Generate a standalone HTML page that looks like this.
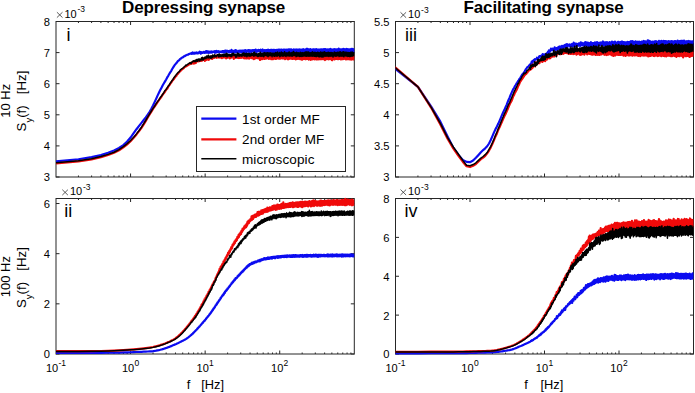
<!DOCTYPE html>
<html><head><meta charset="utf-8"><style>
html,body{margin:0;padding:0;background:#fff;width:695px;height:393px;overflow:hidden}
text{font-family:"Liberation Sans", sans-serif;fill:#000}
</style></head><body>
<svg width="695" height="393" viewBox="0 0 695 393" style="display:block"><rect width="695" height="393" fill="#fff"/><path d="M78.45 177.0v-1.5M78.45 21.5v1.5M91.58 177.0v-1.5M91.58 21.5v1.5M100.90 177.0v-1.5M100.90 21.5v1.5M108.13 177.0v-1.5M108.13 21.5v1.5M114.03 177.0v-1.5M114.03 21.5v1.5M119.02 177.0v-1.5M119.02 21.5v1.5M123.35 177.0v-1.5M123.35 21.5v1.5M127.16 177.0v-1.5M127.16 21.5v1.5M130.57 177.0v-3.5M130.57 21.5v3.5M153.02 177.0v-1.5M153.02 21.5v1.5M166.16 177.0v-1.5M166.16 21.5v1.5M175.47 177.0v-1.5M175.47 21.5v1.5M182.70 177.0v-1.5M182.70 21.5v1.5M188.61 177.0v-1.5M188.61 21.5v1.5M193.60 177.0v-1.5M193.60 21.5v1.5M197.92 177.0v-1.5M197.92 21.5v1.5M201.74 177.0v-1.5M201.74 21.5v1.5M205.15 177.0v-3.5M205.15 21.5v3.5M227.60 177.0v-1.5M227.60 21.5v1.5M240.73 177.0v-1.5M240.73 21.5v1.5M250.05 177.0v-1.5M250.05 21.5v1.5M257.28 177.0v-1.5M257.28 21.5v1.5M263.18 177.0v-1.5M263.18 21.5v1.5M268.17 177.0v-1.5M268.17 21.5v1.5M272.50 177.0v-1.5M272.50 21.5v1.5M276.31 177.0v-1.5M276.31 21.5v1.5M279.73 177.0v-3.5M279.73 21.5v3.5M302.17 177.0v-1.5M302.17 21.5v1.5M315.31 177.0v-1.5M315.31 21.5v1.5M324.62 177.0v-1.5M324.62 21.5v1.5M331.85 177.0v-1.5M331.85 21.5v1.5M337.76 177.0v-1.5M337.76 21.5v1.5M342.75 177.0v-1.5M342.75 21.5v1.5M347.07 177.0v-1.5M347.07 21.5v1.5M350.89 177.0v-1.5M350.89 21.5v1.5M56.0 177.00h3.5M354.3 177.00h-3.5M56.0 145.90h3.5M354.3 145.90h-3.5M56.0 114.80h3.5M354.3 114.80h-3.5M56.0 83.70h3.5M354.3 83.70h-3.5M56.0 52.60h3.5M354.3 52.60h-3.5M56.0 21.50h3.5M354.3 21.50h-3.5" stroke="#262626" stroke-width="1" fill="none"/><rect x="56.0" y="21.5" width="298.3" height="155.5" fill="none" stroke="#262626" stroke-width="1"/><clipPath id="ci"><rect x="56.0" y="20.5" width="298.3" height="157.5"/></clipPath><g clip-path="url(#ci)" fill="none" stroke-linejoin="round" stroke-linecap="round"><path d="M56.00 161.40 L78.45 159.23 L91.58 157.19 L100.90 155.16 L108.13 152.80 L114.03 150.42 L119.02 148.01 L123.35 145.06 L127.16 141.56 L130.57 137.55 L133.66 133.16 L136.48 129.23 L139.07 125.88 L141.47 122.86 L143.71 120.06 L145.80 117.34 L147.76 114.51 L149.61 111.74 L151.36 108.75 L153.02 105.57 L154.60 102.16 L156.11 98.91 L157.55 95.63 L158.93 92.77 L160.25 90.11 L161.52 87.68 L162.74 85.23 L163.92 83.29 L165.06 81.33 L166.16 79.44 L167.22 77.44 L168.25 75.80 L169.24 74.05 L170.21 72.43 L171.15 71.07 L172.06 69.27 L172.95 67.79 L173.81 66.46 L174.65 65.09 L175.47 64.12 L176.27 63.18 L177.05 62.26 L177.82 61.22 L178.56 60.64 L179.29 60.11 L180.00 58.99 L180.70 58.78 L181.38 58.11 L182.05 57.50 L182.70 57.52 L183.34 56.93 L183.97 56.23 L184.59 56.11 L185.19 55.87 L185.79 55.42 L186.37 55.29 L186.94 54.88 L187.51 54.77 L188.06 54.69 L188.61 54.07 L189.14 54.05 L189.67 53.76 L190.19 53.73 L190.70 53.34 L191.08 53.40 L191.32 53.25 L191.58 53.76 L191.82 53.86 L192.08 53.01 L192.32 52.79 L192.58 52.45 L192.82 53.54 L193.08 53.17 L193.32 53.02 L193.58 53.45 L193.82 53.69 L194.08 52.97 L194.32 52.95 L194.58 52.95 L194.82 53.71 L195.08 52.89 L195.32 52.83 L195.58 52.92 L195.82 53.13 L196.08 52.85 L196.32 52.45 L196.58 52.70 L196.82 52.89 L197.08 53.37 L197.32 53.15 L197.58 52.81 L197.82 53.12 L198.08 53.26 L198.32 52.64 L198.58 52.76 L198.82 53.02 L199.08 52.89 L199.32 52.14 L199.58 51.77 L199.82 51.93 L200.08 52.53 L200.32 52.26 L200.58 52.72 L200.82 53.69 L201.08 52.32 L201.32 52.23 L201.58 52.68 L201.82 52.82 L202.08 52.48 L202.32 52.46 L202.58 52.78 L202.82 52.87 L203.08 52.46 L203.32 52.00 L203.58 51.96 L203.82 52.49 L204.08 52.57 L204.32 52.02 L204.58 52.51 L204.82 52.89 L205.08 52.42 L205.32 52.09 L205.58 51.36 L205.82 52.29 L206.08 52.50 L206.32 51.76 L206.58 51.24 L206.82 52.71 L207.08 52.64 L207.32 51.40 L207.58 51.82 L207.82 52.62 L208.08 52.27 L208.32 51.45 L208.58 52.80 L208.82 52.90 L209.08 52.12 L209.32 52.02 L209.58 51.65 L209.82 52.05 L210.08 52.65 L210.32 51.83 L210.58 51.68 L210.82 52.05 L211.08 51.74 L211.32 51.42 L211.58 51.95 L211.82 52.65 L212.08 52.49 L212.32 52.01 L212.58 51.64 L212.82 51.82 L213.08 51.97 L213.32 51.68 L213.58 51.75 L213.82 51.79 L214.08 51.52 L214.32 51.23 L214.58 51.57 L214.82 52.72 L215.08 52.05 L215.32 51.36 L215.58 51.14 L215.82 52.56 L216.08 51.74 L216.32 51.53 L216.58 50.95 L216.82 52.19 L217.08 51.85 L217.32 51.80 L217.58 51.42 L217.82 52.02 L218.08 51.71 L218.32 51.51 L218.58 51.16 L218.82 51.22 L219.08 52.42 L219.32 51.50 L219.58 51.73 L219.82 51.89 L220.08 51.51 L220.32 51.48 L220.58 51.57 L220.82 52.03 L221.08 52.29 L221.32 51.63 L221.58 51.42 L221.82 52.04 L222.08 52.17 L222.32 51.00 L222.58 51.61 L222.82 52.07 L223.08 52.13 L223.32 51.44 L223.58 51.04 L223.82 52.41 L224.08 52.58 L224.32 51.89 L224.58 50.80 L224.82 52.38 L225.08 52.04 L225.32 51.12 L225.58 50.57 L225.82 52.04 L226.08 51.74 L226.32 51.49 L226.58 50.85 L226.82 51.62 L227.08 51.51 L227.32 50.78 L227.58 51.55 L227.82 51.84 L228.08 51.25 L228.32 51.08 L228.58 51.12 L228.82 51.66 L229.08 52.56 L229.32 51.73 L229.58 50.85 L229.82 51.99 L230.08 51.53 L230.32 50.82 L230.58 51.49 L230.82 51.90 L231.08 52.09 L231.32 51.37 L231.58 49.89 L231.82 51.16 L232.08 52.16 L232.32 50.91 L232.58 51.02 L232.82 52.05 L233.08 51.87 L233.32 51.45 L233.58 50.94 L233.82 51.72 L234.08 51.99 L234.32 50.82 L234.58 50.78 L234.82 52.29 L235.08 51.81 L235.32 50.12 L235.58 50.87 L235.82 51.45 L236.08 51.99 L236.32 51.31 L236.58 50.48 L236.82 52.15 L237.08 52.15 L237.32 51.70 L237.58 51.23 L237.82 51.46 L238.08 52.10 L238.32 51.31 L238.58 51.01 L238.82 52.13 L239.08 51.35 L239.32 50.76 L239.58 51.11 L239.82 51.74 L240.08 51.73 L240.32 50.49 L240.58 50.89 L240.82 52.03 L241.08 52.26 L241.32 50.76 L241.58 50.62 L241.82 51.40 L242.08 51.99 L242.32 50.68 L242.58 50.92 L242.82 52.19 L243.08 51.94 L243.32 50.53 L243.58 50.77 L243.82 51.34 L244.08 51.33 L244.32 51.03 L244.58 50.32 L244.82 52.10 L245.08 51.58 L245.32 50.18 L245.58 50.29 L245.82 51.46 L246.08 52.25 L246.32 50.54 L246.58 50.54 L246.82 51.67 L247.08 51.65 L247.32 50.87 L247.58 50.37 L247.82 51.59 L248.08 51.60 L248.32 50.22 L248.58 50.13 L248.82 51.47 L249.08 51.74 L249.32 50.50 L249.58 50.22 L249.82 52.32 L250.08 51.58 L250.32 50.42 L250.58 50.62 L250.82 51.01 L251.08 51.47 L251.32 50.27 L251.58 50.53 L251.82 51.77 L252.08 51.32 L252.32 50.64 L252.58 50.15 L252.82 51.49 L253.08 51.55 L253.32 50.10 L253.58 50.43 L253.82 51.29 L254.08 51.92 L254.32 50.08 L254.58 50.21 L254.82 51.94 L255.08 51.68 L255.32 50.29 L255.58 49.57 L255.82 51.50 L256.08 51.67 L256.32 50.03 L256.58 50.41 L256.82 51.90 L257.08 51.27 L257.32 50.44 L257.58 50.49 L257.82 51.09 L258.08 51.00 L258.32 49.92 L258.58 50.46 L258.82 51.03 L259.08 51.22 L259.32 50.12 L259.58 50.62 L259.82 51.26 L260.08 51.52 L260.32 50.16 L260.58 49.67 L260.82 51.81 L261.08 51.72 L261.32 50.30 L261.58 50.42 L261.82 51.46 L262.08 51.21 L262.32 49.79 L262.58 49.54 L262.82 51.36 L263.08 51.76 L263.32 50.64 L263.58 50.42 L263.82 51.88 L264.08 51.42 L264.32 50.14 L264.58 50.44 L264.82 51.45 L265.08 52.01 L265.32 50.43 L265.58 50.07 L265.82 51.66 L266.08 51.22 L266.32 50.37 L266.58 50.09 L266.82 52.15 L267.08 51.90 L267.32 50.62 L267.58 49.86 L267.82 51.83 L268.08 51.86 L268.32 49.72 L268.58 49.87 L268.82 51.04 L269.08 51.85 L269.32 50.02 L269.58 50.32 L269.82 52.00 L270.08 51.63 L270.32 50.30 L270.58 49.87 L270.82 51.54 L271.08 51.64 L271.32 49.81 L271.58 49.85 L271.82 51.46 L272.08 51.65 L272.32 49.98 L272.58 50.33 L272.82 52.12 L273.08 50.90 L273.32 49.78 L273.58 50.24 L273.82 51.55 L274.08 52.06 L274.32 49.95 L274.58 50.27 L274.82 51.86 L275.08 51.25 L275.32 50.24 L275.58 50.15 L275.82 51.96 L276.08 51.32 L276.32 49.74 L276.58 50.11 L276.82 51.43 L277.08 51.35 L277.32 50.48 L277.58 49.82 L277.82 51.93 L278.08 51.30 L278.32 49.66 L278.58 50.34 L278.82 51.32 L279.08 51.79 L279.32 49.88 L279.58 49.67 L279.82 51.57 L280.08 51.65 L280.32 49.79 L280.58 50.08 L280.82 51.99 L281.08 51.70 L281.32 49.65 L281.58 49.56 L281.82 51.50 L282.08 52.01 L282.32 50.03 L282.58 50.16 L282.82 51.43 L283.08 51.64 L283.32 49.62 L283.58 50.22 L283.82 51.98 L284.08 51.56 L284.32 49.65 L284.58 49.81 L284.82 51.44 L285.08 51.24 L285.32 49.87 L285.58 49.98 L285.82 51.61 L286.08 51.46 L286.32 49.51 L286.58 50.11 L286.82 52.14 L287.08 51.48 L287.32 49.99 L287.58 49.87 L287.82 51.58 L288.08 52.07 L288.32 49.43 L288.58 49.79 L288.82 51.39 L289.08 51.72 L289.32 49.90 L289.58 49.45 L289.82 52.12 L290.08 51.67 L290.32 49.61 L290.58 50.04 L290.82 51.88 L291.08 52.03 L291.32 49.31 L291.58 49.74 L291.82 51.87 L292.08 52.02 L292.32 50.09 L292.58 49.97 L292.82 52.04 L293.08 52.18 L293.32 49.74 L293.58 49.36 L293.82 51.68 L294.08 51.78 L294.32 49.67 L294.58 49.55 L294.82 51.35 L295.08 51.76 L295.32 50.15 L295.58 49.60 L295.82 51.70 L296.08 51.43 L296.32 49.60 L296.58 49.65 L296.82 51.39 L297.08 51.79 L297.32 49.48 L297.58 49.95 L297.82 51.80 L298.08 51.58 L298.32 49.51 L298.58 49.64 L298.82 51.78 L299.08 51.43 L299.32 49.97 L299.58 49.49 L299.82 51.73 L300.08 51.74 L300.32 49.98 L300.58 49.68 L300.82 51.70 L301.08 51.42 L301.32 49.85 L301.58 49.59 L301.82 51.99 L302.08 51.49 L302.32 49.45 L302.58 49.77 L302.82 51.69 L303.08 51.68 L303.32 49.53 L303.58 49.22 L303.82 51.87 L304.08 51.52 L304.32 49.68 L304.58 49.78 L304.82 51.56 L305.08 51.91 L305.32 49.61 L305.58 49.82 L305.82 51.67 L306.08 51.29 L306.32 49.77 L306.58 48.79 L306.82 51.44 L307.08 52.03 L307.32 48.89 L307.58 49.78 L307.82 51.06 L308.08 51.85 L308.32 49.33 L308.58 49.59 L308.82 51.54 L309.08 51.78 L309.32 49.48 L309.58 49.71 L309.82 51.62 L310.08 51.81 L310.32 49.10 L310.58 49.84 L310.82 51.90 L311.08 52.17 L311.32 49.79 L311.58 49.66 L311.82 51.73 L312.08 51.40 L312.32 49.51 L312.58 49.79 L312.82 51.60 L313.08 51.93 L313.32 49.29 L313.58 49.45 L313.82 51.47 L314.08 51.88 L314.32 49.23 L314.58 49.60 L314.82 51.64 L315.08 51.59 L315.32 49.43 L315.58 49.31 L315.82 51.72 L316.08 51.65 L316.32 49.46 L316.58 49.16 L316.82 52.17 L317.08 51.81 L317.32 49.87 L317.58 49.84 L317.82 51.88 L318.08 51.45 L318.32 49.54 L318.58 49.70 L318.82 51.34 L319.08 51.43 L319.32 49.56 L319.58 49.68 L319.82 51.76 L320.08 51.64 L320.32 49.55 L320.58 49.38 L320.82 51.54 L321.08 51.45 L321.32 49.49 L321.58 49.43 L321.82 51.53 L322.08 51.28 L322.32 49.50 L322.58 49.50 L322.82 52.13 L323.08 51.52 L323.32 49.29 L323.58 49.20 L323.82 51.83 L324.08 51.70 L324.32 49.61 L324.58 49.18 L324.82 51.69 L325.08 51.38 L325.32 49.17 L325.58 49.61 L325.82 51.60 L326.08 51.46 L326.32 49.65 L326.58 49.64 L326.82 51.82 L327.08 51.64 L327.32 49.31 L327.58 49.84 L327.82 51.71 L328.08 51.19 L328.32 49.71 L328.58 49.52 L328.82 51.70 L329.08 51.82 L329.32 49.86 L329.58 49.49 L329.82 51.45 L330.08 51.73 L330.32 49.35 L330.58 48.97 L330.82 51.21 L331.08 51.43 L331.32 49.63 L331.58 49.66 L331.82 51.36 L332.08 51.21 L332.32 49.67 L332.58 49.53 L332.82 51.57 L333.08 51.52 L333.32 49.60 L333.58 49.44 L333.82 51.69 L334.08 51.66 L334.32 49.33 L334.58 49.22 L334.82 51.43 L335.08 51.65 L335.32 49.30 L335.58 49.47 L335.82 51.43 L336.08 52.55 L336.32 49.66 L336.58 49.48 L336.82 51.69 L337.08 51.44 L337.32 49.42 L337.58 49.49 L337.82 51.64 L338.08 51.58 L338.32 49.24 L338.58 48.75 L338.82 51.97 L339.08 51.39 L339.32 48.97 L339.58 49.32 L339.82 51.41 L340.08 51.29 L340.32 49.34 L340.58 49.70 L340.82 51.66 L341.08 51.41 L341.32 49.61 L341.58 49.35 L341.82 51.26 L342.08 51.62 L342.32 49.43 L342.58 49.48 L342.82 51.65 L343.08 51.35 L343.32 48.95 L343.58 49.56 L343.82 52.11 L344.08 51.43 L344.32 49.68 L344.58 49.24 L344.82 51.30 L345.08 51.54 L345.32 49.57 L345.58 49.38 L345.82 51.43 L346.08 51.58 L346.32 49.35 L346.58 49.00 L346.82 52.04 L347.08 51.49 L347.32 49.62 L347.58 49.37 L347.82 51.60 L348.08 51.70 L348.32 49.47 L348.58 49.47 L348.82 51.34 L349.08 51.58 L349.32 49.37 L349.58 49.88 L349.82 51.45 L350.08 51.69 L350.32 49.39 L350.58 49.44 L350.82 51.56 L351.08 51.59 L351.32 48.96 L351.58 49.58 L351.82 51.78 L352.08 51.42 L352.32 49.42 L352.58 48.88 L352.82 51.53 L353.08 51.61 L353.32 49.76 L353.58 49.30 L353.82 51.31 L354.08 51.69 L354.32 49.55" stroke="#0b0bf0" stroke-width="2.2"/><path d="M56.00 163.40 L78.45 161.40 L91.58 159.35 L100.90 157.19 L108.13 154.99 L114.03 152.83 L119.02 150.25 L123.35 147.31 L127.16 144.31 L130.57 141.23 L133.66 137.87 L136.48 134.45 L139.07 131.11 L141.47 127.82 L143.71 124.39 L145.80 120.89 L147.76 117.49 L149.61 114.43 L151.36 111.65 L153.02 108.85 L154.60 106.60 L156.11 104.40 L157.55 102.14 L158.93 100.03 L160.25 98.40 L161.52 96.52 L162.74 94.56 L163.92 93.09 L165.06 91.49 L166.16 89.63 L167.22 88.70 L168.25 86.69 L169.24 85.36 L170.21 83.82 L171.15 82.66 L172.06 81.11 L172.95 80.07 L173.81 79.07 L174.65 77.76 L175.47 76.58 L176.27 75.90 L177.05 74.44 L177.82 73.91 L178.56 72.79 L179.29 72.10 L180.00 71.33 L180.70 70.68 L181.38 70.02 L182.05 69.28 L182.70 68.78 L183.34 68.49 L183.97 67.87 L184.59 67.15 L185.19 66.81 L185.79 66.39 L186.37 66.16 L186.94 65.84 L187.51 65.47 L188.06 64.95 L188.61 64.82 L189.14 64.16 L189.67 63.49 L190.19 64.00 L190.70 63.34 L191.08 63.06 L191.32 62.91 L191.58 62.69 L191.82 63.72 L192.08 63.31 L192.32 62.88 L192.58 62.06 L192.82 62.25 L193.08 63.02 L193.32 62.98 L193.58 63.02 L193.82 63.63 L194.08 62.54 L194.32 62.54 L194.58 62.13 L194.82 62.26 L195.08 61.82 L195.32 61.49 L195.58 60.74 L195.82 63.04 L196.08 61.95 L196.32 61.84 L196.58 60.93 L196.82 61.61 L197.08 61.24 L197.32 61.08 L197.58 60.54 L197.82 61.18 L198.08 60.80 L198.32 60.71 L198.58 60.24 L198.82 61.33 L199.08 61.04 L199.32 60.37 L199.58 60.66 L199.82 60.89 L200.08 60.63 L200.32 59.85 L200.58 59.78 L200.82 59.84 L201.08 60.70 L201.32 60.32 L201.58 59.75 L201.82 60.79 L202.08 60.00 L202.32 58.87 L202.58 58.34 L202.82 59.24 L203.08 59.25 L203.32 58.65 L203.58 58.36 L203.82 59.93 L204.08 58.89 L204.32 58.29 L204.58 59.43 L204.82 60.91 L205.08 59.65 L205.32 58.96 L205.58 58.52 L205.82 60.15 L206.08 58.01 L206.32 57.85 L206.58 58.26 L206.82 58.69 L207.08 59.63 L207.32 57.54 L207.58 58.02 L207.82 58.69 L208.08 59.09 L208.32 58.79 L208.58 58.51 L208.82 59.80 L209.08 58.27 L209.32 57.81 L209.58 57.80 L209.82 58.62 L210.08 57.70 L210.32 57.58 L210.58 57.00 L210.82 57.34 L211.08 57.29 L211.32 56.60 L211.58 56.47 L211.82 57.84 L212.08 58.92 L212.32 58.66 L212.58 57.23 L212.82 58.15 L213.08 58.15 L213.32 56.88 L213.58 57.34 L213.82 57.60 L214.08 57.88 L214.32 56.64 L214.58 56.52 L214.82 57.15 L215.08 56.56 L215.32 55.81 L215.58 56.65 L215.82 57.32 L216.08 57.48 L216.32 56.61 L216.58 56.84 L216.82 57.76 L217.08 57.27 L217.32 55.18 L217.58 55.78 L217.82 57.22 L218.08 57.47 L218.32 55.95 L218.58 56.10 L218.82 56.40 L219.08 57.26 L219.32 56.61 L219.58 56.23 L219.82 57.17 L220.08 57.59 L220.32 57.04 L220.58 55.29 L220.82 57.05 L221.08 57.28 L221.32 56.19 L221.58 55.60 L221.82 58.13 L222.08 57.91 L222.32 56.37 L222.58 55.87 L222.82 57.04 L223.08 57.54 L223.32 56.17 L223.58 56.61 L223.82 57.31 L224.08 57.32 L224.32 56.12 L224.58 55.85 L224.82 57.35 L225.08 57.65 L225.32 55.70 L225.58 55.55 L225.82 56.87 L226.08 58.37 L226.32 56.65 L226.58 56.64 L226.82 57.51 L227.08 57.90 L227.32 56.17 L227.58 56.51 L227.82 56.75 L228.08 57.29 L228.32 56.35 L228.58 55.80 L228.82 57.64 L229.08 56.80 L229.32 55.73 L229.58 57.03 L229.82 58.39 L230.08 57.31 L230.32 55.19 L230.58 56.28 L230.82 57.83 L231.08 57.36 L231.32 55.60 L231.58 56.35 L231.82 57.05 L232.08 57.33 L232.32 55.42 L232.58 55.83 L232.82 57.20 L233.08 57.52 L233.32 56.31 L233.58 55.39 L233.82 58.90 L234.08 57.11 L234.32 55.90 L234.58 55.66 L234.82 56.84 L235.08 57.93 L235.32 56.61 L235.58 56.27 L235.82 57.57 L236.08 57.48 L236.32 55.88 L236.58 56.88 L236.82 57.49 L237.08 56.53 L237.32 56.11 L237.58 55.99 L237.82 57.62 L238.08 57.90 L238.32 56.45 L238.58 56.54 L238.82 57.44 L239.08 58.10 L239.32 57.39 L239.58 56.15 L239.82 57.45 L240.08 57.39 L240.32 56.22 L240.58 56.74 L240.82 57.90 L241.08 57.78 L241.32 56.17 L241.58 55.82 L241.82 57.67 L242.08 57.44 L242.32 56.13 L242.58 56.43 L242.82 57.18 L243.08 57.34 L243.32 56.38 L243.58 56.45 L243.82 57.99 L244.08 58.31 L244.32 56.33 L244.58 56.94 L244.82 57.88 L245.08 57.70 L245.32 56.11 L245.58 57.06 L245.82 58.37 L246.08 58.34 L246.32 56.17 L246.58 56.60 L246.82 57.90 L247.08 58.29 L247.32 56.62 L247.58 56.32 L247.82 58.17 L248.08 57.69 L248.32 55.72 L248.58 56.19 L248.82 57.86 L249.08 58.69 L249.32 56.72 L249.58 55.99 L249.82 58.06 L250.08 57.68 L250.32 55.95 L250.58 55.62 L250.82 57.49 L251.08 57.63 L251.32 56.68 L251.58 56.19 L251.82 58.02 L252.08 57.72 L252.32 56.70 L252.58 55.83 L252.82 58.36 L253.08 58.45 L253.32 56.66 L253.58 56.40 L253.82 59.20 L254.08 57.96 L254.32 56.63 L254.58 57.30 L254.82 57.69 L255.08 58.51 L255.32 56.32 L255.58 55.23 L255.82 58.16 L256.08 57.77 L256.32 55.93 L256.58 55.71 L256.82 57.48 L257.08 58.17 L257.32 56.94 L257.58 56.63 L257.82 58.23 L258.08 58.11 L258.32 56.29 L258.58 56.39 L258.82 57.97 L259.08 58.56 L259.32 56.33 L259.58 56.91 L259.82 58.84 L260.08 59.97 L260.32 55.81 L260.58 56.28 L260.82 58.48 L261.08 57.81 L261.32 56.69 L261.58 56.22 L261.82 57.77 L262.08 59.23 L262.32 55.85 L262.58 55.61 L262.82 58.25 L263.08 57.76 L263.32 56.90 L263.58 55.80 L263.82 58.75 L264.08 58.90 L264.32 56.35 L264.58 56.12 L264.82 58.83 L265.08 57.77 L265.32 56.40 L265.58 56.29 L265.82 58.67 L266.08 58.63 L266.32 56.86 L266.58 56.35 L266.82 58.16 L267.08 58.07 L267.32 56.56 L267.58 56.40 L267.82 58.05 L268.08 58.40 L268.32 56.38 L268.58 56.33 L268.82 58.94 L269.08 58.45 L269.32 56.63 L269.58 56.64 L269.82 58.37 L270.08 58.10 L270.32 56.54 L270.58 56.07 L270.82 58.32 L271.08 59.09 L271.32 56.45 L271.58 55.90 L271.82 58.46 L272.08 58.98 L272.32 56.35 L272.58 56.26 L272.82 58.49 L273.08 59.22 L273.32 56.53 L273.58 56.76 L273.82 58.37 L274.08 58.44 L274.32 56.27 L274.58 56.09 L274.82 58.09 L275.08 58.82 L275.32 56.22 L275.58 55.59 L275.82 58.37 L276.08 58.94 L276.32 56.47 L276.58 56.65 L276.82 58.29 L277.08 58.17 L277.32 56.08 L277.58 55.65 L277.82 58.39 L278.08 58.35 L278.32 56.29 L278.58 55.87 L278.82 58.54 L279.08 58.21 L279.32 56.20 L279.58 56.26 L279.82 58.41 L280.08 58.68 L280.32 56.22 L280.58 56.27 L280.82 58.37 L281.08 58.23 L281.32 56.12 L281.58 56.23 L281.82 58.16 L282.08 58.31 L282.32 56.33 L282.58 55.94 L282.82 58.45 L283.08 58.32 L283.32 55.47 L283.58 55.55 L283.82 58.22 L284.08 58.40 L284.32 56.23 L284.58 55.90 L284.82 58.68 L285.08 59.09 L285.32 56.28 L285.58 56.01 L285.82 58.61 L286.08 58.27 L286.32 55.82 L286.58 56.44 L286.82 58.29 L287.08 58.64 L287.32 55.71 L287.58 56.53 L287.82 58.46 L288.08 59.40 L288.32 56.56 L288.58 56.14 L288.82 58.33 L289.08 58.95 L289.32 56.04 L289.58 56.13 L289.82 58.48 L290.08 58.50 L290.32 56.30 L290.58 56.78 L290.82 58.74 L291.08 58.18 L291.32 56.27 L291.58 56.39 L291.82 58.58 L292.08 58.73 L292.32 55.77 L292.58 56.23 L292.82 58.90 L293.08 58.64 L293.32 56.45 L293.58 56.50 L293.82 58.65 L294.08 58.43 L294.32 56.21 L294.58 56.27 L294.82 58.93 L295.08 58.76 L295.32 56.39 L295.58 55.69 L295.82 59.33 L296.08 59.21 L296.32 55.97 L296.58 56.16 L296.82 58.73 L297.08 58.72 L297.32 55.72 L297.58 55.31 L297.82 58.80 L298.08 58.82 L298.32 56.00 L298.58 56.49 L298.82 58.60 L299.08 58.64 L299.32 56.50 L299.58 56.01 L299.82 59.03 L300.08 58.84 L300.32 56.11 L300.58 55.88 L300.82 59.05 L301.08 59.29 L301.32 56.77 L301.58 56.94 L301.82 59.27 L302.08 59.72 L302.32 55.83 L302.58 56.35 L302.82 58.90 L303.08 58.94 L303.32 55.69 L303.58 56.04 L303.82 58.45 L304.08 59.01 L304.32 55.96 L304.58 55.73 L304.82 58.87 L305.08 58.68 L305.32 55.87 L305.58 56.08 L305.82 59.28 L306.08 58.48 L306.32 55.77 L306.58 56.24 L306.82 58.93 L307.08 58.51 L307.32 56.15 L307.58 55.78 L307.82 58.95 L308.08 58.56 L308.32 55.81 L308.58 55.44 L308.82 59.62 L309.08 59.26 L309.32 56.02 L309.58 56.16 L309.82 58.81 L310.08 58.36 L310.32 55.47 L310.58 55.69 L310.82 59.90 L311.08 59.35 L311.32 55.12 L311.58 55.98 L311.82 58.45 L312.08 58.52 L312.32 55.51 L312.58 56.28 L312.82 59.44 L313.08 59.09 L313.32 55.04 L313.58 56.31 L313.82 58.67 L314.08 58.62 L314.32 55.62 L314.58 55.99 L314.82 59.52 L315.08 58.62 L315.32 56.09 L315.58 55.94 L315.82 59.17 L316.08 58.86 L316.32 56.35 L316.58 55.79 L316.82 58.82 L317.08 59.53 L317.32 56.13 L317.58 55.88 L317.82 58.85 L318.08 58.69 L318.32 55.09 L318.58 56.05 L318.82 59.32 L319.08 58.66 L319.32 56.13 L319.58 55.68 L319.82 58.80 L320.08 59.21 L320.32 55.87 L320.58 56.23 L320.82 58.99 L321.08 59.23 L321.32 56.30 L321.58 56.26 L321.82 59.01 L322.08 58.86 L322.32 56.22 L322.58 55.99 L322.82 59.04 L323.08 59.03 L323.32 56.25 L323.58 55.99 L323.82 59.18 L324.08 59.13 L324.32 55.41 L324.58 55.67 L324.82 59.31 L325.08 60.03 L325.32 55.99 L325.58 55.52 L325.82 58.84 L326.08 59.06 L326.32 55.84 L326.58 55.93 L326.82 59.19 L327.08 58.96 L327.32 56.11 L327.58 55.53 L327.82 58.63 L328.08 58.97 L328.32 56.14 L328.58 56.06 L328.82 59.33 L329.08 58.78 L329.32 56.05 L329.58 56.12 L329.82 58.76 L330.08 58.91 L330.32 56.53 L330.58 55.95 L330.82 59.15 L331.08 59.10 L331.32 55.55 L331.58 56.09 L331.82 60.03 L332.08 60.22 L332.32 55.88 L332.58 56.04 L332.82 59.34 L333.08 58.73 L333.32 55.50 L333.58 56.14 L333.82 58.97 L334.08 59.30 L334.32 56.04 L334.58 56.06 L334.82 59.32 L335.08 59.05 L335.32 55.69 L335.58 56.33 L335.82 58.80 L336.08 58.96 L336.32 56.12 L336.58 55.21 L336.82 58.69 L337.08 58.84 L337.32 56.14 L337.58 56.32 L337.82 58.97 L338.08 59.27 L338.32 55.98 L338.58 56.48 L338.82 58.91 L339.08 58.86 L339.32 55.91 L339.58 55.79 L339.82 58.96 L340.08 58.69 L340.32 56.02 L340.58 55.60 L340.82 59.49 L341.08 59.51 L341.32 55.43 L341.58 56.45 L341.82 59.17 L342.08 58.76 L342.32 56.30 L342.58 56.20 L342.82 59.12 L343.08 59.12 L343.32 56.32 L343.58 55.88 L343.82 58.77 L344.08 58.54 L344.32 55.90 L344.58 56.16 L344.82 58.98 L345.08 58.54 L345.32 56.17 L345.58 56.03 L345.82 59.44 L346.08 59.36 L346.32 56.24 L346.58 56.23 L346.82 59.23 L347.08 58.88 L347.32 55.79 L347.58 55.90 L347.82 59.03 L348.08 59.17 L348.32 56.17 L348.58 55.55 L348.82 58.85 L349.08 59.10 L349.32 55.81 L349.58 56.18 L349.82 59.31 L350.08 58.88 L350.32 55.95 L350.58 55.90 L350.82 59.27 L351.08 59.57 L351.32 55.85 L351.58 55.88 L351.82 58.64 L352.08 59.12 L352.32 55.94 L352.58 55.98 L352.82 58.93 L353.08 59.32 L353.32 56.34 L353.58 55.44 L353.82 59.31 L354.08 58.91 L354.32 56.51" stroke="#f00a0a" stroke-width="2.2"/><path d="M56.00 162.80 L78.45 160.80 L91.58 158.75 L100.90 156.59 L108.13 154.40 L114.03 152.23 L119.02 149.62 L123.35 146.63 L127.16 143.61 L130.57 140.54 L133.66 137.23 L136.48 133.87 L139.07 130.54 L141.47 127.20 L143.71 123.69 L145.80 120.25 L147.76 116.89 L149.61 113.85 L151.36 111.01 L153.02 108.35 L154.60 106.23 L156.11 103.64 L157.55 101.67 L158.93 99.86 L160.25 97.56 L161.52 95.99 L162.74 94.26 L163.92 92.42 L165.06 90.47 L166.16 89.45 L167.22 87.70 L168.25 86.09 L169.24 84.95 L170.21 83.15 L171.15 82.11 L172.06 80.47 L172.95 79.41 L173.81 77.85 L174.65 76.83 L175.47 75.61 L176.27 74.61 L177.05 73.83 L177.82 72.83 L178.56 72.06 L179.29 71.54 L180.00 70.46 L180.70 69.34 L181.38 69.10 L182.05 68.59 L182.70 68.25 L183.34 67.71 L183.97 67.16 L184.59 66.34 L185.19 66.11 L185.79 65.07 L186.37 65.45 L186.94 64.82 L187.51 64.48 L188.06 63.89 L188.61 63.72 L189.14 63.22 L189.67 63.35 L190.19 62.52 L190.70 63.01 L191.08 63.79 L191.32 62.84 L191.58 62.22 L191.82 62.26 L192.08 62.21 L192.32 62.11 L192.58 61.17 L192.82 61.82 L193.08 61.33 L193.32 60.97 L193.58 60.73 L193.82 61.33 L194.08 61.16 L194.32 60.57 L194.58 61.05 L194.82 61.68 L195.08 61.68 L195.32 61.48 L195.58 60.56 L195.82 61.38 L196.08 60.41 L196.32 59.39 L196.58 60.05 L196.82 60.86 L197.08 61.33 L197.32 59.60 L197.58 59.95 L197.82 61.24 L198.08 60.73 L198.32 59.04 L198.58 59.14 L198.82 59.64 L199.08 59.76 L199.32 59.62 L199.58 58.96 L199.82 61.05 L200.08 59.65 L200.32 59.65 L200.58 59.41 L200.82 59.79 L201.08 58.94 L201.32 58.69 L201.58 57.69 L201.82 60.08 L202.08 58.07 L202.32 57.50 L202.58 57.36 L202.82 57.98 L203.08 59.99 L203.32 58.72 L203.58 59.37 L203.82 59.40 L204.08 58.55 L204.32 58.54 L204.58 57.35 L204.82 57.86 L205.08 57.80 L205.32 57.28 L205.58 57.04 L205.82 58.62 L206.08 58.06 L206.32 57.36 L206.58 55.95 L206.82 57.84 L207.08 57.86 L207.32 57.09 L207.58 55.99 L207.82 57.35 L208.08 57.72 L208.32 55.33 L208.58 55.28 L208.82 57.21 L209.08 58.04 L209.32 56.70 L209.58 56.60 L209.82 56.91 L210.08 56.43 L210.32 56.17 L210.58 57.42 L210.82 58.25 L211.08 56.02 L211.32 55.96 L211.58 56.23 L211.82 57.99 L212.08 57.06 L212.32 56.33 L212.58 55.08 L212.82 55.81 L213.08 57.13 L213.32 56.00 L213.58 55.38 L213.82 55.45 L214.08 55.48 L214.32 55.42 L214.58 54.68 L214.82 56.89 L215.08 56.67 L215.32 56.19 L215.58 55.56 L215.82 56.12 L216.08 56.75 L216.32 55.93 L216.58 56.05 L216.82 56.42 L217.08 55.19 L217.32 54.75 L217.58 55.03 L217.82 55.17 L218.08 55.21 L218.32 54.64 L218.58 55.83 L218.82 56.95 L219.08 54.69 L219.32 53.94 L219.58 54.46 L219.82 55.73 L220.08 56.37 L220.32 54.71 L220.58 55.26 L220.82 55.98 L221.08 56.55 L221.32 55.70 L221.58 55.12 L221.82 56.00 L222.08 55.66 L222.32 54.45 L222.58 55.06 L222.82 55.30 L223.08 56.26 L223.32 54.50 L223.58 54.38 L223.82 56.44 L224.08 55.92 L224.32 54.20 L224.58 54.74 L224.82 56.02 L225.08 56.11 L225.32 55.15 L225.58 53.89 L225.82 55.45 L226.08 56.34 L226.32 54.17 L226.58 53.14 L226.82 55.90 L227.08 56.82 L227.32 54.29 L227.58 54.07 L227.82 55.82 L228.08 55.57 L228.32 54.48 L228.58 55.10 L228.82 55.78 L229.08 56.25 L229.32 54.71 L229.58 54.56 L229.82 55.42 L230.08 54.87 L230.32 54.52 L230.58 55.23 L230.82 56.54 L231.08 56.20 L231.32 54.88 L231.58 53.99 L231.82 56.46 L232.08 55.93 L232.32 54.51 L232.58 53.47 L232.82 54.79 L233.08 54.99 L233.32 53.17 L233.58 53.73 L233.82 55.13 L234.08 55.65 L234.32 54.52 L234.58 54.21 L234.82 55.44 L235.08 55.27 L235.32 54.16 L235.58 54.77 L235.82 57.30 L236.08 55.80 L236.32 54.98 L236.58 55.16 L236.82 56.80 L237.08 55.10 L237.32 53.09 L237.58 54.16 L237.82 54.95 L238.08 55.46 L238.32 53.40 L238.58 54.45 L238.82 55.75 L239.08 56.41 L239.32 54.52 L239.58 53.97 L239.82 55.22 L240.08 55.99 L240.32 54.74 L240.58 54.34 L240.82 55.50 L241.08 55.76 L241.32 54.23 L241.58 54.26 L241.82 56.15 L242.08 55.64 L242.32 53.98 L242.58 53.49 L242.82 55.65 L243.08 55.37 L243.32 53.11 L243.58 53.09 L243.82 55.46 L244.08 55.10 L244.32 53.23 L244.58 54.05 L244.82 56.08 L245.08 56.26 L245.32 53.85 L245.58 54.08 L245.82 55.37 L246.08 55.30 L246.32 53.22 L246.58 54.20 L246.82 56.66 L247.08 56.34 L247.32 53.85 L247.58 54.02 L247.82 55.79 L248.08 55.36 L248.32 53.33 L248.58 53.81 L248.82 55.73 L249.08 56.11 L249.32 54.44 L249.58 53.77 L249.82 55.11 L250.08 55.98 L250.32 54.00 L250.58 54.10 L250.82 55.96 L251.08 55.14 L251.32 53.35 L251.58 54.42 L251.82 55.55 L252.08 55.40 L252.32 53.59 L252.58 53.69 L252.82 55.24 L253.08 55.42 L253.32 53.62 L253.58 52.67 L253.82 56.16 L254.08 56.07 L254.32 52.21 L254.58 52.15 L254.82 55.70 L255.08 55.46 L255.32 53.48 L255.58 53.96 L255.82 55.46 L256.08 55.24 L256.32 53.80 L256.58 53.47 L256.82 55.18 L257.08 56.01 L257.32 54.20 L257.58 54.16 L257.82 56.59 L258.08 55.43 L258.32 53.45 L258.58 54.42 L258.82 56.18 L259.08 55.91 L259.32 53.47 L259.58 53.21 L259.82 55.52 L260.08 55.84 L260.32 52.29 L260.58 53.28 L260.82 56.26 L261.08 56.11 L261.32 53.51 L261.58 53.64 L261.82 55.86 L262.08 56.09 L262.32 53.54 L262.58 53.23 L262.82 55.99 L263.08 55.36 L263.32 53.30 L263.58 53.86 L263.82 56.69 L264.08 55.53 L264.32 52.74 L264.58 52.58 L264.82 55.20 L265.08 55.46 L265.32 52.96 L265.58 53.74 L265.82 55.36 L266.08 55.28 L266.32 52.95 L266.58 53.45 L266.82 55.56 L267.08 56.07 L267.32 52.78 L267.58 52.74 L267.82 55.67 L268.08 56.65 L268.32 53.49 L268.58 53.01 L268.82 55.19 L269.08 55.63 L269.32 53.06 L269.58 53.91 L269.82 55.39 L270.08 55.68 L270.32 53.11 L270.58 52.89 L270.82 55.51 L271.08 55.01 L271.32 53.10 L271.58 53.34 L271.82 55.33 L272.08 56.67 L272.32 53.58 L272.58 53.22 L272.82 55.31 L273.08 55.26 L273.32 53.67 L273.58 53.32 L273.82 55.51 L274.08 56.21 L274.32 53.57 L274.58 53.54 L274.82 56.18 L275.08 55.13 L275.32 52.74 L275.58 52.48 L275.82 55.45 L276.08 56.03 L276.32 53.36 L276.58 52.75 L276.82 55.60 L277.08 56.10 L277.32 52.30 L277.58 52.14 L277.82 55.88 L278.08 55.06 L278.32 53.22 L278.58 53.28 L278.82 55.58 L279.08 55.57 L279.32 53.34 L279.58 52.44 L279.82 56.75 L280.08 55.21 L280.32 53.43 L280.58 53.77 L280.82 55.25 L281.08 55.90 L281.32 51.88 L281.58 53.26 L281.82 55.37 L282.08 55.73 L282.32 52.68 L282.58 53.02 L282.82 56.32 L283.08 56.11 L283.32 53.27 L283.58 53.34 L283.82 55.70 L284.08 55.44 L284.32 52.35 L284.58 51.80 L284.82 55.54 L285.08 55.93 L285.32 52.77 L285.58 53.06 L285.82 55.94 L286.08 56.50 L286.32 53.22 L286.58 52.82 L286.82 55.37 L287.08 55.16 L287.32 52.95 L287.58 53.31 L287.82 55.93 L288.08 55.33 L288.32 52.70 L288.58 52.39 L288.82 55.91 L289.08 56.03 L289.32 52.11 L289.58 53.93 L289.82 56.09 L290.08 55.86 L290.32 53.12 L290.58 52.97 L290.82 55.81 L291.08 55.85 L291.32 53.15 L291.58 52.90 L291.82 56.14 L292.08 56.28 L292.32 52.30 L292.58 53.13 L292.82 55.75 L293.08 55.52 L293.32 52.76 L293.58 51.59 L293.82 55.60 L294.08 55.41 L294.32 52.43 L294.58 53.33 L294.82 55.55 L295.08 55.37 L295.32 53.22 L295.58 52.71 L295.82 55.79 L296.08 56.62 L296.32 52.97 L296.58 52.17 L296.82 55.55 L297.08 56.12 L297.32 52.76 L297.58 52.86 L297.82 55.93 L298.08 55.49 L298.32 53.28 L298.58 52.71 L298.82 56.02 L299.08 56.35 L299.32 52.97 L299.58 52.90 L299.82 55.60 L300.08 56.38 L300.32 52.22 L300.58 53.24 L300.82 56.17 L301.08 55.90 L301.32 52.90 L301.58 52.81 L301.82 55.69 L302.08 56.36 L302.32 53.21 L302.58 52.60 L302.82 55.52 L303.08 56.04 L303.32 53.29 L303.58 52.86 L303.82 55.88 L304.08 55.72 L304.32 53.55 L304.58 52.56 L304.82 55.91 L305.08 55.79 L305.32 51.91 L305.58 52.75 L305.82 56.32 L306.08 55.88 L306.32 51.88 L306.58 52.10 L306.82 55.39 L307.08 56.14 L307.32 52.10 L307.58 53.05 L307.82 55.89 L308.08 55.55 L308.32 52.64 L308.58 51.98 L308.82 56.26 L309.08 55.45 L309.32 52.63 L309.58 52.99 L309.82 55.94 L310.08 56.24 L310.32 52.96 L310.58 52.77 L310.82 55.73 L311.08 55.84 L311.32 52.58 L311.58 52.93 L311.82 55.91 L312.08 56.29 L312.32 52.05 L312.58 51.90 L312.82 56.09 L313.08 55.62 L313.32 52.53 L313.58 53.60 L313.82 55.73 L314.08 56.19 L314.32 52.68 L314.58 52.38 L314.82 56.37 L315.08 56.22 L315.32 52.49 L315.58 52.47 L315.82 56.53 L316.08 56.44 L316.32 52.73 L316.58 53.19 L316.82 56.38 L317.08 55.96 L317.32 52.85 L317.58 52.26 L317.82 55.72 L318.08 56.33 L318.32 52.48 L318.58 52.72 L318.82 56.72 L319.08 55.72 L319.32 52.94 L319.58 52.73 L319.82 56.74 L320.08 56.31 L320.32 52.88 L320.58 51.99 L320.82 55.59 L321.08 56.37 L321.32 52.39 L321.58 52.39 L321.82 56.88 L322.08 56.50 L322.32 53.07 L322.58 52.36 L322.82 56.19 L323.08 56.98 L323.32 52.69 L323.58 52.37 L323.82 55.26 L324.08 56.06 L324.32 51.84 L324.58 53.04 L324.82 55.41 L325.08 56.38 L325.32 52.41 L325.58 52.52 L325.82 55.55 L326.08 55.79 L326.32 52.63 L326.58 52.85 L326.82 56.21 L327.08 56.10 L327.32 52.48 L327.58 52.58 L327.82 55.28 L328.08 56.05 L328.32 52.61 L328.58 52.28 L328.82 56.53 L329.08 56.25 L329.32 52.73 L329.58 52.96 L329.82 55.87 L330.08 55.93 L330.32 52.55 L330.58 52.69 L330.82 56.16 L331.08 55.56 L331.32 52.61 L331.58 52.89 L331.82 56.05 L332.08 55.27 L332.32 52.85 L332.58 52.83 L332.82 55.86 L333.08 56.96 L333.32 53.03 L333.58 52.90 L333.82 55.84 L334.08 55.77 L334.32 52.01 L334.58 52.62 L334.82 56.07 L335.08 55.62 L335.32 52.81 L335.58 52.63 L335.82 56.15 L336.08 55.87 L336.32 52.99 L336.58 52.56 L336.82 56.00 L337.08 56.00 L337.32 52.83 L337.58 52.24 L337.82 55.57 L338.08 55.44 L338.32 52.62 L338.58 52.93 L338.82 55.73 L339.08 56.46 L339.32 52.11 L339.58 52.89 L339.82 55.77 L340.08 55.91 L340.32 51.83 L340.58 52.93 L340.82 55.70 L341.08 56.19 L341.32 52.68 L341.58 52.57 L341.82 55.98 L342.08 55.97 L342.32 52.08 L342.58 52.93 L342.82 55.68 L343.08 56.09 L343.32 52.48 L343.58 51.71 L343.82 56.76 L344.08 55.87 L344.32 52.31 L344.58 52.48 L344.82 55.69 L345.08 55.64 L345.32 52.39 L345.58 52.29 L345.82 55.67 L346.08 55.98 L346.32 52.22 L346.58 52.44 L346.82 55.67 L347.08 56.01 L347.32 52.60 L347.58 53.23 L347.82 56.38 L348.08 56.30 L348.32 52.54 L348.58 52.70 L348.82 55.99 L349.08 56.39 L349.32 52.72 L349.58 52.77 L349.82 55.57 L350.08 56.55 L350.32 53.38 L350.58 52.18 L350.82 56.25 L351.08 55.89 L351.32 52.49 L351.58 52.25 L351.82 55.75 L352.08 56.26 L352.32 52.01 L352.58 52.50 L352.82 55.64 L353.08 55.59 L353.32 52.89 L353.58 52.90 L353.82 55.61 L354.08 55.77 L354.32 52.76" stroke="#000" stroke-width="1.5"/></g><text x="50.0" y="181.4" text-anchor="end" font-size="11.2">3</text><text x="50.0" y="150.3" text-anchor="end" font-size="11.2">4</text><text x="50.0" y="119.2" text-anchor="end" font-size="11.2">5</text><text x="50.0" y="88.1" text-anchor="end" font-size="11.2">6</text><text x="50.0" y="57.0" text-anchor="end" font-size="11.2">7</text><text x="50.0" y="25.9" text-anchor="end" font-size="11.2">8</text><path d="M78.45 354.0v-1.5M78.45 198.5v1.5M91.58 354.0v-1.5M91.58 198.5v1.5M100.90 354.0v-1.5M100.90 198.5v1.5M108.13 354.0v-1.5M108.13 198.5v1.5M114.03 354.0v-1.5M114.03 198.5v1.5M119.02 354.0v-1.5M119.02 198.5v1.5M123.35 354.0v-1.5M123.35 198.5v1.5M127.16 354.0v-1.5M127.16 198.5v1.5M130.57 354.0v-3.5M130.57 198.5v3.5M153.02 354.0v-1.5M153.02 198.5v1.5M166.16 354.0v-1.5M166.16 198.5v1.5M175.47 354.0v-1.5M175.47 198.5v1.5M182.70 354.0v-1.5M182.70 198.5v1.5M188.61 354.0v-1.5M188.61 198.5v1.5M193.60 354.0v-1.5M193.60 198.5v1.5M197.92 354.0v-1.5M197.92 198.5v1.5M201.74 354.0v-1.5M201.74 198.5v1.5M205.15 354.0v-3.5M205.15 198.5v3.5M227.60 354.0v-1.5M227.60 198.5v1.5M240.73 354.0v-1.5M240.73 198.5v1.5M250.05 354.0v-1.5M250.05 198.5v1.5M257.28 354.0v-1.5M257.28 198.5v1.5M263.18 354.0v-1.5M263.18 198.5v1.5M268.17 354.0v-1.5M268.17 198.5v1.5M272.50 354.0v-1.5M272.50 198.5v1.5M276.31 354.0v-1.5M276.31 198.5v1.5M279.73 354.0v-3.5M279.73 198.5v3.5M302.17 354.0v-1.5M302.17 198.5v1.5M315.31 354.0v-1.5M315.31 198.5v1.5M324.62 354.0v-1.5M324.62 198.5v1.5M331.85 354.0v-1.5M331.85 198.5v1.5M337.76 354.0v-1.5M337.76 198.5v1.5M342.75 354.0v-1.5M342.75 198.5v1.5M347.07 354.0v-1.5M347.07 198.5v1.5M350.89 354.0v-1.5M350.89 198.5v1.5M56.0 354.00h3.5M354.3 354.00h-3.5M56.0 303.84h3.5M354.3 303.84h-3.5M56.0 253.68h3.5M354.3 253.68h-3.5M56.0 203.52h3.5M354.3 203.52h-3.5" stroke="#262626" stroke-width="1" fill="none"/><rect x="56.0" y="198.5" width="298.3" height="155.5" fill="none" stroke="#262626" stroke-width="1"/><clipPath id="cii"><rect x="56.0" y="197.5" width="298.3" height="157.5"/></clipPath><g clip-path="url(#cii)" fill="none" stroke-linejoin="round" stroke-linecap="round"><path d="M56.00 353.00 L78.45 352.94 L91.58 352.86 L100.90 352.79 L108.13 352.72 L114.03 352.63 L119.02 352.53 L123.35 352.44 L127.16 352.33 L130.57 352.23 L133.66 352.13 L136.48 352.02 L139.07 351.92 L141.47 351.82 L143.71 351.72 L145.80 351.62 L147.76 351.52 L149.61 351.42 L151.36 351.31 L153.02 351.14 L154.60 350.92 L156.11 350.67 L157.55 350.39 L158.93 350.10 L160.25 349.78 L161.52 349.44 L162.74 349.09 L163.92 348.73 L165.06 348.37 L166.16 348.00 L167.22 347.63 L168.25 347.24 L169.24 346.88 L170.21 346.49 L171.15 346.11 L172.06 345.73 L172.95 345.35 L173.81 344.99 L174.65 344.62 L175.47 344.25 L176.27 343.90 L177.05 343.50 L177.82 343.16 L178.56 342.80 L179.29 342.47 L180.00 342.11 L180.70 341.76 L181.38 341.43 L182.05 341.10 L182.70 340.79 L183.34 340.44 L183.97 340.11 L184.59 339.79 L185.19 339.44 L185.79 339.11 L186.37 338.74 L186.94 338.34 L187.51 337.95 L188.06 337.57 L188.61 337.13 L189.14 336.72 L189.67 336.25 L190.19 335.82 L190.70 335.34 L191.08 334.97 L191.32 334.88 L191.58 334.48 L191.82 334.56 L192.08 334.04 L192.32 333.97 L192.58 333.55 L192.82 333.62 L193.08 333.12 L193.32 333.07 L193.58 332.51 L193.82 332.53 L194.08 332.22 L194.32 332.06 L194.58 331.56 L194.82 331.61 L195.08 331.07 L195.32 331.07 L195.58 330.50 L195.82 330.52 L196.08 330.05 L196.32 329.98 L196.58 329.56 L196.82 329.58 L197.08 328.97 L197.32 328.90 L197.58 328.30 L197.82 328.33 L198.08 327.88 L198.32 327.84 L198.58 327.27 L198.82 327.34 L199.08 326.78 L199.32 326.78 L199.58 326.04 L199.82 326.14 L200.08 325.74 L200.32 325.55 L200.58 325.07 L200.82 325.09 L201.08 324.62 L201.32 324.42 L201.58 323.88 L201.82 323.95 L202.08 323.27 L202.32 323.22 L202.58 322.62 L202.82 322.80 L203.08 322.12 L203.32 322.12 L203.58 321.56 L203.82 321.65 L204.08 321.09 L204.32 320.96 L204.58 320.40 L204.82 320.56 L205.08 319.96 L205.32 319.81 L205.58 319.31 L205.82 319.37 L206.08 318.57 L206.32 318.53 L206.58 317.97 L206.82 317.99 L207.08 317.60 L207.32 317.40 L207.58 316.72 L207.82 316.81 L208.08 316.21 L208.32 316.02 L208.58 315.65 L208.82 315.66 L209.08 315.01 L209.32 314.83 L209.58 314.04 L209.82 314.17 L210.08 313.56 L210.32 313.53 L210.58 312.82 L210.82 313.01 L211.08 312.19 L211.32 312.03 L211.58 311.48 L211.82 311.52 L212.08 310.77 L212.32 310.70 L212.58 309.95 L212.82 310.10 L213.08 309.21 L213.32 309.21 L213.58 308.46 L213.82 308.74 L214.08 307.92 L214.32 307.84 L214.58 307.05 L214.82 307.24 L215.08 306.51 L215.32 306.27 L215.58 305.37 L215.82 305.41 L216.08 305.09 L216.32 304.88 L216.58 303.99 L216.82 304.38 L217.08 303.37 L217.32 303.30 L217.58 302.28 L217.82 302.75 L218.08 302.11 L218.32 301.82 L218.58 301.05 L218.82 301.18 L219.08 300.36 L219.32 300.28 L219.58 299.57 L219.82 299.73 L220.08 299.41 L220.32 298.95 L220.58 297.98 L220.82 298.20 L221.08 297.66 L221.32 297.39 L221.58 296.51 L221.82 296.60 L222.08 296.05 L222.32 295.90 L222.58 295.21 L222.82 295.60 L223.08 294.86 L223.32 294.26 L223.58 293.93 L223.82 294.40 L224.08 293.22 L224.32 293.02 L224.58 292.38 L224.82 293.06 L225.08 291.77 L225.32 291.18 L225.58 291.08 L225.82 291.27 L226.08 290.67 L226.32 290.62 L226.58 289.53 L226.82 290.18 L227.08 289.40 L227.32 289.23 L227.58 288.48 L227.82 288.79 L228.08 288.13 L228.32 287.84 L228.58 287.29 L228.82 287.50 L229.08 287.10 L229.32 286.58 L229.58 285.94 L229.82 286.18 L230.08 285.63 L230.32 285.48 L230.58 284.57 L230.82 284.66 L231.08 284.31 L231.32 283.98 L231.58 283.07 L231.82 283.50 L232.08 282.90 L232.32 282.57 L232.58 281.92 L232.82 282.47 L233.08 281.97 L233.32 281.71 L233.58 280.88 L233.82 281.03 L234.08 280.76 L234.32 279.86 L234.58 279.41 L234.82 280.11 L235.08 279.50 L235.32 278.99 L235.58 278.12 L235.82 278.80 L236.08 278.55 L236.32 278.13 L236.58 277.63 L236.82 277.96 L237.08 277.45 L237.32 276.91 L237.58 276.11 L237.82 276.70 L238.08 275.91 L238.32 275.45 L238.58 275.41 L238.82 275.75 L239.08 275.00 L239.32 274.44 L239.58 274.22 L239.82 274.72 L240.08 274.24 L240.32 273.39 L240.58 272.99 L240.82 273.47 L241.08 273.03 L241.32 272.85 L241.58 271.86 L241.82 272.33 L242.08 272.12 L242.32 271.51 L242.58 271.01 L242.82 271.66 L243.08 271.00 L243.32 270.52 L243.58 269.89 L243.82 270.57 L244.08 269.89 L244.32 269.40 L244.58 268.87 L244.82 269.36 L245.08 268.89 L245.32 268.28 L245.58 267.85 L245.82 268.37 L246.08 267.96 L246.32 267.44 L246.58 266.72 L246.82 267.60 L247.08 267.21 L247.32 266.72 L247.58 265.98 L247.82 266.52 L248.08 266.24 L248.32 265.72 L248.58 264.79 L248.82 266.05 L249.08 265.19 L249.32 264.68 L249.58 264.20 L249.82 264.71 L250.08 264.83 L250.32 264.00 L250.58 263.88 L250.82 264.48 L251.08 264.06 L251.32 263.72 L251.58 262.77 L251.82 263.72 L252.08 263.90 L252.32 262.52 L252.58 262.84 L252.82 263.72 L253.08 263.23 L253.32 262.39 L253.58 262.28 L253.82 263.22 L254.08 262.95 L254.32 261.95 L254.58 261.91 L254.82 262.37 L255.08 262.47 L255.32 261.57 L255.58 261.53 L255.82 262.43 L256.08 262.09 L256.32 261.51 L256.58 261.36 L256.82 262.02 L257.08 261.49 L257.32 260.99 L257.58 260.77 L257.82 261.23 L258.08 261.40 L258.32 260.58 L258.58 260.34 L258.82 260.88 L259.08 260.56 L259.32 260.05 L259.58 259.92 L259.82 261.34 L260.08 260.57 L260.32 259.97 L260.58 259.68 L260.82 260.65 L261.08 260.24 L261.32 259.43 L261.58 259.34 L261.82 260.29 L262.08 260.03 L262.32 259.24 L262.58 259.08 L262.82 260.00 L263.08 259.52 L263.32 258.92 L263.58 258.47 L263.82 259.53 L264.08 259.30 L264.32 258.69 L264.58 258.09 L264.82 259.37 L265.08 259.09 L265.32 258.45 L265.58 258.33 L265.82 259.33 L266.08 258.99 L266.32 258.01 L266.58 258.34 L266.82 259.04 L267.08 259.03 L267.32 258.27 L267.58 257.74 L267.82 258.86 L268.08 258.85 L268.32 257.48 L268.58 257.72 L268.82 258.97 L269.08 258.43 L269.32 257.55 L269.58 257.75 L269.82 258.62 L270.08 258.46 L270.32 257.40 L270.58 257.44 L270.82 258.50 L271.08 258.45 L271.32 257.11 L271.58 257.12 L271.82 258.71 L272.08 258.37 L272.32 257.30 L272.58 257.04 L272.82 257.95 L273.08 257.92 L273.32 256.80 L273.58 256.85 L273.82 257.90 L274.08 257.68 L274.32 256.88 L274.58 256.85 L274.82 257.67 L275.08 258.26 L275.32 256.78 L275.58 256.69 L275.82 257.64 L276.08 257.67 L276.32 256.74 L276.58 256.50 L276.82 257.45 L277.08 257.36 L277.32 256.23 L277.58 256.28 L277.82 257.85 L278.08 257.46 L278.32 256.50 L278.58 256.28 L278.82 257.62 L279.08 257.55 L279.32 256.50 L279.58 256.41 L279.82 257.42 L280.08 257.43 L280.32 256.38 L280.58 256.11 L280.82 257.14 L281.08 257.25 L281.32 256.02 L281.58 255.97 L281.82 257.01 L282.08 256.93 L282.32 256.06 L282.58 255.83 L282.82 256.99 L283.08 257.09 L283.32 256.25 L283.58 255.91 L283.82 256.96 L284.08 257.03 L284.32 255.85 L284.58 255.73 L284.82 256.90 L285.08 256.84 L285.32 255.96 L285.58 255.76 L285.82 256.95 L286.08 256.86 L286.32 255.49 L286.58 255.84 L286.82 257.18 L287.08 256.32 L287.32 255.40 L287.58 255.74 L287.82 256.43 L288.08 256.59 L288.32 255.70 L288.58 255.64 L288.82 256.64 L289.08 256.56 L289.32 255.76 L289.58 255.34 L289.82 256.65 L290.08 256.80 L290.32 255.52 L290.58 255.62 L290.82 256.94 L291.08 256.64 L291.32 255.31 L291.58 255.59 L291.82 256.86 L292.08 256.58 L292.32 255.42 L292.58 255.52 L292.82 256.85 L293.08 256.62 L293.32 255.17 L293.58 255.57 L293.82 256.66 L294.08 256.46 L294.32 255.32 L294.58 255.66 L294.82 256.81 L295.08 256.45 L295.32 255.14 L295.58 255.18 L295.82 256.72 L296.08 256.56 L296.32 255.53 L296.58 255.30 L296.82 256.70 L297.08 256.42 L297.32 255.44 L297.58 255.50 L297.82 256.55 L298.08 256.35 L298.32 255.49 L298.58 255.36 L298.82 256.34 L299.08 256.87 L299.32 255.27 L299.58 255.37 L299.82 256.59 L300.08 256.50 L300.32 255.18 L300.58 255.37 L300.82 256.48 L301.08 256.46 L301.32 255.16 L301.58 255.32 L301.82 256.61 L302.08 256.64 L302.32 255.23 L302.58 254.99 L302.82 256.42 L303.08 256.85 L303.32 255.41 L303.58 255.37 L303.82 256.72 L304.08 256.39 L304.32 255.12 L304.58 255.22 L304.82 256.40 L305.08 256.45 L305.32 255.18 L305.58 255.20 L305.82 256.70 L306.08 256.56 L306.32 254.91 L306.58 255.21 L306.82 256.45 L307.08 256.71 L307.32 254.82 L307.58 255.19 L307.82 256.41 L308.08 256.39 L308.32 255.19 L308.58 255.27 L308.82 256.38 L309.08 256.28 L309.32 255.12 L309.58 255.03 L309.82 256.24 L310.08 256.36 L310.32 255.02 L310.58 254.80 L310.82 256.26 L311.08 256.59 L311.32 255.00 L311.58 255.34 L311.82 256.68 L312.08 256.45 L312.32 255.07 L312.58 255.07 L312.82 256.34 L313.08 256.26 L313.32 255.00 L313.58 254.66 L313.82 256.41 L314.08 256.20 L314.32 255.23 L314.58 255.09 L314.82 256.31 L315.08 256.27 L315.32 254.93 L315.58 254.74 L315.82 256.40 L316.08 256.46 L316.32 254.76 L316.58 254.75 L316.82 256.07 L317.08 256.49 L317.32 254.97 L317.58 255.26 L317.82 256.40 L318.08 256.77 L318.32 254.79 L318.58 254.97 L318.82 256.04 L319.08 256.26 L319.32 254.89 L319.58 254.79 L319.82 256.30 L320.08 256.16 L320.32 255.05 L320.58 254.81 L320.82 256.37 L321.08 256.23 L321.32 254.93 L321.58 254.99 L321.82 256.20 L322.08 256.17 L322.32 255.03 L322.58 255.04 L322.82 256.14 L323.08 256.20 L323.32 254.78 L323.58 255.06 L323.82 256.21 L324.08 256.14 L324.32 254.78 L324.58 255.06 L324.82 256.13 L325.08 256.34 L325.32 254.99 L325.58 254.99 L325.82 256.23 L326.08 256.05 L326.32 255.03 L326.58 254.82 L326.82 256.14 L327.08 256.21 L327.32 254.70 L327.58 254.49 L327.82 255.97 L328.08 256.59 L328.32 254.59 L328.58 255.05 L328.82 256.24 L329.08 256.17 L329.32 254.78 L329.58 254.79 L329.82 256.37 L330.08 256.16 L330.32 254.63 L330.58 254.74 L330.82 256.06 L331.08 256.21 L331.32 254.75 L331.58 254.66 L331.82 256.01 L332.08 256.50 L332.32 254.89 L332.58 254.48 L332.82 256.10 L333.08 256.02 L333.32 254.88 L333.58 254.78 L333.82 256.11 L334.08 256.35 L334.32 254.74 L334.58 254.81 L334.82 256.05 L335.08 255.82 L335.32 254.81 L335.58 254.71 L335.82 255.92 L336.08 256.17 L336.32 254.40 L336.58 254.51 L336.82 256.17 L337.08 256.36 L337.32 254.68 L337.58 254.73 L337.82 256.04 L338.08 256.01 L338.32 254.87 L338.58 254.78 L338.82 256.09 L339.08 256.30 L339.32 254.73 L339.58 254.72 L339.82 256.15 L340.08 256.18 L340.32 254.77 L340.58 254.64 L340.82 256.19 L341.08 256.02 L341.32 254.75 L341.58 254.53 L341.82 256.56 L342.08 256.02 L342.32 254.83 L342.58 254.38 L342.82 255.90 L343.08 256.22 L343.32 254.49 L343.58 254.82 L343.82 256.32 L344.08 256.07 L344.32 254.94 L344.58 254.75 L344.82 256.01 L345.08 256.13 L345.32 254.49 L345.58 254.88 L345.82 256.28 L346.08 256.20 L346.32 254.70 L346.58 254.78 L346.82 255.94 L347.08 256.10 L347.32 254.61 L347.58 254.75 L347.82 256.04 L348.08 256.14 L348.32 254.86 L348.58 254.83 L348.82 256.03 L349.08 256.07 L349.32 254.59 L349.58 255.09 L349.82 256.32 L350.08 255.96 L350.32 254.98 L350.58 254.48 L350.82 256.04 L351.08 256.05 L351.32 254.41 L351.58 254.37 L351.82 255.99 L352.08 256.05 L352.32 254.83 L352.58 254.98 L352.82 256.19 L353.08 256.43 L353.32 254.68 L353.58 254.72 L353.82 256.30 L354.08 256.05 L354.32 254.74" stroke="#0b0bf0" stroke-width="2.2"/><path d="M56.00 351.20 L78.45 351.15 L91.58 351.07 L100.90 350.99 L108.13 350.82 L114.03 350.56 L119.02 350.30 L123.35 350.03 L127.16 349.79 L130.57 349.56 L133.66 349.34 L136.48 349.11 L139.07 348.87 L141.47 348.62 L143.71 348.37 L145.80 348.11 L147.76 347.84 L149.61 347.56 L151.36 347.27 L153.02 346.97 L154.60 346.60 L156.11 346.25 L157.55 345.90 L158.93 345.48 L160.25 345.08 L161.52 344.66 L162.74 344.27 L163.92 343.85 L165.06 343.41 L166.16 342.95 L167.22 342.53 L168.25 342.08 L169.24 341.67 L170.21 341.24 L171.15 340.77 L172.06 340.33 L172.95 339.91 L173.81 339.44 L174.65 338.84 L175.47 338.33 L176.27 337.70 L177.05 337.11 L177.82 336.54 L178.56 335.82 L179.29 335.19 L180.00 334.57 L180.70 333.86 L181.38 333.08 L182.05 332.45 L182.70 331.74 L183.34 331.01 L183.97 330.45 L184.59 329.65 L185.19 328.95 L185.79 328.30 L186.37 327.56 L186.94 326.78 L187.51 326.17 L188.06 325.52 L188.61 324.83 L189.14 324.22 L189.67 323.55 L190.19 322.87 L190.70 322.17 L191.08 321.85 L191.32 321.55 L191.58 320.65 L191.82 321.09 L192.08 320.34 L192.32 320.16 L192.58 319.62 L192.82 319.73 L193.08 318.99 L193.32 318.72 L193.58 318.12 L193.82 318.38 L194.08 317.84 L194.32 317.61 L194.58 316.70 L194.82 316.90 L195.08 315.82 L195.32 315.79 L195.58 315.34 L195.82 315.57 L196.08 314.59 L196.32 314.56 L196.58 313.67 L196.82 314.19 L197.08 313.34 L197.32 313.17 L197.58 311.95 L197.82 312.35 L198.08 311.54 L198.32 311.13 L198.58 310.35 L198.82 310.36 L199.08 309.95 L199.32 309.76 L199.58 308.67 L199.82 309.01 L200.08 308.00 L200.32 307.81 L200.58 306.87 L200.82 307.07 L201.08 306.45 L201.32 306.22 L201.58 304.69 L201.82 305.26 L202.08 304.82 L202.32 303.78 L202.58 303.56 L202.82 303.75 L203.08 302.57 L203.32 302.21 L203.58 301.19 L203.82 301.31 L204.08 300.84 L204.32 300.81 L204.58 299.22 L204.82 299.62 L205.08 298.86 L205.32 298.35 L205.58 297.67 L205.82 298.27 L206.08 297.19 L206.32 297.11 L206.58 295.72 L206.82 296.15 L207.08 295.23 L207.32 295.13 L207.58 294.00 L207.82 294.49 L208.08 293.76 L208.32 293.47 L208.58 291.79 L208.82 292.66 L209.08 291.49 L209.32 291.13 L209.58 290.14 L209.82 290.77 L210.08 289.59 L210.32 289.47 L210.58 288.48 L210.82 288.90 L211.08 287.75 L211.32 287.17 L211.58 286.26 L211.82 286.74 L212.08 285.47 L212.32 285.21 L212.58 284.19 L212.82 284.95 L213.08 283.82 L213.32 283.59 L213.58 282.42 L213.82 282.49 L214.08 281.50 L214.32 281.13 L214.58 280.77 L214.82 280.78 L215.08 280.17 L215.32 279.54 L215.58 278.14 L215.82 278.84 L216.08 277.52 L216.32 276.90 L216.58 276.11 L216.82 276.36 L217.08 275.63 L217.32 274.26 L217.58 273.99 L217.82 274.05 L218.08 273.39 L218.32 272.74 L218.58 271.82 L218.82 272.62 L219.08 270.79 L219.32 270.67 L219.58 268.90 L219.82 270.48 L220.08 269.09 L220.32 269.06 L220.58 266.97 L220.82 267.99 L221.08 266.42 L221.32 266.12 L221.58 265.60 L221.82 266.55 L222.08 265.14 L222.32 264.48 L222.58 263.53 L222.82 264.30 L223.08 263.55 L223.32 262.52 L223.58 261.25 L223.82 262.74 L224.08 261.32 L224.32 260.66 L224.58 259.83 L224.82 260.56 L225.08 259.55 L225.32 258.70 L225.58 257.91 L225.82 258.93 L226.08 257.74 L226.32 256.76 L226.58 256.26 L226.82 256.93 L227.08 255.40 L227.32 254.77 L227.58 254.34 L227.82 255.24 L228.08 252.77 L228.32 252.62 L228.58 252.67 L228.82 253.76 L229.08 252.01 L229.32 250.96 L229.58 251.24 L229.82 252.00 L230.08 250.80 L230.32 250.14 L230.58 248.89 L230.82 249.85 L231.08 248.34 L231.32 247.03 L231.58 247.72 L231.82 248.49 L232.08 247.90 L232.32 245.91 L232.58 244.67 L232.82 246.00 L233.08 245.25 L233.32 244.79 L233.58 243.27 L233.82 244.48 L234.08 243.81 L234.32 242.39 L234.58 241.39 L234.82 243.28 L235.08 242.13 L235.32 240.88 L235.58 240.08 L235.82 241.17 L236.08 240.99 L236.32 239.44 L236.58 238.77 L236.82 240.27 L237.08 238.95 L237.32 237.16 L237.58 237.07 L237.82 238.12 L238.08 237.75 L238.32 236.29 L238.58 234.86 L238.82 237.08 L239.08 235.34 L239.32 234.45 L239.58 233.66 L239.82 234.65 L240.08 234.97 L240.32 233.25 L240.58 232.34 L240.82 233.58 L241.08 234.13 L241.32 231.32 L241.58 230.57 L241.82 232.11 L242.08 231.68 L242.32 230.54 L242.58 228.73 L242.82 230.55 L243.08 229.91 L243.32 228.30 L243.58 228.23 L243.82 229.14 L244.08 228.47 L244.32 226.40 L244.58 226.59 L244.82 228.15 L245.08 226.71 L245.32 225.39 L245.58 225.40 L245.82 226.31 L246.08 227.28 L246.32 224.56 L246.58 223.87 L246.82 225.62 L247.08 225.60 L247.32 222.31 L247.58 221.68 L247.82 223.49 L248.08 223.52 L248.32 221.22 L248.58 220.52 L248.82 223.22 L249.08 221.94 L249.32 220.43 L249.58 220.72 L249.82 221.41 L250.08 220.91 L250.32 219.05 L250.58 219.05 L250.82 220.55 L251.08 219.45 L251.32 218.61 L251.58 216.31 L251.82 219.48 L252.08 219.71 L252.32 216.34 L252.58 215.78 L252.82 218.70 L253.08 218.92 L253.32 216.45 L253.58 215.63 L253.82 217.56 L254.08 217.18 L254.32 215.73 L254.58 214.96 L254.82 217.25 L255.08 216.83 L255.32 214.49 L255.58 214.52 L255.82 217.00 L256.08 216.79 L256.32 214.74 L256.58 213.93 L256.82 215.84 L257.08 215.28 L257.32 213.64 L257.58 212.04 L257.82 215.23 L258.08 215.71 L258.32 213.03 L258.58 211.83 L258.82 213.76 L259.08 215.12 L259.32 211.96 L259.58 212.86 L259.82 214.72 L260.08 213.82 L260.32 212.18 L260.58 211.52 L260.82 213.94 L261.08 213.98 L261.32 210.41 L261.58 210.53 L261.82 212.95 L262.08 213.14 L262.32 210.79 L262.58 210.17 L262.82 213.65 L263.08 212.50 L263.32 210.83 L263.58 209.80 L263.82 211.96 L264.08 211.92 L264.32 209.67 L264.58 209.48 L264.82 212.23 L265.08 211.78 L265.32 209.42 L265.58 209.00 L265.82 211.53 L266.08 211.50 L266.32 208.98 L266.58 208.98 L266.82 211.91 L267.08 210.94 L267.32 207.54 L267.58 208.07 L267.82 211.61 L268.08 210.15 L268.32 208.11 L268.58 208.14 L268.82 210.40 L269.08 210.67 L269.32 208.10 L269.58 207.48 L269.82 210.63 L270.08 209.83 L270.32 207.27 L270.58 207.81 L270.82 210.35 L271.08 209.30 L271.32 207.25 L271.58 207.69 L271.82 210.04 L272.08 209.97 L272.32 206.12 L272.58 206.91 L272.82 208.91 L273.08 209.72 L273.32 206.25 L273.58 205.53 L273.82 209.52 L274.08 208.39 L274.32 206.86 L274.58 205.66 L274.82 208.40 L275.08 209.04 L275.32 205.49 L275.58 205.61 L275.82 209.88 L276.08 209.14 L276.32 206.23 L276.58 205.38 L276.82 209.49 L277.08 207.80 L277.32 204.60 L277.58 205.99 L277.82 207.80 L278.08 207.77 L278.32 204.88 L278.58 205.24 L278.82 207.88 L279.08 208.90 L279.32 205.23 L279.58 205.25 L279.82 206.63 L280.08 208.14 L280.32 204.86 L280.58 205.82 L280.82 207.50 L281.08 208.65 L281.32 205.45 L281.58 203.78 L281.82 208.18 L282.08 207.55 L282.32 204.83 L282.58 204.53 L282.82 207.47 L283.08 207.81 L283.32 202.35 L283.58 204.74 L283.82 207.99 L284.08 207.35 L284.32 204.86 L284.58 205.23 L284.82 207.42 L285.08 207.12 L285.32 204.39 L285.58 203.87 L285.82 207.36 L286.08 207.18 L286.32 204.63 L286.58 204.12 L286.82 207.09 L287.08 206.93 L287.32 203.95 L287.58 203.90 L287.82 206.42 L288.08 207.19 L288.32 203.76 L288.58 203.76 L288.82 206.37 L289.08 206.81 L289.32 202.99 L289.58 203.35 L289.82 207.01 L290.08 206.87 L290.32 204.12 L290.58 202.96 L290.82 206.90 L291.08 206.60 L291.32 203.59 L291.58 203.09 L291.82 205.84 L292.08 206.24 L292.32 204.18 L292.58 202.24 L292.82 207.25 L293.08 205.87 L293.32 202.53 L293.58 202.72 L293.82 206.15 L294.08 206.75 L294.32 203.20 L294.58 203.31 L294.82 206.58 L295.08 206.11 L295.32 203.32 L295.58 202.60 L295.82 206.40 L296.08 205.93 L296.32 202.68 L296.58 203.47 L296.82 206.51 L297.08 206.84 L297.32 202.29 L297.58 202.49 L297.82 206.66 L298.08 206.82 L298.32 202.43 L298.58 203.06 L298.82 206.69 L299.08 205.51 L299.32 202.40 L299.58 202.49 L299.82 205.33 L300.08 205.83 L300.32 201.90 L300.58 202.22 L300.82 205.88 L301.08 206.74 L301.32 202.40 L301.58 202.52 L301.82 206.36 L302.08 207.20 L302.32 201.66 L302.58 202.03 L302.82 206.19 L303.08 205.75 L303.32 202.38 L303.58 202.44 L303.82 206.32 L304.08 206.19 L304.32 201.77 L304.58 202.40 L304.82 206.27 L305.08 205.57 L305.32 201.59 L305.58 201.75 L305.82 205.14 L306.08 205.95 L306.32 202.32 L306.58 202.00 L306.82 205.55 L307.08 205.77 L307.32 201.74 L307.58 202.02 L307.82 205.63 L308.08 206.45 L308.32 201.98 L308.58 201.53 L308.82 205.71 L309.08 205.42 L309.32 201.12 L309.58 202.30 L309.82 205.48 L310.08 205.45 L310.32 202.01 L310.58 201.64 L310.82 206.45 L311.08 205.42 L311.32 201.36 L311.58 202.28 L311.82 206.08 L312.08 205.51 L312.32 201.13 L312.58 202.03 L312.82 205.69 L313.08 205.61 L313.32 200.47 L313.58 201.59 L313.82 205.43 L314.08 206.05 L314.32 201.07 L314.58 200.90 L314.82 205.20 L315.08 205.16 L315.32 201.91 L315.58 201.20 L315.82 205.21 L316.08 205.10 L316.32 201.67 L316.58 201.40 L316.82 205.77 L317.08 205.31 L317.32 201.92 L317.58 201.56 L317.82 205.73 L318.08 204.63 L318.32 201.73 L318.58 201.34 L318.82 205.02 L319.08 205.05 L319.32 201.52 L319.58 201.73 L319.82 205.59 L320.08 205.73 L320.32 200.57 L320.58 201.28 L320.82 204.81 L321.08 204.89 L321.32 200.63 L321.58 200.99 L321.82 205.73 L322.08 204.53 L322.32 200.98 L322.58 201.30 L322.82 204.40 L323.08 204.80 L323.32 201.66 L323.58 201.07 L323.82 204.55 L324.08 205.04 L324.32 201.34 L324.58 200.91 L324.82 204.54 L325.08 204.86 L325.32 200.88 L325.58 201.29 L325.82 204.61 L326.08 204.43 L326.32 201.48 L326.58 200.88 L326.82 204.54 L327.08 204.56 L327.32 200.85 L327.58 201.59 L327.82 204.50 L328.08 205.18 L328.32 200.47 L328.58 201.69 L328.82 204.49 L329.08 204.87 L329.32 201.39 L329.58 200.54 L329.82 205.37 L330.08 204.60 L330.32 200.65 L330.58 200.51 L330.82 204.26 L331.08 204.57 L331.32 201.06 L331.58 201.04 L331.82 204.50 L332.08 204.39 L332.32 200.82 L332.58 201.46 L332.82 204.61 L333.08 204.83 L333.32 200.02 L333.58 200.64 L333.82 204.53 L334.08 204.34 L334.32 200.30 L334.58 201.37 L334.82 204.33 L335.08 204.58 L335.32 201.11 L335.58 200.67 L335.82 204.76 L336.08 204.61 L336.32 200.71 L336.58 200.17 L336.82 204.33 L337.08 204.53 L337.32 200.07 L337.58 201.17 L337.82 205.07 L338.08 204.37 L338.32 201.27 L338.58 201.07 L338.82 204.32 L339.08 204.53 L339.32 200.33 L339.58 200.85 L339.82 205.02 L340.08 204.21 L340.32 200.99 L340.58 200.40 L340.82 204.56 L341.08 204.81 L341.32 200.33 L341.58 201.26 L341.82 204.70 L342.08 204.55 L342.32 199.97 L342.58 200.75 L342.82 204.93 L343.08 204.57 L343.32 200.79 L343.58 200.58 L343.82 204.27 L344.08 204.88 L344.32 199.80 L344.58 200.89 L344.82 205.09 L345.08 204.36 L345.32 198.96 L345.58 200.99 L345.82 204.65 L346.08 205.07 L346.32 200.74 L346.58 200.16 L346.82 204.37 L347.08 204.55 L347.32 200.66 L347.58 199.73 L347.82 204.43 L348.08 204.42 L348.32 199.91 L348.58 200.83 L348.82 203.85 L349.08 203.61 L349.32 200.75 L349.58 200.20 L349.82 204.78 L350.08 204.72 L350.32 200.23 L350.58 200.93 L350.82 204.43 L351.08 204.63 L351.32 200.71 L351.58 199.73 L351.82 204.68 L352.08 205.33 L352.32 201.08 L352.58 199.76 L352.82 204.78 L353.08 204.86 L353.32 200.24 L353.58 200.45 L353.82 203.91 L354.08 204.67 L354.32 200.77" stroke="#f00a0a" stroke-width="2.2"/><path d="M56.00 351.50 L78.45 351.45 L91.58 351.37 L100.90 351.29 L108.13 351.11 L114.03 350.86 L119.02 350.59 L123.35 350.33 L127.16 350.08 L130.57 349.86 L133.66 349.65 L136.48 349.43 L139.07 349.20 L141.47 348.97 L143.71 348.73 L145.80 348.48 L147.76 348.22 L149.61 347.97 L151.36 347.67 L153.02 347.37 L154.60 347.04 L156.11 346.67 L157.55 346.31 L158.93 345.92 L160.25 345.53 L161.52 345.12 L162.74 344.70 L163.92 344.29 L165.06 343.88 L166.16 343.41 L167.22 343.00 L168.25 342.56 L169.24 342.13 L170.21 341.71 L171.15 341.24 L172.06 340.78 L172.95 340.37 L173.81 339.91 L174.65 339.52 L175.47 339.01 L176.27 338.41 L177.05 337.88 L177.82 337.24 L178.56 336.68 L179.29 336.04 L180.00 335.48 L180.70 334.78 L181.38 334.11 L182.05 333.47 L182.70 332.73 L183.34 332.10 L183.97 331.35 L184.59 330.67 L185.19 330.11 L185.79 329.18 L186.37 328.68 L186.94 327.92 L187.51 327.34 L188.06 326.57 L188.61 325.96 L189.14 325.19 L189.67 324.70 L190.19 323.92 L190.70 323.22 L191.08 322.41 L191.32 322.21 L191.58 321.85 L191.82 322.16 L192.08 321.41 L192.32 321.20 L192.58 320.74 L192.82 320.79 L193.08 320.43 L193.32 320.08 L193.58 319.28 L193.82 319.36 L194.08 318.91 L194.32 318.76 L194.58 318.13 L194.82 318.40 L195.08 317.58 L195.32 317.50 L195.58 316.58 L195.82 317.28 L196.08 316.25 L196.32 315.97 L196.58 315.27 L196.82 315.36 L197.08 314.72 L197.32 314.32 L197.58 313.48 L197.82 313.65 L198.08 313.35 L198.32 312.29 L198.58 312.07 L198.82 312.12 L199.08 311.21 L199.32 311.07 L199.58 310.52 L199.82 310.72 L200.08 309.66 L200.32 309.62 L200.58 308.46 L200.82 308.58 L201.08 307.87 L201.32 307.39 L201.58 306.86 L201.82 307.00 L202.08 306.55 L202.32 305.64 L202.58 304.84 L202.82 305.44 L203.08 304.95 L203.32 303.62 L203.58 303.47 L203.82 303.67 L204.08 302.67 L204.32 301.99 L204.58 301.28 L204.82 301.75 L205.08 300.64 L205.32 300.57 L205.58 299.78 L205.82 299.96 L206.08 299.14 L206.32 298.78 L206.58 297.64 L206.82 297.93 L207.08 297.03 L207.32 296.73 L207.58 295.80 L207.82 296.21 L208.08 295.32 L208.32 294.86 L208.58 293.38 L208.82 294.18 L209.08 293.31 L209.32 292.88 L209.58 291.76 L209.82 292.33 L210.08 291.74 L210.32 291.32 L210.58 290.04 L210.82 290.47 L211.08 290.13 L211.32 288.49 L211.58 288.11 L211.82 288.91 L212.08 287.09 L212.32 287.08 L212.58 284.98 L212.82 285.66 L213.08 285.28 L213.32 285.24 L213.58 284.11 L213.82 284.40 L214.08 282.35 L214.32 281.97 L214.58 281.78 L214.82 282.30 L215.08 280.83 L215.32 280.78 L215.58 279.33 L215.82 280.31 L216.08 278.95 L216.32 278.45 L216.58 277.22 L216.82 277.36 L217.08 276.92 L217.32 276.43 L217.58 275.36 L217.82 275.56 L218.08 274.96 L218.32 274.42 L218.58 273.68 L218.82 274.04 L219.08 273.19 L219.32 272.71 L219.58 271.96 L219.82 272.66 L220.08 271.37 L220.32 271.16 L220.58 270.23 L220.82 270.49 L221.08 270.09 L221.32 268.88 L221.58 268.80 L221.82 269.74 L222.08 268.28 L222.32 267.58 L222.58 266.86 L222.82 267.68 L223.08 266.80 L223.32 265.36 L223.58 265.20 L223.82 265.83 L224.08 265.40 L224.32 264.86 L224.58 263.48 L224.82 264.16 L225.08 263.99 L225.32 263.34 L225.58 262.18 L225.82 262.99 L226.08 262.56 L226.32 261.63 L226.58 261.17 L226.82 262.24 L227.08 261.08 L227.32 260.26 L227.58 259.11 L227.82 260.35 L228.08 259.34 L228.32 258.89 L228.58 258.22 L228.82 258.62 L229.08 257.92 L229.32 257.09 L229.58 255.59 L229.82 257.19 L230.08 256.65 L230.32 255.29 L230.58 255.35 L230.82 257.27 L231.08 254.74 L231.32 254.02 L231.58 253.59 L231.82 254.69 L232.08 253.87 L232.32 253.12 L232.58 252.08 L232.82 252.71 L233.08 252.62 L233.32 251.10 L233.58 251.13 L233.82 252.02 L234.08 251.62 L234.32 249.80 L234.58 248.72 L234.82 249.39 L235.08 249.83 L235.32 249.15 L235.58 248.26 L235.82 249.68 L236.08 248.38 L236.32 247.97 L236.58 246.91 L236.82 247.91 L237.08 247.11 L237.32 246.27 L237.58 245.69 L237.82 247.62 L238.08 245.99 L238.32 244.80 L238.58 243.72 L238.82 245.78 L239.08 245.36 L239.32 243.28 L239.58 242.57 L239.82 244.32 L240.08 243.44 L240.32 242.56 L240.58 241.25 L240.82 242.20 L241.08 243.43 L241.32 241.12 L241.58 240.16 L241.82 241.65 L242.08 241.35 L242.32 239.98 L242.58 239.09 L242.82 240.45 L243.08 239.96 L243.32 238.47 L243.58 238.39 L243.82 239.18 L244.08 238.81 L244.32 236.79 L244.58 237.14 L244.82 238.46 L245.08 237.65 L245.32 235.50 L245.58 235.84 L245.82 237.95 L246.08 236.43 L246.32 235.35 L246.58 234.67 L246.82 236.09 L247.08 235.96 L247.32 233.11 L247.58 232.91 L247.82 234.86 L248.08 233.80 L248.32 232.26 L248.58 232.17 L248.82 233.14 L249.08 233.15 L249.32 231.97 L249.58 231.47 L249.82 233.45 L250.08 231.99 L250.32 230.27 L250.58 230.30 L250.82 231.06 L251.08 231.26 L251.32 229.92 L251.58 228.98 L251.82 230.67 L252.08 230.56 L252.32 228.71 L252.58 228.46 L252.82 229.87 L253.08 229.72 L253.32 227.17 L253.58 227.09 L253.82 228.63 L254.08 228.39 L254.32 226.58 L254.58 225.19 L254.82 227.91 L255.08 227.44 L255.32 226.26 L255.58 224.81 L255.82 226.97 L256.08 228.00 L256.32 225.23 L256.58 224.97 L256.82 226.17 L257.08 225.80 L257.32 223.72 L257.58 224.14 L257.82 225.39 L258.08 225.00 L258.32 222.93 L258.58 222.65 L258.82 225.05 L259.08 224.87 L259.32 223.33 L259.58 222.02 L259.82 224.19 L260.08 224.26 L260.32 221.93 L260.58 221.13 L260.82 223.63 L261.08 222.71 L261.32 220.49 L261.58 219.92 L261.82 222.98 L262.08 223.17 L262.32 219.83 L262.58 220.73 L262.82 222.66 L263.08 222.17 L263.32 219.73 L263.58 219.71 L263.82 222.26 L264.08 221.83 L264.32 218.62 L264.58 219.89 L264.82 221.30 L265.08 220.56 L265.32 218.48 L265.58 218.84 L265.82 221.22 L266.08 220.12 L266.32 218.99 L266.58 218.14 L266.82 220.22 L267.08 220.34 L267.32 217.58 L267.58 217.76 L267.82 220.52 L268.08 219.80 L268.32 217.75 L268.58 217.39 L268.82 219.32 L269.08 219.63 L269.32 216.99 L269.58 217.24 L269.82 220.21 L270.08 218.77 L270.32 216.56 L270.58 216.20 L270.82 218.89 L271.08 219.00 L271.32 216.81 L271.58 216.57 L271.82 219.83 L272.08 218.51 L272.32 215.85 L272.58 215.19 L272.82 217.64 L273.08 218.59 L273.32 215.73 L273.58 214.87 L273.82 217.87 L274.08 217.84 L274.32 215.54 L274.58 214.94 L274.82 218.56 L275.08 217.88 L275.32 215.29 L275.58 215.53 L275.82 218.56 L276.08 218.83 L276.32 215.13 L276.58 214.88 L276.82 218.22 L277.08 217.51 L277.32 214.89 L277.58 214.90 L277.82 217.44 L278.08 217.50 L278.32 215.02 L278.58 214.55 L278.82 216.80 L279.08 216.99 L279.32 214.32 L279.58 214.92 L279.82 217.23 L280.08 217.04 L280.32 214.87 L280.58 214.34 L280.82 217.47 L281.08 216.94 L281.32 213.83 L281.58 214.04 L281.82 215.97 L282.08 217.07 L282.32 214.02 L282.58 213.73 L282.82 216.55 L283.08 216.26 L283.32 214.34 L283.58 213.70 L283.82 217.18 L284.08 217.13 L284.32 213.62 L284.58 214.11 L284.82 216.50 L285.08 216.57 L285.32 213.65 L285.58 213.93 L285.82 216.81 L286.08 217.76 L286.32 213.81 L286.58 212.88 L286.82 215.93 L287.08 216.77 L287.32 213.61 L287.58 213.92 L287.82 216.34 L288.08 216.29 L288.32 213.98 L288.58 213.30 L288.82 216.66 L289.08 216.64 L289.32 213.48 L289.58 212.33 L289.82 216.54 L290.08 216.01 L290.32 213.10 L290.58 212.73 L290.82 216.94 L291.08 216.25 L291.32 212.78 L291.58 213.43 L291.82 216.38 L292.08 215.90 L292.32 213.01 L292.58 213.38 L292.82 216.18 L293.08 216.65 L293.32 213.43 L293.58 212.52 L293.82 216.33 L294.08 215.93 L294.32 211.79 L294.58 212.57 L294.82 216.04 L295.08 215.88 L295.32 212.21 L295.58 212.27 L295.82 215.78 L296.08 215.66 L296.32 213.23 L296.58 213.17 L296.82 215.82 L297.08 215.46 L297.32 212.36 L297.58 212.97 L297.82 215.60 L298.08 215.88 L298.32 212.79 L298.58 212.52 L298.82 215.25 L299.08 215.77 L299.32 212.60 L299.58 212.81 L299.82 215.39 L300.08 215.36 L300.32 212.96 L300.58 212.60 L300.82 215.47 L301.08 215.45 L301.32 213.01 L301.58 211.63 L301.82 216.47 L302.08 216.15 L302.32 211.92 L302.58 211.79 L302.82 215.30 L303.08 216.12 L303.32 212.32 L303.58 211.98 L303.82 215.33 L304.08 216.13 L304.32 212.48 L304.58 212.54 L304.82 215.20 L305.08 215.68 L305.32 212.41 L305.58 212.31 L305.82 215.20 L306.08 215.00 L306.32 212.45 L306.58 212.86 L306.82 215.43 L307.08 215.17 L307.32 212.22 L307.58 211.81 L307.82 215.87 L308.08 216.02 L308.32 211.76 L308.58 211.44 L308.82 215.18 L309.08 216.00 L309.32 210.22 L309.58 212.46 L309.82 215.26 L310.08 215.56 L310.32 212.14 L310.58 211.95 L310.82 215.98 L311.08 214.81 L311.32 211.66 L311.58 212.21 L311.82 215.27 L312.08 215.57 L312.32 211.50 L312.58 212.00 L312.82 215.21 L313.08 215.44 L313.32 212.21 L313.58 212.29 L313.82 215.58 L314.08 214.74 L314.32 212.50 L314.58 211.97 L314.82 215.08 L315.08 215.54 L315.32 212.13 L315.58 212.35 L315.82 215.26 L316.08 215.37 L316.32 212.10 L316.58 211.68 L316.82 215.17 L317.08 215.17 L317.32 211.93 L317.58 212.48 L317.82 215.53 L318.08 215.36 L318.32 212.06 L318.58 211.96 L318.82 215.60 L319.08 215.28 L319.32 212.03 L319.58 211.99 L319.82 215.38 L320.08 215.12 L320.32 212.28 L320.58 212.24 L320.82 215.32 L321.08 214.82 L321.32 211.04 L321.58 211.67 L321.82 215.77 L322.08 215.07 L322.32 212.09 L322.58 212.43 L322.82 215.30 L323.08 214.81 L323.32 212.25 L323.58 211.34 L323.82 214.53 L324.08 214.74 L324.32 211.96 L324.58 212.30 L324.82 215.64 L325.08 214.84 L325.32 211.44 L325.58 211.70 L325.82 215.20 L326.08 215.36 L326.32 211.61 L326.58 211.77 L326.82 215.27 L327.08 215.16 L327.32 211.13 L327.58 211.86 L327.82 215.04 L328.08 215.51 L328.32 211.68 L328.58 211.86 L328.82 214.72 L329.08 214.58 L329.32 211.78 L329.58 211.92 L329.82 214.93 L330.08 216.10 L330.32 211.82 L330.58 211.72 L330.82 216.41 L331.08 215.24 L331.32 212.31 L331.58 211.99 L331.82 215.06 L332.08 215.15 L332.32 211.81 L332.58 211.92 L332.82 214.73 L333.08 215.46 L333.32 211.54 L333.58 211.84 L333.82 214.95 L334.08 215.17 L334.32 212.00 L334.58 211.76 L334.82 214.60 L335.08 215.13 L335.32 211.35 L335.58 211.33 L335.82 214.82 L336.08 215.17 L336.32 211.40 L336.58 211.95 L336.82 214.61 L337.08 215.04 L337.32 211.43 L337.58 211.95 L337.82 214.78 L338.08 215.69 L338.32 211.24 L338.58 212.20 L338.82 214.66 L339.08 214.92 L339.32 211.83 L339.58 211.13 L339.82 215.22 L340.08 215.11 L340.32 211.30 L340.58 211.38 L340.82 214.73 L341.08 214.91 L341.32 211.76 L341.58 210.94 L341.82 215.01 L342.08 215.30 L342.32 211.14 L342.58 211.53 L342.82 215.31 L343.08 214.63 L343.32 211.86 L343.58 211.36 L343.82 215.06 L344.08 215.24 L344.32 211.01 L344.58 211.65 L344.82 214.38 L345.08 215.13 L345.32 212.25 L345.58 212.34 L345.82 215.01 L346.08 214.68 L346.32 211.88 L346.58 211.84 L346.82 215.05 L347.08 214.76 L347.32 211.70 L347.58 211.19 L347.82 214.69 L348.08 215.04 L348.32 211.74 L348.58 211.67 L348.82 215.03 L349.08 215.33 L349.32 211.04 L349.58 211.68 L349.82 215.00 L350.08 215.14 L350.32 211.10 L350.58 211.41 L350.82 214.86 L351.08 214.92 L351.32 211.64 L351.58 211.40 L351.82 214.80 L352.08 215.13 L352.32 211.80 L352.58 210.67 L352.82 215.18 L353.08 215.11 L353.32 211.60 L353.58 211.02 L353.82 214.75 L354.08 214.32 L354.32 211.22" stroke="#000" stroke-width="1.5"/></g><text x="50.0" y="358.4" text-anchor="end" font-size="11.2">0</text><text x="50.0" y="308.2" text-anchor="end" font-size="11.2">2</text><text x="50.0" y="258.1" text-anchor="end" font-size="11.2">4</text><text x="50.0" y="207.9" text-anchor="end" font-size="11.2">6</text><path d="M417.93 177.0v-1.5M417.93 21.5v1.5M431.05 177.0v-1.5M431.05 21.5v1.5M440.35 177.0v-1.5M440.35 21.5v1.5M447.57 177.0v-1.5M447.57 21.5v1.5M453.47 177.0v-1.5M453.47 21.5v1.5M458.46 177.0v-1.5M458.46 21.5v1.5M462.78 177.0v-1.5M462.78 21.5v1.5M466.59 177.0v-1.5M466.59 21.5v1.5M470.00 177.0v-3.5M470.00 21.5v3.5M492.43 177.0v-1.5M492.43 21.5v1.5M505.55 177.0v-1.5M505.55 21.5v1.5M514.85 177.0v-1.5M514.85 21.5v1.5M522.07 177.0v-1.5M522.07 21.5v1.5M527.97 177.0v-1.5M527.97 21.5v1.5M532.96 177.0v-1.5M532.96 21.5v1.5M537.28 177.0v-1.5M537.28 21.5v1.5M541.09 177.0v-1.5M541.09 21.5v1.5M544.50 177.0v-3.5M544.50 21.5v3.5M566.93 177.0v-1.5M566.93 21.5v1.5M580.05 177.0v-1.5M580.05 21.5v1.5M589.35 177.0v-1.5M589.35 21.5v1.5M596.57 177.0v-1.5M596.57 21.5v1.5M602.47 177.0v-1.5M602.47 21.5v1.5M607.46 177.0v-1.5M607.46 21.5v1.5M611.78 177.0v-1.5M611.78 21.5v1.5M615.59 177.0v-1.5M615.59 21.5v1.5M619.00 177.0v-3.5M619.00 21.5v3.5M641.43 177.0v-1.5M641.43 21.5v1.5M654.55 177.0v-1.5M654.55 21.5v1.5M663.85 177.0v-1.5M663.85 21.5v1.5M671.07 177.0v-1.5M671.07 21.5v1.5M676.97 177.0v-1.5M676.97 21.5v1.5M681.96 177.0v-1.5M681.96 21.5v1.5M686.28 177.0v-1.5M686.28 21.5v1.5M690.09 177.0v-1.5M690.09 21.5v1.5M395.5 177.00h3.5M693.5 177.00h-3.5M395.5 145.90h3.5M693.5 145.90h-3.5M395.5 114.80h3.5M693.5 114.80h-3.5M395.5 83.70h3.5M693.5 83.70h-3.5M395.5 52.60h3.5M693.5 52.60h-3.5M395.5 21.50h3.5M693.5 21.50h-3.5" stroke="#262626" stroke-width="1" fill="none"/><rect x="395.5" y="21.5" width="298.0" height="155.5" fill="none" stroke="#262626" stroke-width="1"/><clipPath id="ciii"><rect x="395.5" y="20.5" width="298.0" height="157.5"/></clipPath><g clip-path="url(#ciii)" fill="none" stroke-linejoin="round" stroke-linecap="round"><path d="M395.50 69.00 L417.93 86.86 L431.05 106.27 L440.35 121.65 L447.57 136.43 L453.47 147.96 L458.46 154.98 L462.78 159.91 L466.59 161.86 L470.00 162.17 L473.08 160.54 L475.90 157.83 L478.49 154.93 L480.89 152.20 L483.12 150.04 L485.21 148.31 L487.17 146.26 L489.02 143.50 L490.77 139.94 L492.43 136.13 L494.01 132.37 L495.51 129.13 L496.95 126.46 L498.33 123.58 L499.65 120.59 L500.92 117.63 L502.14 114.62 L503.31 112.08 L504.45 109.86 L505.55 107.13 L506.61 104.84 L507.63 102.27 L508.63 99.74 L509.60 97.67 L510.53 95.09 L511.44 93.12 L512.33 91.11 L513.19 89.19 L514.03 88.11 L514.85 86.28 L515.65 85.01 L516.43 83.69 L517.19 82.55 L517.94 81.28 L518.66 80.34 L519.38 78.92 L520.07 78.14 L520.75 77.26 L521.42 75.86 L522.07 74.72 L522.71 74.04 L523.34 73.48 L523.96 72.37 L524.56 71.69 L525.16 70.60 L525.74 69.31 L526.31 68.78 L526.88 67.89 L527.43 67.02 L527.97 66.76 L528.51 66.46 L529.03 65.68 L529.55 65.04 L530.06 64.49 L530.44 64.72 L530.68 63.61 L530.94 63.64 L531.18 63.74 L531.44 63.38 L531.68 61.53 L531.94 62.29 L532.18 63.00 L532.44 62.44 L532.68 60.89 L532.94 61.19 L533.18 61.28 L533.44 60.88 L533.68 60.82 L533.94 60.00 L534.18 60.86 L534.44 61.03 L534.68 60.21 L534.94 59.15 L535.18 59.64 L535.44 59.38 L535.68 59.35 L535.94 59.08 L536.18 59.35 L536.44 58.83 L536.68 58.80 L536.94 57.71 L537.18 58.74 L537.44 58.79 L537.68 58.37 L537.94 57.96 L538.18 59.70 L538.44 58.97 L538.68 57.83 L538.94 56.73 L539.18 56.79 L539.44 56.32 L539.68 56.04 L539.94 56.14 L540.18 56.72 L540.44 56.70 L540.68 56.31 L540.94 55.84 L541.18 56.34 L541.44 55.48 L541.68 55.41 L541.94 55.63 L542.18 56.82 L542.44 56.20 L542.68 54.03 L542.94 55.23 L543.18 56.02 L543.44 56.34 L543.68 55.74 L543.94 54.60 L544.18 55.31 L544.44 54.69 L544.68 54.54 L544.94 54.61 L545.18 54.61 L545.44 54.03 L545.68 53.93 L545.94 54.96 L546.18 55.23 L546.44 54.41 L546.68 54.03 L546.94 53.06 L547.18 53.15 L547.44 53.81 L547.68 53.14 L547.94 51.57 L548.18 52.72 L548.44 53.68 L548.68 52.79 L548.94 50.44 L549.18 51.93 L549.44 52.67 L549.68 51.39 L549.94 50.63 L550.18 51.12 L550.44 50.79 L550.68 50.25 L550.94 48.57 L551.18 49.57 L551.44 50.23 L551.68 49.60 L551.94 49.06 L552.18 49.77 L552.44 49.27 L552.68 48.62 L552.94 48.70 L553.18 48.95 L553.44 50.47 L553.68 49.45 L553.94 48.70 L554.18 48.86 L554.44 49.03 L554.68 47.28 L554.94 49.37 L555.18 49.59 L555.44 48.36 L555.68 48.09 L555.94 48.71 L556.18 49.96 L556.44 48.20 L556.68 48.05 L556.94 48.37 L557.18 49.67 L557.44 48.61 L557.68 47.76 L557.94 47.46 L558.18 49.54 L558.44 49.25 L558.68 46.73 L558.94 47.95 L559.18 48.78 L559.44 48.40 L559.68 46.84 L559.94 46.44 L560.18 48.53 L560.44 47.71 L560.68 46.64 L560.94 46.52 L561.18 47.86 L561.44 47.93 L561.68 47.01 L561.94 45.98 L562.18 47.76 L562.44 47.88 L562.68 46.60 L562.94 45.84 L563.18 46.74 L563.44 46.66 L563.68 46.29 L563.94 45.67 L564.18 46.57 L564.44 47.39 L564.68 45.10 L564.94 45.98 L565.18 46.87 L565.44 47.45 L565.68 44.59 L565.94 45.57 L566.18 47.15 L566.44 46.23 L566.68 45.09 L566.94 44.07 L567.18 46.89 L567.44 46.64 L567.68 44.85 L567.94 44.76 L568.18 44.88 L568.44 45.72 L568.68 45.52 L568.94 44.73 L569.18 45.26 L569.44 44.76 L569.68 44.43 L569.94 45.18 L570.18 46.71 L570.44 46.33 L570.68 44.84 L570.94 44.72 L571.18 46.48 L571.44 45.56 L571.68 44.17 L571.94 43.91 L572.18 46.11 L572.44 46.14 L572.68 44.08 L572.94 43.87 L573.18 44.95 L573.44 46.17 L573.68 42.64 L573.94 43.05 L574.18 45.02 L574.44 45.92 L574.68 44.47 L574.94 43.65 L575.18 44.59 L575.44 46.05 L575.68 44.64 L575.94 43.65 L576.18 45.68 L576.44 45.89 L576.68 43.91 L576.94 44.33 L577.18 45.02 L577.44 44.97 L577.68 44.22 L577.94 43.82 L578.18 45.59 L578.44 44.98 L578.68 44.10 L578.94 43.29 L579.18 45.63 L579.44 45.16 L579.68 43.95 L579.94 44.01 L580.18 45.42 L580.44 45.86 L580.68 42.46 L580.94 43.51 L581.18 45.28 L581.44 44.71 L581.68 42.89 L581.94 42.92 L582.18 44.20 L582.44 44.71 L582.68 43.29 L582.94 44.61 L583.18 45.57 L583.44 45.04 L583.68 43.28 L583.94 43.60 L584.18 45.70 L584.44 44.81 L584.68 43.83 L584.94 42.29 L585.18 45.38 L585.44 45.41 L585.68 42.17 L585.94 43.57 L586.18 45.64 L586.44 45.09 L586.68 43.23 L586.94 42.67 L587.18 45.60 L587.44 45.12 L587.68 42.54 L587.94 42.70 L588.18 45.25 L588.44 46.10 L588.68 43.70 L588.94 43.43 L589.18 46.42 L589.44 44.31 L589.68 43.10 L589.94 43.85 L590.18 45.28 L590.44 44.89 L590.68 42.83 L590.94 42.16 L591.18 44.10 L591.44 45.36 L591.68 43.23 L591.94 43.17 L592.18 45.04 L592.44 45.79 L592.68 42.99 L592.94 43.34 L593.18 45.78 L593.44 45.21 L593.68 43.03 L593.94 43.27 L594.18 44.86 L594.44 45.86 L594.68 43.41 L594.94 42.38 L595.18 44.72 L595.44 44.39 L595.68 42.79 L595.94 43.54 L596.18 44.73 L596.44 45.90 L596.68 42.67 L596.94 42.11 L597.18 45.30 L597.44 44.67 L597.68 42.67 L597.94 42.87 L598.18 44.60 L598.44 45.39 L598.68 43.40 L598.94 42.88 L599.18 44.18 L599.44 44.20 L599.68 43.29 L599.94 42.71 L600.18 45.11 L600.44 44.38 L600.68 42.75 L600.94 42.36 L601.18 45.63 L601.44 45.74 L601.68 43.17 L601.94 42.58 L602.18 44.24 L602.44 44.50 L602.68 42.09 L602.94 41.46 L603.18 45.61 L603.44 44.81 L603.68 43.28 L603.94 42.54 L604.18 44.60 L604.44 45.26 L604.68 42.48 L604.94 42.44 L605.18 44.64 L605.44 44.82 L605.68 42.38 L605.94 42.83 L606.18 44.49 L606.44 45.28 L606.68 43.28 L606.94 42.05 L607.18 45.04 L607.44 44.72 L607.68 43.27 L607.94 42.77 L608.18 44.48 L608.44 45.17 L608.68 42.70 L608.94 43.00 L609.18 45.15 L609.44 44.43 L609.68 42.11 L609.94 42.24 L610.18 44.57 L610.44 44.53 L610.68 43.17 L610.94 42.57 L611.18 45.06 L611.44 45.75 L611.68 42.87 L611.94 41.63 L612.18 44.86 L612.44 44.74 L612.68 42.42 L612.94 42.39 L613.18 44.64 L613.44 44.33 L613.68 42.82 L613.94 42.20 L614.18 44.81 L614.44 44.97 L614.68 43.07 L614.94 41.55 L615.18 45.24 L615.44 44.67 L615.68 42.57 L615.94 42.39 L616.18 44.02 L616.44 44.86 L616.68 42.93 L616.94 42.61 L617.18 44.19 L617.44 44.98 L617.68 42.63 L617.94 41.81 L618.18 44.94 L618.44 44.46 L618.68 42.42 L618.94 41.90 L619.18 44.44 L619.44 44.88 L619.68 42.38 L619.94 42.31 L620.18 44.66 L620.44 44.07 L620.68 42.40 L620.94 41.77 L621.18 44.65 L621.44 45.35 L621.68 41.62 L621.94 41.52 L622.18 44.66 L622.44 45.17 L622.68 41.75 L622.94 42.49 L623.18 44.35 L623.44 44.88 L623.68 42.03 L623.94 42.24 L624.18 45.25 L624.44 44.69 L624.68 42.33 L624.94 42.27 L625.18 45.29 L625.44 45.19 L625.68 42.91 L625.94 42.37 L626.18 44.63 L626.44 44.81 L626.68 42.33 L626.94 42.19 L627.18 45.71 L627.44 44.84 L627.68 41.95 L627.94 42.34 L628.18 44.61 L628.44 44.54 L628.68 42.14 L628.94 42.13 L629.18 44.39 L629.44 44.89 L629.68 42.01 L629.94 41.93 L630.18 44.61 L630.44 44.58 L630.68 41.37 L630.94 41.25 L631.18 45.16 L631.44 44.80 L631.68 41.65 L631.94 41.98 L632.18 44.80 L632.44 44.64 L632.68 41.04 L632.94 41.97 L633.18 44.72 L633.44 44.92 L633.68 42.42 L633.94 42.28 L634.18 44.48 L634.44 44.89 L634.68 41.73 L634.94 42.04 L635.18 44.59 L635.44 45.15 L635.68 41.46 L635.94 41.94 L636.18 44.97 L636.44 45.08 L636.68 42.39 L636.94 41.80 L637.18 45.06 L637.44 44.83 L637.68 41.88 L637.94 42.32 L638.18 45.97 L638.44 44.87 L638.68 42.19 L638.94 41.69 L639.18 45.18 L639.44 45.75 L639.68 41.76 L639.94 42.18 L640.18 44.76 L640.44 45.12 L640.68 42.27 L640.94 41.99 L641.18 44.68 L641.44 45.90 L641.68 41.70 L641.94 41.94 L642.18 44.51 L642.44 45.22 L642.68 41.61 L642.94 41.46 L643.18 44.56 L643.44 44.67 L643.68 42.32 L643.94 40.98 L644.18 44.65 L644.44 44.84 L644.68 41.75 L644.94 41.55 L645.18 44.77 L645.44 44.46 L645.68 41.33 L645.94 41.86 L646.18 44.58 L646.44 44.56 L646.68 42.17 L646.94 41.57 L647.18 44.77 L647.44 45.42 L647.68 40.47 L647.94 41.86 L648.18 44.85 L648.44 45.14 L648.68 40.67 L648.94 41.96 L649.18 44.81 L649.44 43.78 L649.68 41.12 L649.94 41.86 L650.18 44.46 L650.44 44.35 L650.68 41.68 L650.94 41.94 L651.18 44.39 L651.44 44.48 L651.68 41.88 L651.94 41.88 L652.18 44.46 L652.44 44.66 L652.68 41.49 L652.94 42.03 L653.18 44.65 L653.44 44.72 L653.68 41.87 L653.94 41.85 L654.18 44.26 L654.44 44.73 L654.68 41.28 L654.94 41.36 L655.18 44.34 L655.44 45.04 L655.68 41.43 L655.94 41.16 L656.18 44.79 L656.44 44.77 L656.68 41.58 L656.94 42.12 L657.18 44.51 L657.44 44.42 L657.68 41.97 L657.94 41.82 L658.18 44.03 L658.44 45.03 L658.68 42.21 L658.94 40.93 L659.18 44.37 L659.44 44.67 L659.68 42.33 L659.94 41.50 L660.18 44.64 L660.44 45.13 L660.68 42.02 L660.94 41.21 L661.18 45.18 L661.44 45.43 L661.68 40.94 L661.94 41.62 L662.18 44.54 L662.44 44.34 L662.68 41.63 L662.94 41.69 L663.18 44.40 L663.44 44.68 L663.68 40.75 L663.94 40.95 L664.18 44.49 L664.44 44.32 L664.68 41.93 L664.94 41.24 L665.18 44.67 L665.44 44.20 L665.68 41.10 L665.94 41.67 L666.18 44.38 L666.44 43.93 L666.68 41.44 L666.94 41.42 L667.18 44.73 L667.44 44.48 L667.68 41.86 L667.94 41.79 L668.18 44.61 L668.44 44.27 L668.68 41.16 L668.94 41.74 L669.18 44.93 L669.44 44.76 L669.68 41.54 L669.94 41.74 L670.18 44.18 L670.44 44.68 L670.68 41.46 L670.94 42.09 L671.18 44.45 L671.44 44.41 L671.68 41.07 L671.94 41.66 L672.18 44.25 L672.44 44.60 L672.68 41.43 L672.94 41.30 L673.18 45.51 L673.44 44.85 L673.68 41.81 L673.94 41.51 L674.18 45.29 L674.44 44.28 L674.68 41.18 L674.94 41.43 L675.18 45.27 L675.44 44.40 L675.68 41.15 L675.94 41.83 L676.18 45.46 L676.44 44.57 L676.68 41.79 L676.94 41.69 L677.18 44.87 L677.44 44.49 L677.68 40.53 L677.94 41.35 L678.18 44.51 L678.44 44.58 L678.68 41.27 L678.94 41.64 L679.18 44.34 L679.44 44.88 L679.68 41.20 L679.94 41.72 L680.18 44.86 L680.44 44.43 L680.68 41.71 L680.94 40.76 L681.18 44.20 L681.44 44.52 L681.68 41.93 L681.94 40.92 L682.18 44.77 L682.44 44.33 L682.68 41.22 L682.94 40.94 L683.18 44.35 L683.44 44.97 L683.68 41.25 L683.94 40.60 L684.18 44.93 L684.44 44.58 L684.68 41.28 L684.94 41.50 L685.18 45.23 L685.44 44.84 L685.68 41.32 L685.94 41.65 L686.18 45.14 L686.44 44.68 L686.68 41.87 L686.94 41.15 L687.18 44.46 L687.44 44.84 L687.68 41.67 L687.94 41.53 L688.18 44.79 L688.44 44.75 L688.68 41.69 L688.94 40.96 L689.18 44.80 L689.44 45.31 L689.68 41.36 L689.94 41.83 L690.18 44.85 L690.44 44.91 L690.68 41.27 L690.94 41.30 L691.18 44.72 L691.44 44.65 L691.68 41.96 L691.94 41.74 L692.18 44.90 L692.44 44.75 L692.68 41.29 L692.94 41.43 L693.18 45.21 L693.44 44.26 L693.68 41.08" stroke="#0b0bf0" stroke-width="2.2"/><path d="M395.50 67.50 L417.93 86.89 L431.05 107.58 L440.35 124.46 L447.57 138.72 L453.47 148.62 L458.46 155.78 L462.78 161.68 L466.59 166.30 L470.00 167.04 L473.08 165.75 L475.90 163.97 L478.49 161.37 L480.89 159.17 L483.12 157.55 L485.21 155.81 L487.17 153.35 L489.02 150.57 L490.77 147.41 L492.43 143.83 L494.01 140.13 L495.51 136.43 L496.95 133.49 L498.33 129.73 L499.65 126.99 L500.92 124.01 L502.14 121.20 L503.31 118.65 L504.45 116.06 L505.55 113.94 L506.61 111.63 L507.63 109.26 L508.63 106.93 L509.60 104.57 L510.53 102.53 L511.44 101.12 L512.33 98.99 L513.19 96.46 L514.03 94.98 L514.85 92.91 L515.65 91.59 L516.43 90.15 L517.19 88.62 L517.94 86.62 L518.66 85.16 L519.38 83.67 L520.07 81.88 L520.75 80.99 L521.42 79.97 L522.07 79.07 L522.71 78.19 L523.34 77.08 L523.96 76.47 L524.56 74.90 L525.16 74.78 L525.74 73.97 L526.31 74.00 L526.88 72.39 L527.43 72.46 L527.97 71.33 L528.51 70.86 L529.03 70.37 L529.55 70.06 L530.06 68.55 L530.44 69.70 L530.68 66.96 L530.94 68.84 L531.18 69.20 L531.44 68.84 L531.68 67.42 L531.94 65.33 L532.18 65.57 L532.44 67.83 L532.68 64.68 L532.94 66.51 L533.18 66.81 L533.44 65.50 L533.68 65.07 L533.94 64.58 L534.18 65.98 L534.44 65.15 L534.68 64.98 L534.94 65.81 L535.18 66.26 L535.44 64.73 L535.68 64.68 L535.94 62.34 L536.18 64.84 L536.44 64.26 L536.68 64.11 L536.94 63.21 L537.18 63.21 L537.44 63.70 L537.68 62.80 L537.94 61.98 L538.18 62.80 L538.44 62.39 L538.68 61.77 L538.94 60.57 L539.18 63.13 L539.44 63.09 L539.68 59.98 L539.94 61.42 L540.18 61.51 L540.44 60.88 L540.68 60.80 L540.94 59.98 L541.18 60.55 L541.44 61.33 L541.68 59.85 L541.94 58.52 L542.18 59.51 L542.44 61.79 L542.68 59.32 L542.94 60.06 L543.18 60.32 L543.44 60.84 L543.68 58.83 L543.94 58.19 L544.18 60.02 L544.44 60.02 L544.68 58.68 L544.94 59.05 L545.18 61.13 L545.44 59.60 L545.68 58.41 L545.94 58.07 L546.18 58.57 L546.44 59.75 L546.68 58.33 L546.94 57.67 L547.18 59.35 L547.44 57.00 L547.68 56.89 L547.94 57.07 L548.18 57.68 L548.44 57.34 L548.68 56.31 L548.94 56.63 L549.18 58.09 L549.44 58.30 L549.68 55.87 L549.94 57.49 L550.18 57.69 L550.44 58.03 L550.68 57.01 L550.94 55.38 L551.18 56.21 L551.44 56.79 L551.68 53.99 L551.94 56.04 L552.18 56.65 L552.44 56.05 L552.68 55.29 L552.94 54.12 L553.18 55.60 L553.44 56.43 L553.68 54.92 L553.94 54.60 L554.18 55.22 L554.44 56.49 L554.68 54.05 L554.94 54.00 L555.18 54.30 L555.44 53.31 L555.68 52.36 L555.94 53.48 L556.18 54.89 L556.44 55.82 L556.68 54.49 L556.94 53.94 L557.18 54.08 L557.44 53.91 L557.68 53.02 L557.94 51.95 L558.18 52.37 L558.44 53.56 L558.68 52.60 L558.94 52.95 L559.18 53.16 L559.44 52.47 L559.68 52.31 L559.94 53.80 L560.18 54.14 L560.44 54.20 L560.68 52.96 L560.94 50.03 L561.18 53.93 L561.44 52.95 L561.68 50.82 L561.94 52.03 L562.18 53.75 L562.44 52.78 L562.68 51.87 L562.94 51.78 L563.18 53.41 L563.44 53.72 L563.68 50.37 L563.94 52.32 L564.18 53.14 L564.44 52.16 L564.68 51.12 L564.94 52.18 L565.18 52.86 L565.44 51.98 L565.68 50.29 L565.94 50.16 L566.18 52.54 L566.44 53.07 L566.68 52.36 L566.94 50.23 L567.18 52.27 L567.44 52.09 L567.68 51.22 L567.94 50.22 L568.18 52.61 L568.44 53.82 L568.68 51.01 L568.94 50.63 L569.18 52.95 L569.44 52.88 L569.68 51.32 L569.94 52.27 L570.18 52.91 L570.44 53.98 L570.68 51.04 L570.94 50.27 L571.18 53.96 L571.44 52.73 L571.68 50.34 L571.94 50.96 L572.18 52.39 L572.44 53.16 L572.68 51.43 L572.94 49.40 L573.18 54.25 L573.44 53.44 L573.68 51.34 L573.94 52.11 L574.18 53.11 L574.44 53.74 L574.68 49.83 L574.94 51.31 L575.18 52.75 L575.44 53.16 L575.68 50.07 L575.94 51.09 L576.18 53.80 L576.44 54.74 L576.68 51.26 L576.94 51.11 L577.18 53.19 L577.44 53.99 L577.68 51.44 L577.94 51.05 L578.18 52.65 L578.44 52.13 L578.68 50.75 L578.94 50.60 L579.18 52.88 L579.44 54.34 L579.68 51.38 L579.94 49.88 L580.18 54.85 L580.44 52.53 L580.68 50.35 L580.94 51.18 L581.18 54.69 L581.44 52.53 L581.68 50.84 L581.94 51.54 L582.18 54.25 L582.44 53.64 L582.68 50.94 L582.94 50.56 L583.18 51.98 L583.44 53.44 L583.68 50.17 L583.94 52.44 L584.18 53.65 L584.44 54.60 L584.68 51.88 L584.94 50.31 L585.18 53.06 L585.44 53.29 L585.68 50.76 L585.94 50.43 L586.18 53.22 L586.44 53.04 L586.68 50.47 L586.94 51.69 L587.18 54.29 L587.44 52.65 L587.68 51.80 L587.94 51.32 L588.18 52.57 L588.44 53.73 L588.68 51.09 L588.94 50.14 L589.18 53.90 L589.44 53.53 L589.68 51.65 L589.94 51.66 L590.18 54.00 L590.44 53.46 L590.68 50.72 L590.94 49.64 L591.18 54.46 L591.44 53.82 L591.68 51.30 L591.94 51.03 L592.18 53.44 L592.44 54.72 L592.68 50.33 L592.94 51.13 L593.18 53.63 L593.44 54.42 L593.68 51.05 L593.94 51.71 L594.18 54.19 L594.44 53.43 L594.68 50.78 L594.94 50.76 L595.18 54.02 L595.44 54.91 L595.68 51.48 L595.94 50.74 L596.18 54.48 L596.44 53.60 L596.68 51.19 L596.94 51.48 L597.18 54.82 L597.44 54.08 L597.68 50.36 L597.94 49.28 L598.18 54.68 L598.44 54.70 L598.68 50.66 L598.94 50.32 L599.18 53.29 L599.44 54.98 L599.68 51.87 L599.94 52.05 L600.18 53.93 L600.44 54.59 L600.68 51.70 L600.94 51.89 L601.18 54.06 L601.44 54.46 L601.68 49.69 L601.94 50.88 L602.18 53.84 L602.44 53.79 L602.68 51.29 L602.94 52.00 L603.18 53.69 L603.44 53.78 L603.68 51.08 L603.94 50.95 L604.18 53.51 L604.44 54.77 L604.68 51.96 L604.94 50.34 L605.18 53.57 L605.44 54.28 L605.68 50.75 L605.94 51.59 L606.18 53.18 L606.44 55.02 L606.68 52.28 L606.94 51.01 L607.18 54.78 L607.44 54.75 L607.68 50.89 L607.94 51.16 L608.18 53.99 L608.44 54.56 L608.68 51.06 L608.94 51.26 L609.18 53.88 L609.44 54.10 L609.68 51.25 L609.94 51.42 L610.18 54.22 L610.44 53.91 L610.68 49.90 L610.94 51.32 L611.18 53.26 L611.44 54.98 L611.68 51.31 L611.94 51.72 L612.18 55.39 L612.44 54.03 L612.68 50.92 L612.94 51.05 L613.18 54.11 L613.44 55.94 L613.68 50.96 L613.94 49.73 L614.18 54.97 L614.44 55.24 L614.68 51.41 L614.94 51.71 L615.18 55.47 L615.44 54.12 L615.68 50.50 L615.94 51.54 L616.18 54.37 L616.44 54.61 L616.68 50.84 L616.94 51.13 L617.18 53.99 L617.44 54.77 L617.68 49.77 L617.94 51.22 L618.18 54.75 L618.44 54.94 L618.68 50.45 L618.94 50.91 L619.18 54.83 L619.44 54.47 L619.68 50.79 L619.94 51.45 L620.18 54.42 L620.44 54.86 L620.68 50.92 L620.94 49.75 L621.18 54.82 L621.44 54.77 L621.68 51.53 L621.94 51.32 L622.18 54.37 L622.44 54.23 L622.68 51.89 L622.94 51.15 L623.18 54.93 L623.44 55.62 L623.68 50.80 L623.94 51.23 L624.18 54.75 L624.44 54.89 L624.68 51.37 L624.94 51.97 L625.18 54.29 L625.44 55.87 L625.68 51.33 L625.94 51.64 L626.18 55.35 L626.44 54.54 L626.68 51.11 L626.94 49.15 L627.18 54.30 L627.44 54.01 L627.68 50.96 L627.94 50.10 L628.18 53.98 L628.44 55.50 L628.68 51.26 L628.94 51.15 L629.18 55.00 L629.44 55.38 L629.68 50.84 L629.94 50.78 L630.18 55.30 L630.44 54.16 L630.68 50.26 L630.94 50.56 L631.18 54.66 L631.44 54.50 L631.68 51.95 L631.94 52.00 L632.18 55.74 L632.44 55.08 L632.68 50.31 L632.94 51.20 L633.18 54.90 L633.44 54.80 L633.68 51.48 L633.94 51.83 L634.18 55.36 L634.44 54.80 L634.68 51.06 L634.94 50.40 L635.18 55.38 L635.44 54.56 L635.68 51.00 L635.94 51.98 L636.18 55.17 L636.44 54.95 L636.68 50.84 L636.94 51.47 L637.18 55.38 L637.44 55.09 L637.68 51.58 L637.94 49.06 L638.18 55.85 L638.44 55.40 L638.68 51.32 L638.94 50.96 L639.18 55.11 L639.44 55.36 L639.68 51.91 L639.94 51.65 L640.18 56.15 L640.44 55.99 L640.68 51.26 L640.94 51.40 L641.18 55.28 L641.44 55.28 L641.68 51.53 L641.94 50.93 L642.18 55.03 L642.44 55.21 L642.68 51.01 L642.94 50.58 L643.18 55.74 L643.44 54.90 L643.68 49.91 L643.94 51.43 L644.18 55.19 L644.44 55.50 L644.68 50.88 L644.94 51.46 L645.18 55.25 L645.44 55.23 L645.68 50.70 L645.94 50.95 L646.18 55.57 L646.44 55.17 L646.68 51.68 L646.94 50.65 L647.18 54.88 L647.44 55.69 L647.68 51.57 L647.94 51.55 L648.18 56.37 L648.44 55.63 L648.68 51.90 L648.94 51.46 L649.18 56.08 L649.44 55.78 L649.68 50.64 L649.94 51.19 L650.18 55.62 L650.44 55.80 L650.68 51.60 L650.94 50.91 L651.18 55.63 L651.44 54.63 L651.68 50.09 L651.94 51.57 L652.18 55.19 L652.44 54.75 L652.68 51.21 L652.94 51.21 L653.18 55.07 L653.44 55.88 L653.68 51.18 L653.94 50.03 L654.18 56.08 L654.44 55.59 L654.68 50.92 L654.94 50.81 L655.18 55.53 L655.44 55.64 L655.68 51.01 L655.94 49.97 L656.18 54.96 L656.44 54.80 L656.68 50.83 L656.94 51.70 L657.18 55.37 L657.44 56.03 L657.68 51.43 L657.94 51.53 L658.18 55.88 L658.44 55.78 L658.68 51.74 L658.94 51.30 L659.18 55.60 L659.44 55.22 L659.68 51.25 L659.94 50.69 L660.18 55.30 L660.44 55.60 L660.68 50.79 L660.94 50.57 L661.18 56.10 L661.44 55.66 L661.68 50.52 L661.94 51.63 L662.18 55.20 L662.44 55.21 L662.68 51.06 L662.94 51.93 L663.18 55.89 L663.44 55.70 L663.68 51.46 L663.94 51.62 L664.18 55.41 L664.44 56.03 L664.68 51.58 L664.94 50.72 L665.18 56.14 L665.44 55.33 L665.68 50.33 L665.94 51.40 L666.18 54.93 L666.44 56.31 L666.68 51.70 L666.94 51.30 L667.18 55.46 L667.44 55.70 L667.68 51.56 L667.94 51.38 L668.18 55.09 L668.44 55.65 L668.68 50.68 L668.94 51.34 L669.18 55.73 L669.44 55.39 L669.68 50.83 L669.94 50.92 L670.18 55.95 L670.44 56.01 L670.68 51.18 L670.94 50.90 L671.18 56.26 L671.44 55.72 L671.68 51.68 L671.94 51.68 L672.18 56.14 L672.44 55.25 L672.68 50.72 L672.94 52.05 L673.18 55.54 L673.44 55.71 L673.68 51.87 L673.94 51.34 L674.18 55.01 L674.44 55.79 L674.68 51.06 L674.94 52.03 L675.18 55.07 L675.44 56.19 L675.68 51.67 L675.94 51.26 L676.18 55.54 L676.44 56.80 L676.68 51.41 L676.94 51.59 L677.18 55.23 L677.44 56.04 L677.68 51.17 L677.94 51.19 L678.18 55.22 L678.44 55.23 L678.68 51.42 L678.94 50.28 L679.18 56.15 L679.44 56.21 L679.68 51.75 L679.94 51.24 L680.18 55.76 L680.44 55.20 L680.68 49.76 L680.94 51.11 L681.18 55.19 L681.44 55.67 L681.68 50.72 L681.94 51.27 L682.18 56.09 L682.44 56.25 L682.68 51.00 L682.94 51.29 L683.18 57.42 L683.44 55.66 L683.68 50.66 L683.94 51.47 L684.18 55.36 L684.44 55.52 L684.68 51.93 L684.94 51.68 L685.18 55.45 L685.44 56.00 L685.68 51.15 L685.94 50.98 L686.18 56.18 L686.44 55.75 L686.68 51.15 L686.94 51.38 L687.18 55.91 L687.44 55.92 L687.68 51.42 L687.94 50.31 L688.18 55.67 L688.44 55.65 L688.68 51.15 L688.94 51.83 L689.18 56.10 L689.44 56.92 L689.68 51.71 L689.94 51.08 L690.18 55.68 L690.44 56.41 L690.68 51.71 L690.94 51.41 L691.18 55.68 L691.44 55.41 L691.68 51.17 L691.94 51.92 L692.18 55.81 L692.44 55.28 L692.68 51.17 L692.94 51.65 L693.18 55.56 L693.44 55.71 L693.68 51.54" stroke="#f00a0a" stroke-width="2.2"/><path d="M395.50 68.00 L417.93 86.88 L431.05 107.08 L440.35 123.45 L447.57 137.56 L453.47 147.26 L458.46 154.26 L462.78 160.36 L466.59 165.19 L470.00 165.80 L473.08 164.55 L475.90 162.81 L478.49 160.34 L480.89 158.17 L483.12 156.52 L485.21 154.67 L487.17 152.55 L489.02 149.48 L490.77 146.34 L492.43 142.70 L494.01 139.09 L495.51 135.30 L496.95 132.04 L498.33 128.59 L499.65 125.50 L500.92 122.40 L502.14 119.28 L503.31 116.53 L504.45 113.61 L505.55 111.53 L506.61 109.17 L507.63 106.51 L508.63 104.16 L509.60 102.84 L510.53 100.05 L511.44 98.47 L512.33 95.92 L513.19 94.15 L514.03 91.97 L514.85 90.47 L515.65 88.55 L516.43 87.06 L517.19 85.50 L517.94 83.43 L518.66 83.18 L519.38 80.72 L520.07 79.91 L520.75 79.04 L521.42 77.79 L522.07 76.34 L522.71 75.44 L523.34 74.74 L523.96 72.93 L524.56 73.81 L525.16 73.46 L525.74 72.65 L526.31 72.47 L526.88 70.56 L527.43 70.36 L527.97 69.85 L528.51 69.61 L529.03 68.62 L529.55 67.25 L530.06 68.10 L530.44 69.25 L530.68 65.99 L530.94 64.97 L531.18 67.43 L531.44 66.79 L531.68 65.26 L531.94 65.39 L532.18 66.57 L532.44 65.90 L532.68 64.51 L532.94 64.58 L533.18 65.80 L533.44 66.13 L533.68 65.31 L533.94 65.22 L534.18 65.29 L534.44 63.37 L534.68 61.85 L534.94 64.39 L535.18 66.51 L535.44 63.08 L535.68 62.63 L535.94 63.82 L536.18 65.29 L536.44 63.03 L536.68 62.42 L536.94 62.23 L537.18 64.75 L537.44 62.45 L537.68 60.46 L537.94 59.27 L538.18 63.37 L538.44 62.21 L538.68 62.01 L538.94 59.69 L539.18 59.85 L539.44 61.39 L539.68 60.76 L539.94 59.97 L540.18 60.77 L540.44 59.63 L540.68 59.31 L540.94 58.18 L541.18 59.05 L541.44 60.42 L541.68 56.92 L541.94 59.32 L542.18 60.20 L542.44 58.92 L542.68 56.04 L542.94 59.68 L543.18 60.22 L543.44 56.85 L543.68 56.59 L543.94 57.16 L544.18 59.99 L544.44 57.82 L544.68 56.23 L544.94 56.94 L545.18 57.88 L545.44 59.25 L545.68 57.78 L545.94 53.65 L546.18 55.28 L546.44 57.19 L546.68 57.11 L546.94 54.55 L547.18 56.44 L547.44 57.69 L547.68 57.00 L547.94 54.41 L548.18 56.71 L548.44 57.27 L548.68 55.02 L548.94 53.70 L549.18 57.13 L549.44 56.54 L549.68 54.93 L549.94 54.24 L550.18 56.36 L550.44 56.21 L550.68 55.31 L550.94 53.21 L551.18 54.60 L551.44 55.65 L551.68 53.94 L551.94 53.43 L552.18 54.21 L552.44 55.79 L552.68 53.31 L552.94 54.33 L553.18 54.79 L553.44 52.92 L553.68 50.94 L553.94 50.32 L554.18 54.06 L554.44 55.30 L554.68 54.81 L554.94 52.31 L555.18 54.24 L555.44 53.53 L555.68 51.97 L555.94 51.54 L556.18 52.37 L556.44 56.63 L556.68 53.14 L556.94 52.85 L557.18 53.18 L557.44 52.78 L557.68 50.77 L557.94 53.41 L558.18 53.49 L558.44 52.60 L558.68 51.08 L558.94 52.63 L559.18 54.44 L559.44 54.36 L559.68 52.74 L559.94 49.52 L560.18 53.52 L560.44 52.76 L560.68 50.43 L560.94 49.08 L561.18 53.56 L561.44 54.25 L561.68 50.11 L561.94 49.76 L562.18 51.08 L562.44 52.72 L562.68 49.14 L562.94 49.05 L563.18 49.39 L563.44 51.03 L563.68 49.04 L563.94 48.58 L564.18 49.25 L564.44 51.41 L564.68 49.61 L564.94 50.33 L565.18 51.67 L565.44 51.37 L565.68 48.85 L565.94 47.75 L566.18 50.39 L566.44 52.09 L566.68 50.85 L566.94 47.84 L567.18 51.72 L567.44 51.43 L567.68 49.68 L567.94 48.31 L568.18 49.78 L568.44 53.40 L568.68 49.41 L568.94 50.55 L569.18 52.56 L569.44 51.64 L569.68 50.83 L569.94 48.67 L570.18 52.87 L570.44 51.33 L570.68 50.02 L570.94 47.01 L571.18 51.88 L571.44 52.64 L571.68 49.24 L571.94 48.75 L572.18 51.74 L572.44 51.58 L572.68 48.56 L572.94 47.61 L573.18 52.10 L573.44 52.42 L573.68 49.30 L573.94 50.27 L574.18 52.50 L574.44 50.62 L574.68 46.28 L574.94 47.85 L575.18 50.36 L575.44 51.38 L575.68 48.43 L575.94 48.27 L576.18 50.94 L576.44 50.18 L576.68 45.83 L576.94 45.67 L577.18 51.60 L577.44 50.47 L577.68 48.54 L577.94 48.46 L578.18 50.14 L578.44 50.84 L578.68 49.14 L578.94 49.01 L579.18 50.87 L579.44 51.32 L579.68 48.40 L579.94 47.77 L580.18 52.02 L580.44 51.79 L580.68 48.47 L580.94 48.85 L581.18 50.37 L581.44 50.41 L581.68 47.77 L581.94 48.89 L582.18 50.33 L582.44 51.91 L582.68 47.40 L582.94 48.54 L583.18 52.35 L583.44 51.03 L583.68 47.22 L583.94 47.55 L584.18 52.62 L584.44 51.67 L584.68 46.87 L584.94 46.19 L585.18 51.95 L585.44 51.24 L585.68 47.65 L585.94 47.74 L586.18 50.41 L586.44 52.24 L586.68 46.60 L586.94 47.51 L587.18 51.49 L587.44 51.79 L587.68 49.17 L587.94 47.44 L588.18 50.77 L588.44 49.95 L588.68 47.75 L588.94 47.08 L589.18 50.06 L589.44 50.94 L589.68 47.59 L589.94 47.34 L590.18 50.37 L590.44 50.66 L590.68 46.48 L590.94 47.82 L591.18 51.13 L591.44 51.31 L591.68 46.50 L591.94 47.13 L592.18 50.04 L592.44 50.79 L592.68 47.40 L592.94 47.37 L593.18 50.69 L593.44 50.74 L593.68 45.87 L593.94 46.71 L594.18 51.61 L594.44 51.22 L594.68 46.84 L594.94 46.43 L595.18 52.02 L595.44 51.02 L595.68 48.07 L595.94 46.24 L596.18 50.43 L596.44 53.05 L596.68 46.58 L596.94 48.37 L597.18 50.68 L597.44 50.47 L597.68 48.02 L597.94 46.96 L598.18 49.51 L598.44 51.38 L598.68 47.07 L598.94 44.92 L599.18 50.08 L599.44 50.82 L599.68 48.10 L599.94 48.14 L600.18 51.02 L600.44 49.99 L600.68 47.25 L600.94 47.83 L601.18 51.36 L601.44 50.41 L601.68 46.50 L601.94 45.40 L602.18 52.49 L602.44 50.81 L602.68 47.83 L602.94 47.06 L603.18 52.95 L603.44 51.99 L603.68 48.29 L603.94 47.25 L604.18 51.45 L604.44 48.71 L604.68 46.95 L604.94 46.83 L605.18 52.81 L605.44 49.55 L605.68 46.40 L605.94 46.23 L606.18 52.00 L606.44 49.49 L606.68 47.31 L606.94 46.49 L607.18 51.53 L607.44 50.60 L607.68 46.41 L607.94 45.75 L608.18 49.96 L608.44 50.51 L608.68 46.39 L608.94 47.54 L609.18 50.57 L609.44 49.25 L609.68 45.79 L609.94 47.80 L610.18 50.94 L610.44 49.13 L610.68 45.95 L610.94 46.33 L611.18 49.15 L611.44 50.05 L611.68 46.82 L611.94 47.60 L612.18 50.52 L612.44 51.03 L612.68 44.86 L612.94 46.68 L613.18 50.23 L613.44 51.83 L613.68 45.13 L613.94 46.07 L614.18 50.44 L614.44 51.71 L614.68 46.36 L614.94 46.01 L615.18 50.79 L615.44 51.11 L615.68 45.81 L615.94 44.46 L616.18 51.11 L616.44 50.31 L616.68 45.70 L616.94 45.58 L617.18 49.89 L617.44 50.79 L617.68 45.36 L617.94 45.90 L618.18 50.29 L618.44 50.13 L618.68 44.49 L618.94 46.41 L619.18 50.36 L619.44 50.77 L619.68 45.47 L619.94 46.41 L620.18 52.61 L620.44 50.57 L620.68 46.00 L620.94 46.31 L621.18 51.01 L621.44 51.25 L621.68 45.24 L621.94 46.52 L622.18 51.24 L622.44 51.04 L622.68 46.00 L622.94 46.42 L623.18 50.35 L623.44 50.51 L623.68 45.57 L623.94 46.21 L624.18 50.43 L624.44 51.27 L624.68 46.14 L624.94 46.03 L625.18 51.12 L625.44 50.25 L625.68 46.41 L625.94 46.47 L626.18 50.75 L626.44 50.64 L626.68 45.66 L626.94 46.20 L627.18 52.08 L627.44 53.01 L627.68 46.58 L627.94 46.00 L628.18 50.96 L628.44 51.12 L628.68 46.42 L628.94 45.92 L629.18 50.34 L629.44 50.80 L629.68 45.62 L629.94 45.49 L630.18 50.38 L630.44 50.89 L630.68 47.20 L630.94 44.10 L631.18 50.71 L631.44 51.40 L631.68 44.51 L631.94 45.92 L632.18 49.38 L632.44 51.13 L632.68 45.89 L632.94 46.46 L633.18 50.45 L633.44 50.41 L633.68 45.47 L633.94 46.36 L634.18 50.11 L634.44 51.89 L634.68 46.06 L634.94 46.21 L635.18 51.17 L635.44 51.99 L635.68 44.71 L635.94 46.51 L636.18 52.00 L636.44 50.55 L636.68 44.96 L636.94 45.89 L637.18 50.86 L637.44 51.20 L637.68 45.50 L637.94 45.81 L638.18 52.20 L638.44 51.93 L638.68 46.19 L638.94 45.43 L639.18 51.33 L639.44 51.99 L639.68 45.98 L639.94 45.51 L640.18 52.09 L640.44 50.94 L640.68 45.37 L640.94 45.56 L641.18 51.59 L641.44 52.25 L641.68 46.11 L641.94 45.21 L642.18 50.47 L642.44 50.85 L642.68 45.04 L642.94 45.70 L643.18 51.17 L643.44 50.67 L643.68 45.38 L643.94 44.26 L644.18 52.25 L644.44 50.29 L644.68 45.64 L644.94 44.43 L645.18 51.00 L645.44 51.39 L645.68 44.87 L645.94 45.32 L646.18 52.04 L646.44 50.52 L646.68 45.21 L646.94 45.85 L647.18 51.92 L647.44 51.73 L647.68 44.04 L647.94 46.58 L648.18 51.13 L648.44 51.74 L648.68 45.58 L648.94 45.66 L649.18 50.37 L649.44 51.72 L649.68 45.93 L649.94 45.41 L650.18 51.16 L650.44 52.26 L650.68 45.80 L650.94 44.71 L651.18 51.02 L651.44 51.17 L651.68 44.72 L651.94 45.70 L652.18 52.33 L652.44 50.22 L652.68 45.07 L652.94 45.32 L653.18 52.35 L653.44 51.27 L653.68 45.56 L653.94 45.15 L654.18 50.68 L654.44 51.33 L654.68 43.96 L654.94 45.42 L655.18 51.39 L655.44 50.88 L655.68 44.68 L655.94 45.65 L656.18 51.41 L656.44 52.19 L656.68 43.61 L656.94 45.28 L657.18 50.62 L657.44 50.62 L657.68 45.79 L657.94 46.13 L658.18 50.88 L658.44 51.41 L658.68 45.88 L658.94 45.21 L659.18 49.93 L659.44 51.88 L659.68 45.52 L659.94 45.41 L660.18 51.62 L660.44 49.86 L660.68 45.25 L660.94 44.63 L661.18 50.36 L661.44 51.32 L661.68 45.95 L661.94 43.93 L662.18 51.09 L662.44 50.91 L662.68 44.81 L662.94 44.03 L663.18 51.66 L663.44 50.68 L663.68 45.61 L663.94 44.91 L664.18 50.81 L664.44 50.53 L664.68 45.62 L664.94 45.71 L665.18 50.49 L665.44 50.53 L665.68 44.65 L665.94 44.74 L666.18 50.98 L666.44 51.70 L666.68 45.90 L666.94 45.42 L667.18 50.62 L667.44 51.66 L667.68 44.43 L667.94 45.69 L668.18 51.16 L668.44 50.07 L668.68 44.01 L668.94 45.37 L669.18 51.73 L669.44 51.71 L669.68 43.67 L669.94 44.55 L670.18 50.86 L670.44 51.37 L670.68 45.94 L670.94 45.16 L671.18 51.14 L671.44 53.25 L671.68 43.91 L671.94 44.28 L672.18 50.90 L672.44 52.63 L672.68 45.58 L672.94 45.25 L673.18 51.31 L673.44 52.33 L673.68 45.90 L673.94 45.70 L674.18 51.87 L674.44 51.00 L674.68 44.63 L674.94 44.89 L675.18 50.74 L675.44 51.97 L675.68 44.39 L675.94 43.93 L676.18 49.10 L676.44 50.98 L676.68 44.78 L676.94 45.46 L677.18 49.83 L677.44 51.65 L677.68 45.18 L677.94 45.38 L678.18 51.35 L678.44 51.74 L678.68 44.29 L678.94 46.17 L679.18 51.86 L679.44 51.53 L679.68 46.01 L679.94 44.86 L680.18 51.07 L680.44 51.92 L680.68 45.48 L680.94 45.40 L681.18 51.31 L681.44 51.22 L681.68 45.11 L681.94 45.01 L682.18 52.21 L682.44 51.58 L682.68 44.98 L682.94 44.99 L683.18 50.89 L683.44 51.37 L683.68 45.97 L683.94 45.84 L684.18 50.62 L684.44 49.64 L684.68 46.21 L684.94 44.74 L685.18 51.12 L685.44 51.55 L685.68 45.53 L685.94 44.91 L686.18 51.24 L686.44 50.33 L686.68 45.09 L686.94 45.18 L687.18 51.47 L687.44 51.69 L687.68 45.04 L687.94 43.99 L688.18 51.89 L688.44 51.22 L688.68 44.89 L688.94 43.69 L689.18 50.95 L689.44 52.23 L689.68 45.36 L689.94 44.82 L690.18 51.69 L690.44 50.80 L690.68 44.32 L690.94 45.05 L691.18 51.45 L691.44 50.41 L691.68 45.51 L691.94 44.32 L692.18 50.97 L692.44 50.13 L692.68 45.32 L692.94 45.19 L693.18 49.95 L693.44 51.15 L693.68 44.03" stroke="#000" stroke-width="1.5"/></g><text x="389.5" y="181.4" text-anchor="end" font-size="11.2">3</text><text x="389.5" y="150.3" text-anchor="end" font-size="11.2">3.5</text><text x="389.5" y="119.2" text-anchor="end" font-size="11.2">4</text><text x="389.5" y="88.1" text-anchor="end" font-size="11.2">4.5</text><text x="389.5" y="57.0" text-anchor="end" font-size="11.2">5</text><text x="389.5" y="25.9" text-anchor="end" font-size="11.2">5.5</text><path d="M417.93 354.0v-1.5M417.93 198.5v1.5M431.05 354.0v-1.5M431.05 198.5v1.5M440.35 354.0v-1.5M440.35 198.5v1.5M447.57 354.0v-1.5M447.57 198.5v1.5M453.47 354.0v-1.5M453.47 198.5v1.5M458.46 354.0v-1.5M458.46 198.5v1.5M462.78 354.0v-1.5M462.78 198.5v1.5M466.59 354.0v-1.5M466.59 198.5v1.5M470.00 354.0v-3.5M470.00 198.5v3.5M492.43 354.0v-1.5M492.43 198.5v1.5M505.55 354.0v-1.5M505.55 198.5v1.5M514.85 354.0v-1.5M514.85 198.5v1.5M522.07 354.0v-1.5M522.07 198.5v1.5M527.97 354.0v-1.5M527.97 198.5v1.5M532.96 354.0v-1.5M532.96 198.5v1.5M537.28 354.0v-1.5M537.28 198.5v1.5M541.09 354.0v-1.5M541.09 198.5v1.5M544.50 354.0v-3.5M544.50 198.5v3.5M566.93 354.0v-1.5M566.93 198.5v1.5M580.05 354.0v-1.5M580.05 198.5v1.5M589.35 354.0v-1.5M589.35 198.5v1.5M596.57 354.0v-1.5M596.57 198.5v1.5M602.47 354.0v-1.5M602.47 198.5v1.5M607.46 354.0v-1.5M607.46 198.5v1.5M611.78 354.0v-1.5M611.78 198.5v1.5M615.59 354.0v-1.5M615.59 198.5v1.5M619.00 354.0v-3.5M619.00 198.5v3.5M641.43 354.0v-1.5M641.43 198.5v1.5M654.55 354.0v-1.5M654.55 198.5v1.5M663.85 354.0v-1.5M663.85 198.5v1.5M671.07 354.0v-1.5M671.07 198.5v1.5M676.97 354.0v-1.5M676.97 198.5v1.5M681.96 354.0v-1.5M681.96 198.5v1.5M686.28 354.0v-1.5M686.28 198.5v1.5M690.09 354.0v-1.5M690.09 198.5v1.5M395.5 354.00h3.5M693.5 354.00h-3.5M395.5 315.12h3.5M693.5 315.12h-3.5M395.5 276.25h3.5M693.5 276.25h-3.5M395.5 237.38h3.5M693.5 237.38h-3.5M395.5 198.50h3.5M693.5 198.50h-3.5" stroke="#262626" stroke-width="1" fill="none"/><rect x="395.5" y="198.5" width="298.0" height="155.5" fill="none" stroke="#262626" stroke-width="1"/><clipPath id="civ"><rect x="395.5" y="197.5" width="298.0" height="157.5"/></clipPath><g clip-path="url(#civ)" fill="none" stroke-linejoin="round" stroke-linecap="round"><path d="M395.50 353.30 L417.93 353.28 L431.05 353.26 L440.35 353.23 L447.57 353.21 L453.47 353.18 L458.46 353.14 L462.78 353.09 L466.59 353.03 L470.00 352.97 L473.08 352.90 L475.90 352.84 L478.49 352.77 L480.89 352.70 L483.12 352.64 L485.21 352.57 L487.17 352.50 L489.02 352.44 L490.77 352.37 L492.43 352.29 L494.01 352.18 L495.51 352.05 L496.95 351.92 L498.33 351.79 L499.65 351.64 L500.92 351.47 L502.14 351.30 L503.31 351.13 L504.45 350.98 L505.55 350.79 L506.61 350.61 L507.63 350.42 L508.63 350.24 L509.60 350.09 L510.53 349.88 L511.44 349.68 L512.33 349.41 L513.19 349.12 L514.03 348.82 L514.85 348.48 L515.65 348.17 L516.43 347.88 L517.19 347.53 L517.94 347.15 L518.66 346.87 L519.38 346.48 L520.07 346.25 L520.75 346.03 L521.42 345.76 L522.07 345.43 L522.71 345.13 L523.34 344.94 L523.96 344.60 L524.56 344.33 L525.16 344.08 L525.74 343.83 L526.31 343.50 L526.88 343.28 L527.43 343.00 L527.97 342.82 L528.51 342.50 L529.03 342.18 L529.55 341.91 L530.06 341.69 L530.44 341.51 L530.68 341.38 L530.94 340.86 L531.18 341.03 L531.44 341.02 L531.68 340.68 L531.94 340.26 L532.18 340.59 L532.44 340.36 L532.68 340.21 L532.94 340.10 L533.18 340.17 L533.44 339.56 L533.68 339.37 L533.94 339.16 L534.18 339.22 L534.44 339.04 L534.68 338.93 L534.94 338.48 L535.18 338.55 L535.44 338.08 L535.68 338.05 L535.94 337.92 L536.18 338.09 L536.44 337.78 L536.68 337.60 L536.94 337.16 L537.18 337.60 L537.44 336.92 L537.68 336.48 L537.94 336.26 L538.18 336.34 L538.44 336.20 L538.68 336.10 L538.94 335.48 L539.18 335.75 L539.44 335.54 L539.68 335.23 L539.94 334.53 L540.18 334.95 L540.44 334.71 L540.68 334.49 L540.94 333.54 L541.18 334.44 L541.44 333.61 L541.68 333.47 L541.94 332.98 L542.18 333.00 L542.44 332.58 L542.68 332.30 L542.94 332.19 L543.18 332.34 L543.44 332.12 L543.68 331.68 L543.94 331.38 L544.18 331.55 L544.44 331.02 L544.68 330.68 L544.94 330.32 L545.18 330.50 L545.44 330.55 L545.68 329.37 L545.94 329.59 L546.18 329.79 L546.44 329.33 L546.68 328.46 L546.94 328.63 L547.18 328.70 L547.44 328.19 L547.68 328.15 L547.94 327.01 L548.18 327.58 L548.44 327.37 L548.68 327.02 L548.94 326.31 L549.18 326.49 L549.44 326.12 L549.68 325.97 L549.94 325.29 L550.18 325.33 L550.44 324.76 L550.68 324.75 L550.94 323.67 L551.18 324.30 L551.44 323.50 L551.68 323.47 L551.94 322.98 L552.18 323.07 L552.44 322.63 L552.68 321.81 L552.94 321.50 L553.18 321.59 L553.44 321.58 L553.68 321.40 L553.94 320.83 L554.18 320.91 L554.44 320.39 L554.68 320.32 L554.94 319.18 L555.18 319.63 L555.44 319.09 L555.68 318.79 L555.94 318.53 L556.18 318.66 L556.44 317.79 L556.68 317.22 L556.94 316.00 L557.18 318.16 L557.44 317.12 L557.68 316.39 L557.94 316.18 L558.18 316.28 L558.44 315.94 L558.68 315.74 L558.94 314.42 L559.18 314.70 L559.44 315.22 L559.68 314.88 L559.94 314.17 L560.18 314.86 L560.44 313.66 L560.68 312.70 L560.94 312.10 L561.18 313.44 L561.44 311.98 L561.68 311.52 L561.94 310.49 L562.18 311.71 L562.44 312.01 L562.68 310.44 L562.94 310.41 L563.18 310.81 L563.44 310.20 L563.68 309.47 L563.94 308.60 L564.18 310.09 L564.44 309.14 L564.68 308.40 L564.94 307.77 L565.18 309.92 L565.44 308.46 L565.68 307.43 L565.94 306.29 L566.18 306.94 L566.44 306.98 L566.68 306.20 L566.94 306.06 L567.18 306.27 L567.44 305.84 L567.68 305.47 L567.94 304.12 L568.18 304.64 L568.44 304.40 L568.68 303.72 L568.94 304.06 L569.18 304.30 L569.44 303.88 L569.68 302.80 L569.94 302.02 L570.18 303.08 L570.44 303.11 L570.68 302.61 L570.94 301.12 L571.18 302.31 L571.44 302.44 L571.68 301.16 L571.94 300.01 L572.18 302.89 L572.44 300.23 L572.68 300.08 L572.94 299.13 L573.18 300.29 L573.44 300.71 L573.68 299.23 L573.94 298.26 L574.18 299.39 L574.44 298.17 L574.68 296.70 L574.94 297.03 L575.18 299.25 L575.44 297.76 L575.68 296.71 L575.94 296.47 L576.18 296.90 L576.44 297.59 L576.68 294.74 L576.94 295.97 L577.18 297.29 L577.44 296.29 L577.68 294.81 L577.94 293.45 L578.18 295.29 L578.44 294.95 L578.68 293.20 L578.94 293.25 L579.18 294.82 L579.44 294.30 L579.68 292.78 L579.94 292.78 L580.18 293.72 L580.44 293.13 L580.68 290.80 L580.94 291.03 L581.18 292.72 L581.44 293.12 L581.68 290.76 L581.94 290.15 L582.18 291.98 L582.44 291.99 L582.68 290.39 L582.94 289.96 L583.18 291.25 L583.44 289.49 L583.68 288.70 L583.94 288.00 L584.18 289.94 L584.44 289.07 L584.68 287.85 L584.94 287.51 L585.18 289.34 L585.44 288.58 L585.68 287.01 L585.94 285.21 L586.18 288.12 L586.44 287.82 L586.68 285.91 L586.94 285.07 L587.18 287.53 L587.44 287.35 L587.68 284.89 L587.94 284.10 L588.18 286.16 L588.44 286.53 L588.68 284.97 L588.94 284.45 L589.18 286.15 L589.44 285.58 L589.68 284.68 L589.94 283.64 L590.18 285.49 L590.44 285.31 L590.68 283.48 L590.94 283.63 L591.18 285.46 L591.44 284.79 L591.68 282.68 L591.94 283.38 L592.18 284.74 L592.44 284.57 L592.68 281.51 L592.94 281.68 L593.18 283.78 L593.44 283.50 L593.68 281.44 L593.94 280.26 L594.18 283.98 L594.44 282.88 L594.68 280.60 L594.94 279.89 L595.18 282.37 L595.44 282.99 L595.68 280.67 L595.94 280.12 L596.18 282.45 L596.44 282.35 L596.68 279.48 L596.94 279.62 L597.18 281.25 L597.44 281.95 L597.68 278.92 L597.94 278.29 L598.18 282.70 L598.44 281.73 L598.68 279.16 L598.94 279.31 L599.18 281.36 L599.44 281.35 L599.68 278.84 L599.94 278.92 L600.18 282.08 L600.44 281.03 L600.68 278.06 L600.94 278.46 L601.18 281.17 L601.44 280.65 L601.68 278.61 L601.94 278.25 L602.18 280.07 L602.44 280.48 L602.68 278.58 L602.94 278.38 L603.18 281.68 L603.44 280.11 L603.68 277.25 L603.94 277.97 L604.18 279.71 L604.44 280.62 L604.68 277.65 L604.94 277.50 L605.18 279.69 L605.44 281.76 L605.68 276.91 L605.94 277.07 L606.18 279.57 L606.44 280.77 L606.68 277.89 L606.94 276.40 L607.18 280.62 L607.44 279.81 L607.68 276.97 L607.94 277.79 L608.18 280.37 L608.44 280.86 L608.68 277.71 L608.94 276.51 L609.18 279.53 L609.44 279.49 L609.68 276.93 L609.94 277.38 L610.18 279.71 L610.44 279.18 L610.68 276.66 L610.94 277.44 L611.18 279.56 L611.44 278.94 L611.68 276.72 L611.94 275.75 L612.18 279.42 L612.44 280.11 L612.68 276.38 L612.94 277.24 L613.18 279.50 L613.44 279.67 L613.68 276.28 L613.94 276.53 L614.18 280.71 L614.44 279.07 L614.68 274.75 L614.94 276.18 L615.18 279.64 L615.44 279.49 L615.68 275.24 L615.94 276.43 L616.18 278.50 L616.44 279.52 L616.68 276.34 L616.94 276.03 L617.18 279.18 L617.44 279.80 L617.68 276.50 L617.94 276.15 L618.18 279.65 L618.44 279.95 L618.68 276.50 L618.94 276.82 L619.18 279.31 L619.44 278.60 L619.68 275.79 L619.94 275.49 L620.18 279.08 L620.44 278.79 L620.68 276.84 L620.94 275.61 L621.18 280.04 L621.44 280.10 L621.68 276.74 L621.94 276.00 L622.18 278.57 L622.44 278.85 L622.68 276.28 L622.94 276.25 L623.18 279.49 L623.44 279.24 L623.68 276.49 L623.94 275.30 L624.18 279.18 L624.44 279.36 L624.68 276.55 L624.94 275.55 L625.18 280.04 L625.44 279.32 L625.68 275.11 L625.94 277.05 L626.18 278.49 L626.44 278.90 L626.68 275.21 L626.94 276.07 L627.18 279.25 L627.44 278.63 L627.68 275.93 L627.94 274.49 L628.18 279.18 L628.44 278.69 L628.68 275.97 L628.94 275.49 L629.18 279.38 L629.44 278.31 L629.68 275.41 L629.94 276.05 L630.18 279.26 L630.44 278.54 L630.68 275.27 L630.94 275.85 L631.18 278.74 L631.44 279.59 L631.68 275.73 L631.94 275.98 L632.18 279.74 L632.44 278.44 L632.68 275.67 L632.94 275.93 L633.18 278.62 L633.44 278.77 L633.68 276.03 L633.94 275.91 L634.18 279.79 L634.44 279.40 L634.68 275.06 L634.94 275.39 L635.18 279.73 L635.44 278.42 L635.68 275.81 L635.94 275.95 L636.18 278.53 L636.44 279.59 L636.68 275.87 L636.94 276.00 L637.18 279.36 L637.44 279.24 L637.68 275.21 L637.94 275.60 L638.18 278.83 L638.44 279.26 L638.68 274.82 L638.94 275.06 L639.18 278.38 L639.44 278.35 L639.68 275.70 L639.94 275.05 L640.18 279.29 L640.44 279.09 L640.68 275.07 L640.94 275.19 L641.18 278.49 L641.44 278.92 L641.68 275.36 L641.94 275.69 L642.18 278.18 L642.44 278.47 L642.68 274.50 L642.94 274.47 L643.18 278.40 L643.44 278.81 L643.68 275.16 L643.94 274.81 L644.18 278.31 L644.44 278.35 L644.68 275.11 L644.94 275.29 L645.18 279.27 L645.44 278.66 L645.68 275.31 L645.94 274.90 L646.18 279.97 L646.44 278.81 L646.68 274.73 L646.94 274.51 L647.18 278.44 L647.44 278.77 L647.68 275.06 L647.94 275.22 L648.18 279.21 L648.44 278.77 L648.68 274.72 L648.94 275.32 L649.18 278.37 L649.44 278.78 L649.68 274.92 L649.94 274.62 L650.18 278.72 L650.44 278.30 L650.68 274.84 L650.94 274.31 L651.18 278.53 L651.44 278.88 L651.68 274.78 L651.94 275.54 L652.18 278.29 L652.44 278.41 L652.68 274.97 L652.94 274.12 L653.18 277.71 L653.44 278.40 L653.68 275.27 L653.94 275.60 L654.18 278.83 L654.44 279.53 L654.68 274.93 L654.94 274.50 L655.18 279.02 L655.44 278.70 L655.68 274.38 L655.94 274.36 L656.18 278.85 L656.44 278.98 L656.68 275.58 L656.94 274.84 L657.18 278.33 L657.44 277.62 L657.68 274.78 L657.94 275.21 L658.18 278.47 L658.44 278.22 L658.68 274.94 L658.94 274.64 L659.18 278.34 L659.44 278.09 L659.68 274.57 L659.94 274.85 L660.18 279.32 L660.44 278.26 L660.68 274.84 L660.94 274.09 L661.18 278.25 L661.44 278.09 L661.68 274.41 L661.94 274.46 L662.18 277.88 L662.44 278.46 L662.68 274.37 L662.94 274.34 L663.18 278.96 L663.44 278.72 L663.68 274.45 L663.94 274.41 L664.18 278.80 L664.44 278.31 L664.68 274.53 L664.94 273.89 L665.18 278.47 L665.44 277.72 L665.68 274.08 L665.94 274.63 L666.18 277.67 L666.44 277.89 L666.68 274.54 L666.94 274.39 L667.18 278.32 L667.44 277.79 L667.68 274.06 L667.94 274.71 L668.18 278.12 L668.44 278.52 L668.68 274.49 L668.94 274.86 L669.18 278.03 L669.44 277.57 L669.68 274.20 L669.94 274.00 L670.18 278.08 L670.44 279.02 L670.68 274.26 L670.94 274.57 L671.18 278.60 L671.44 277.69 L671.68 273.54 L671.94 274.00 L672.18 277.81 L672.44 278.20 L672.68 273.79 L672.94 273.80 L673.18 277.78 L673.44 277.64 L673.68 274.13 L673.94 274.45 L674.18 277.45 L674.44 277.46 L674.68 274.37 L674.94 275.04 L675.18 277.88 L675.44 277.20 L675.68 274.07 L675.94 273.12 L676.18 278.06 L676.44 277.74 L676.68 274.15 L676.94 274.83 L677.18 278.27 L677.44 278.26 L677.68 273.24 L677.94 274.50 L678.18 277.81 L678.44 277.79 L678.68 274.35 L678.94 273.94 L679.18 278.49 L679.44 278.44 L679.68 274.57 L679.94 274.28 L680.18 278.43 L680.44 278.39 L680.68 273.84 L680.94 274.10 L681.18 277.67 L681.44 278.36 L681.68 273.90 L681.94 274.21 L682.18 277.89 L682.44 277.74 L682.68 274.51 L682.94 273.95 L683.18 277.82 L683.44 278.53 L683.68 274.23 L683.94 273.87 L684.18 278.34 L684.44 278.36 L684.68 274.63 L684.94 273.77 L685.18 277.75 L685.44 278.09 L685.68 274.07 L685.94 273.64 L686.18 278.68 L686.44 277.91 L686.68 273.95 L686.94 274.19 L687.18 277.51 L687.44 278.12 L687.68 274.11 L687.94 274.03 L688.18 278.25 L688.44 278.16 L688.68 274.63 L688.94 274.63 L689.18 278.01 L689.44 277.31 L689.68 273.52 L689.94 274.11 L690.18 277.74 L690.44 278.96 L690.68 274.41 L690.94 274.90 L691.18 278.28 L691.44 277.17 L691.68 274.57 L691.94 274.03 L692.18 278.58 L692.44 277.92 L692.68 273.42 L692.94 274.32 L693.18 277.36 L693.44 277.95 L693.68 274.00" stroke="#0b0bf0" stroke-width="2.2"/><path d="M395.50 351.80 L417.93 351.76 L431.05 351.71 L440.35 351.66 L447.57 351.62 L453.47 351.58 L458.46 351.53 L462.78 351.48 L466.59 351.43 L470.00 351.37 L473.08 351.31 L475.90 351.25 L478.49 351.18 L480.89 351.11 L483.12 351.04 L485.21 350.98 L487.17 350.91 L489.02 350.83 L490.77 350.77 L492.43 350.62 L494.01 350.45 L495.51 350.23 L496.95 349.99 L498.33 349.70 L499.65 349.42 L500.92 349.10 L502.14 348.80 L503.31 348.49 L504.45 348.17 L505.55 347.87 L506.61 347.51 L507.63 347.19 L508.63 346.93 L509.60 346.64 L510.53 346.32 L511.44 345.97 L512.33 345.66 L513.19 345.30 L514.03 344.92 L514.85 344.51 L515.65 344.15 L516.43 343.74 L517.19 343.28 L517.94 342.85 L518.66 342.41 L519.38 342.06 L520.07 341.56 L520.75 341.19 L521.42 340.84 L522.07 340.31 L522.71 339.91 L523.34 339.39 L523.96 339.22 L524.56 338.65 L525.16 338.24 L525.74 337.84 L526.31 337.40 L526.88 336.89 L527.43 336.66 L527.97 336.12 L528.51 335.64 L529.03 335.28 L529.55 334.80 L530.06 334.26 L530.44 333.93 L530.68 333.71 L530.94 333.35 L531.18 333.70 L531.44 332.85 L531.68 332.61 L531.94 332.29 L532.18 332.42 L532.44 332.48 L532.68 331.62 L532.94 331.39 L533.18 331.46 L533.44 331.23 L533.68 330.49 L533.94 330.38 L534.18 330.63 L534.44 329.91 L534.68 329.46 L534.94 329.15 L535.18 329.34 L535.44 329.27 L535.68 328.91 L535.94 327.91 L536.18 328.25 L536.44 327.71 L536.68 327.37 L536.94 326.63 L537.18 326.80 L537.44 326.40 L537.68 326.36 L537.94 325.07 L538.18 325.67 L538.44 325.10 L538.68 324.73 L538.94 323.62 L539.18 324.06 L539.44 323.58 L539.68 323.40 L539.94 322.21 L540.18 322.89 L540.44 322.20 L540.68 322.14 L540.94 321.02 L541.18 321.06 L541.44 320.37 L541.68 320.09 L541.94 319.28 L542.18 319.51 L542.44 319.28 L542.68 318.75 L542.94 317.89 L543.18 318.15 L543.44 317.35 L543.68 316.87 L543.94 315.81 L544.18 316.26 L544.44 315.95 L544.68 315.31 L544.94 314.69 L545.18 315.49 L545.44 314.10 L545.68 313.99 L545.94 312.65 L546.18 313.21 L546.44 312.53 L546.68 312.47 L546.94 311.07 L547.18 311.26 L547.44 310.87 L547.68 309.97 L547.94 309.43 L548.18 310.00 L548.44 309.19 L548.68 308.30 L548.94 307.67 L549.18 308.57 L549.44 307.13 L549.68 306.69 L549.94 306.22 L550.18 306.73 L550.44 304.57 L550.68 304.38 L550.94 303.18 L551.18 304.76 L551.44 304.79 L551.68 302.72 L551.94 301.28 L552.18 303.21 L552.44 302.74 L552.68 302.33 L552.94 300.48 L553.18 301.64 L553.44 299.83 L553.68 299.21 L553.94 297.82 L554.18 299.46 L554.44 298.34 L554.68 297.99 L554.94 297.25 L555.18 297.34 L555.44 295.63 L555.68 294.67 L555.94 294.81 L556.18 294.95 L556.44 294.41 L556.68 292.10 L556.94 292.74 L557.18 293.01 L557.44 292.32 L557.68 292.30 L557.94 290.98 L558.18 291.15 L558.44 290.14 L558.68 289.95 L558.94 288.32 L559.18 289.53 L559.44 289.25 L559.68 288.20 L559.94 286.56 L560.18 288.16 L560.44 286.94 L560.68 285.88 L560.94 285.58 L561.18 286.80 L561.44 286.09 L561.68 283.69 L561.94 282.01 L562.18 283.35 L562.44 284.02 L562.68 282.76 L562.94 281.70 L563.18 281.96 L563.44 282.02 L563.68 280.51 L563.94 278.78 L564.18 281.31 L564.44 279.89 L564.68 278.17 L564.94 277.25 L565.18 278.28 L565.44 278.12 L565.68 275.46 L565.94 275.16 L566.18 276.52 L566.44 276.20 L566.68 274.10 L566.94 273.58 L567.18 274.79 L567.44 274.57 L567.68 273.34 L567.94 272.77 L568.18 274.74 L568.44 272.17 L568.68 270.73 L568.94 270.41 L569.18 270.84 L569.44 270.26 L569.68 269.53 L569.94 267.92 L570.18 269.14 L570.44 268.78 L570.68 267.05 L570.94 265.36 L571.18 267.15 L571.44 266.93 L571.68 266.64 L571.94 262.67 L572.18 266.06 L572.44 266.03 L572.68 264.06 L572.94 263.13 L573.18 264.96 L573.44 263.55 L573.68 261.76 L573.94 260.04 L574.18 262.43 L574.44 262.84 L574.68 260.14 L574.94 260.22 L575.18 261.91 L575.44 261.88 L575.68 258.02 L575.94 255.83 L576.18 258.78 L576.44 258.35 L576.68 256.22 L576.94 255.16 L577.18 256.72 L577.44 256.82 L577.68 254.50 L577.94 253.84 L578.18 255.55 L578.44 254.48 L578.68 252.68 L578.94 252.81 L579.18 254.81 L579.44 253.83 L579.68 250.90 L579.94 250.85 L580.18 253.11 L580.44 252.41 L580.68 250.98 L580.94 248.58 L581.18 251.83 L581.44 252.32 L581.68 248.87 L581.94 248.84 L582.18 250.35 L582.44 248.94 L582.68 246.43 L582.94 245.50 L583.18 249.18 L583.44 249.65 L583.68 245.46 L583.94 244.89 L584.18 247.72 L584.44 246.06 L584.68 244.86 L584.94 245.59 L585.18 247.15 L585.44 246.44 L585.68 242.97 L585.94 242.50 L586.18 245.56 L586.44 245.75 L586.68 243.14 L586.94 241.06 L587.18 243.07 L587.44 244.72 L587.68 241.32 L587.94 239.99 L588.18 242.43 L588.44 242.80 L588.68 239.39 L588.94 236.63 L589.18 242.26 L589.44 240.59 L589.68 235.71 L589.94 238.42 L590.18 241.72 L590.44 240.13 L590.68 237.98 L590.94 236.23 L591.18 239.20 L591.44 239.76 L591.68 235.63 L591.94 236.55 L592.18 239.20 L592.44 238.44 L592.68 235.97 L592.94 234.55 L593.18 238.65 L593.44 237.29 L593.68 234.69 L593.94 234.92 L594.18 237.34 L594.44 237.37 L594.68 234.32 L594.94 234.99 L595.18 237.37 L595.44 237.70 L595.68 233.96 L595.94 234.21 L596.18 236.07 L596.44 235.63 L596.68 233.45 L596.94 233.04 L597.18 235.59 L597.44 234.85 L597.68 232.19 L597.94 232.99 L598.18 235.48 L598.44 235.13 L598.68 233.35 L598.94 230.61 L599.18 234.21 L599.44 234.87 L599.68 231.58 L599.94 230.62 L600.18 233.90 L600.44 233.60 L600.68 228.22 L600.94 231.34 L601.18 233.95 L601.44 233.08 L601.68 229.36 L601.94 229.71 L602.18 232.60 L602.44 233.58 L602.68 230.68 L602.94 229.11 L603.18 231.65 L603.44 232.72 L603.68 229.21 L603.94 228.98 L604.18 232.72 L604.44 231.59 L604.68 229.02 L604.94 227.69 L605.18 230.95 L605.44 231.31 L605.68 229.20 L605.94 226.72 L606.18 231.01 L606.44 230.17 L606.68 227.45 L606.94 226.60 L607.18 229.69 L607.44 230.91 L607.68 226.52 L607.94 226.26 L608.18 230.69 L608.44 231.40 L608.68 225.74 L608.94 226.50 L609.18 230.78 L609.44 231.07 L609.68 227.24 L609.94 225.49 L610.18 230.90 L610.44 230.14 L610.68 226.88 L610.94 226.93 L611.18 230.08 L611.44 229.63 L611.68 224.60 L611.94 225.54 L612.18 229.97 L612.44 229.31 L612.68 225.54 L612.94 226.05 L613.18 228.94 L613.44 230.61 L613.68 225.17 L613.94 224.12 L614.18 231.43 L614.44 230.13 L614.68 224.21 L614.94 222.88 L615.18 229.15 L615.44 229.33 L615.68 225.83 L615.94 224.76 L616.18 227.77 L616.44 228.68 L616.68 225.14 L616.94 222.96 L617.18 229.11 L617.44 227.77 L617.68 224.41 L617.94 222.98 L618.18 228.55 L618.44 227.94 L618.68 223.28 L618.94 225.31 L619.18 229.17 L619.44 229.05 L619.68 223.26 L619.94 223.67 L620.18 228.58 L620.44 227.58 L620.68 224.19 L620.94 223.57 L621.18 228.09 L621.44 228.51 L621.68 224.63 L621.94 223.02 L622.18 228.30 L622.44 228.51 L622.68 222.97 L622.94 223.29 L623.18 227.94 L623.44 228.29 L623.68 222.24 L623.94 222.49 L624.18 229.82 L624.44 229.19 L624.68 223.62 L624.94 224.23 L625.18 228.44 L625.44 227.14 L625.68 222.93 L625.94 222.75 L626.18 227.74 L626.44 227.55 L626.68 222.85 L626.94 222.68 L627.18 228.50 L627.44 227.19 L627.68 222.67 L627.94 222.11 L628.18 228.04 L628.44 227.59 L628.68 222.19 L628.94 223.17 L629.18 229.25 L629.44 226.84 L629.68 222.64 L629.94 221.94 L630.18 228.50 L630.44 228.89 L630.68 222.48 L630.94 223.27 L631.18 228.44 L631.44 229.10 L631.68 222.67 L631.94 220.79 L632.18 228.19 L632.44 227.30 L632.68 222.28 L632.94 222.73 L633.18 227.95 L633.44 227.38 L633.68 223.50 L633.94 222.62 L634.18 226.50 L634.44 227.51 L634.68 222.71 L634.94 220.30 L635.18 228.88 L635.44 227.95 L635.68 222.78 L635.94 222.32 L636.18 228.28 L636.44 229.06 L636.68 220.30 L636.94 222.91 L637.18 228.58 L637.44 227.32 L637.68 222.98 L637.94 222.65 L638.18 227.93 L638.44 227.03 L638.68 221.59 L638.94 221.58 L639.18 227.80 L639.44 227.53 L639.68 221.81 L639.94 222.15 L640.18 228.11 L640.44 228.07 L640.68 221.99 L640.94 222.02 L641.18 228.70 L641.44 227.57 L641.68 223.01 L641.94 221.12 L642.18 226.76 L642.44 227.55 L642.68 223.05 L642.94 221.69 L643.18 227.58 L643.44 226.50 L643.68 223.26 L643.94 220.09 L644.18 227.38 L644.44 226.41 L644.68 222.16 L644.94 222.86 L645.18 227.92 L645.44 228.08 L645.68 221.71 L645.94 221.89 L646.18 228.12 L646.44 226.51 L646.68 222.35 L646.94 221.60 L647.18 227.89 L647.44 227.88 L647.68 221.77 L647.94 222.44 L648.18 227.60 L648.44 226.96 L648.68 219.73 L648.94 221.42 L649.18 227.22 L649.44 227.12 L649.68 222.14 L649.94 221.60 L650.18 227.45 L650.44 226.68 L650.68 220.87 L650.94 222.01 L651.18 227.64 L651.44 227.65 L651.68 221.48 L651.94 221.52 L652.18 228.36 L652.44 227.82 L652.68 222.22 L652.94 220.71 L653.18 226.66 L653.44 227.30 L653.68 221.52 L653.94 220.09 L654.18 225.89 L654.44 227.14 L654.68 221.52 L654.94 221.06 L655.18 227.71 L655.44 228.09 L655.68 221.44 L655.94 221.06 L656.18 226.43 L656.44 227.88 L656.68 221.38 L656.94 221.31 L657.18 227.37 L657.44 227.32 L657.68 221.78 L657.94 221.50 L658.18 227.06 L658.44 227.20 L658.68 221.82 L658.94 218.98 L659.18 228.75 L659.44 227.99 L659.68 220.26 L659.94 220.89 L660.18 228.08 L660.44 226.83 L660.68 221.12 L660.94 221.28 L661.18 228.14 L661.44 227.72 L661.68 221.58 L661.94 221.90 L662.18 227.18 L662.44 227.41 L662.68 222.19 L662.94 221.98 L663.18 227.11 L663.44 226.03 L663.68 221.53 L663.94 221.67 L664.18 226.13 L664.44 227.03 L664.68 221.85 L664.94 221.57 L665.18 227.48 L665.44 227.45 L665.68 222.54 L665.94 220.43 L666.18 226.80 L666.44 228.00 L666.68 220.76 L666.94 220.70 L667.18 226.07 L667.44 226.98 L667.68 221.75 L667.94 221.15 L668.18 226.23 L668.44 226.93 L668.68 220.80 L668.94 219.47 L669.18 226.94 L669.44 226.65 L669.68 221.62 L669.94 221.11 L670.18 226.93 L670.44 226.06 L670.68 219.92 L670.94 221.22 L671.18 226.63 L671.44 227.15 L671.68 221.47 L671.94 221.86 L672.18 226.41 L672.44 228.30 L672.68 221.45 L672.94 220.34 L673.18 226.20 L673.44 226.92 L673.68 218.80 L673.94 221.54 L674.18 226.19 L674.44 226.89 L674.68 220.73 L674.94 220.58 L675.18 225.81 L675.44 226.86 L675.68 220.42 L675.94 221.71 L676.18 226.31 L676.44 226.08 L676.68 220.82 L676.94 220.93 L677.18 226.63 L677.44 226.35 L677.68 221.23 L677.94 218.97 L678.18 227.26 L678.44 227.28 L678.68 218.98 L678.94 221.46 L679.18 226.06 L679.44 226.57 L679.68 221.41 L679.94 221.59 L680.18 227.53 L680.44 226.03 L680.68 220.78 L680.94 220.42 L681.18 226.14 L681.44 226.83 L681.68 219.47 L681.94 220.60 L682.18 226.18 L682.44 226.56 L682.68 220.98 L682.94 221.42 L683.18 226.48 L683.44 226.86 L683.68 220.35 L683.94 219.66 L684.18 226.90 L684.44 226.80 L684.68 218.96 L684.94 220.68 L685.18 226.11 L685.44 227.98 L685.68 221.69 L685.94 221.22 L686.18 226.20 L686.44 226.13 L686.68 219.17 L686.94 221.42 L687.18 225.79 L687.44 226.29 L687.68 220.94 L687.94 220.14 L688.18 226.28 L688.44 225.80 L688.68 220.90 L688.94 220.72 L689.18 226.19 L689.44 226.29 L689.68 220.90 L689.94 218.48 L690.18 226.86 L690.44 225.84 L690.68 221.61 L690.94 219.65 L691.18 225.85 L691.44 226.30 L691.68 220.26 L691.94 219.94 L692.18 227.31 L692.44 226.16 L692.68 219.99 L692.94 220.03 L693.18 225.08 L693.44 226.30 L693.68 220.60" stroke="#f00a0a" stroke-width="2.2"/><path d="M395.50 352.10 L417.93 352.06 L431.05 352.01 L440.35 351.96 L447.57 351.92 L453.47 351.88 L458.46 351.83 L462.78 351.78 L466.59 351.73 L470.00 351.67 L473.08 351.61 L475.90 351.54 L478.49 351.48 L480.89 351.41 L483.12 351.34 L485.21 351.28 L487.17 351.20 L489.02 351.13 L490.77 351.06 L492.43 350.94 L494.01 350.73 L495.51 350.54 L496.95 350.29 L498.33 350.01 L499.65 349.74 L500.92 349.42 L502.14 349.13 L503.31 348.84 L504.45 348.48 L505.55 348.18 L506.61 347.89 L507.63 347.56 L508.63 347.22 L509.60 346.91 L510.53 346.65 L511.44 346.36 L512.33 346.01 L513.19 345.75 L514.03 345.41 L514.85 345.02 L515.65 344.58 L516.43 344.25 L517.19 343.76 L517.94 343.35 L518.66 342.95 L519.38 342.67 L520.07 342.16 L520.75 341.68 L521.42 341.44 L522.07 340.99 L522.71 340.66 L523.34 340.18 L523.96 339.80 L524.56 339.48 L525.16 339.03 L525.74 338.48 L526.31 338.13 L526.88 337.68 L527.43 337.12 L527.97 336.56 L528.51 336.53 L529.03 335.86 L529.55 335.75 L530.06 335.15 L530.44 334.88 L530.68 334.51 L530.94 334.46 L531.18 334.51 L531.44 333.88 L531.68 333.69 L531.94 333.37 L532.18 333.75 L532.44 333.49 L532.68 332.90 L532.94 332.03 L533.18 332.71 L533.44 332.33 L533.68 332.15 L533.94 331.40 L534.18 331.71 L534.44 330.91 L534.68 330.65 L534.94 330.01 L535.18 330.22 L535.44 330.36 L535.68 330.18 L535.94 329.23 L536.18 329.30 L536.44 328.90 L536.68 328.56 L536.94 328.06 L537.18 328.79 L537.44 327.66 L537.68 327.42 L537.94 326.69 L538.18 326.93 L538.44 326.47 L538.68 326.05 L538.94 324.94 L539.18 325.94 L539.44 324.46 L539.68 324.05 L539.94 323.76 L540.18 324.33 L540.44 323.54 L540.68 322.51 L540.94 322.06 L541.18 322.98 L541.44 321.80 L541.68 321.70 L541.94 320.17 L542.18 321.44 L542.44 320.83 L542.68 319.91 L542.94 318.71 L543.18 319.83 L543.44 318.91 L543.68 318.22 L543.94 317.65 L544.18 318.07 L544.44 316.90 L544.68 316.41 L544.94 315.08 L545.18 315.61 L545.44 315.77 L545.68 314.81 L545.94 314.68 L546.18 314.89 L546.44 314.43 L546.68 313.92 L546.94 312.30 L547.18 313.04 L547.44 311.75 L547.68 311.15 L547.94 311.15 L548.18 311.35 L548.44 309.93 L548.68 309.29 L548.94 309.44 L549.18 309.54 L549.44 309.69 L549.68 308.49 L549.94 307.41 L550.18 308.72 L550.44 308.17 L550.68 306.15 L550.94 306.11 L551.18 306.76 L551.44 305.25 L551.68 303.30 L551.94 303.29 L552.18 303.62 L552.44 304.18 L552.68 302.87 L552.94 302.36 L553.18 302.55 L553.44 301.42 L553.68 300.68 L553.94 300.29 L554.18 300.51 L554.44 300.41 L554.68 299.25 L554.94 299.03 L555.18 299.39 L555.44 297.48 L555.68 295.38 L555.94 297.05 L556.18 297.12 L556.44 296.27 L556.68 295.17 L556.94 294.58 L557.18 294.99 L557.44 294.38 L557.68 294.18 L557.94 293.05 L558.18 293.21 L558.44 293.30 L558.68 293.05 L558.94 291.04 L559.18 292.07 L559.44 290.78 L559.68 287.59 L559.94 288.52 L560.18 290.64 L560.44 288.25 L560.68 287.78 L560.94 287.20 L561.18 287.50 L561.44 287.16 L561.68 286.31 L561.94 283.16 L562.18 286.72 L562.44 285.37 L562.68 283.64 L562.94 282.15 L563.18 283.03 L563.44 284.86 L563.68 282.17 L563.94 280.96 L564.18 282.04 L564.44 281.47 L564.68 280.40 L564.94 277.78 L565.18 280.19 L565.44 278.77 L565.68 278.03 L565.94 277.46 L566.18 280.16 L566.44 277.37 L566.68 275.15 L566.94 273.61 L567.18 276.04 L567.44 277.32 L567.68 273.56 L567.94 272.53 L568.18 274.53 L568.44 272.96 L568.68 272.72 L568.94 270.17 L569.18 272.55 L569.44 271.29 L569.68 270.48 L569.94 270.07 L570.18 272.11 L570.44 271.37 L570.68 266.98 L570.94 266.02 L571.18 269.04 L571.44 268.99 L571.68 265.54 L571.94 265.04 L572.18 267.09 L572.44 269.47 L572.68 265.41 L572.94 263.57 L573.18 268.45 L573.44 265.00 L573.68 263.96 L573.94 263.68 L574.18 266.11 L574.44 264.18 L574.68 262.16 L574.94 262.16 L575.18 265.26 L575.44 264.61 L575.68 261.97 L575.94 259.51 L576.18 261.65 L576.44 263.93 L576.68 259.62 L576.94 259.47 L577.18 262.70 L577.44 260.68 L577.68 257.45 L577.94 257.63 L578.18 260.72 L578.44 261.64 L578.68 259.33 L578.94 258.28 L579.18 260.01 L579.44 260.30 L579.68 258.13 L579.94 256.64 L580.18 258.16 L580.44 260.30 L580.68 256.15 L580.94 256.28 L581.18 259.19 L581.44 259.96 L581.68 255.01 L581.94 254.55 L582.18 257.87 L582.44 255.91 L582.68 252.59 L582.94 254.09 L583.18 257.29 L583.44 256.63 L583.68 252.82 L583.94 253.46 L584.18 255.19 L584.44 253.73 L584.68 251.52 L584.94 252.00 L585.18 255.46 L585.44 253.35 L585.68 250.20 L585.94 250.54 L586.18 255.19 L586.44 254.31 L586.68 249.60 L586.94 249.15 L587.18 252.44 L587.44 253.15 L587.68 249.39 L587.94 249.22 L588.18 252.45 L588.44 251.32 L588.68 247.66 L588.94 247.70 L589.18 250.35 L589.44 249.93 L589.68 245.09 L589.94 243.10 L590.18 247.69 L590.44 249.90 L590.68 245.41 L590.94 243.74 L591.18 247.55 L591.44 247.23 L591.68 242.57 L591.94 245.44 L592.18 247.97 L592.44 249.19 L592.68 243.83 L592.94 242.72 L593.18 246.27 L593.44 246.54 L593.68 243.04 L593.94 241.30 L594.18 245.68 L594.44 246.08 L594.68 241.13 L594.94 239.97 L595.18 245.77 L595.44 242.84 L595.68 238.25 L595.94 237.61 L596.18 244.28 L596.44 244.26 L596.68 239.17 L596.94 237.35 L597.18 242.99 L597.44 243.88 L597.68 238.43 L597.94 237.73 L598.18 242.50 L598.44 241.07 L598.68 236.82 L598.94 236.56 L599.18 241.52 L599.44 244.48 L599.68 237.98 L599.94 238.97 L600.18 243.56 L600.44 241.20 L600.68 236.42 L600.94 234.89 L601.18 240.08 L601.44 240.55 L601.68 235.93 L601.94 237.27 L602.18 240.51 L602.44 241.07 L602.68 235.02 L602.94 236.16 L603.18 240.87 L603.44 239.97 L603.68 234.66 L603.94 234.54 L604.18 239.72 L604.44 239.65 L604.68 235.89 L604.94 234.83 L605.18 238.72 L605.44 240.55 L605.68 233.73 L605.94 233.62 L606.18 238.63 L606.44 237.94 L606.68 234.89 L606.94 234.13 L607.18 239.91 L607.44 239.52 L607.68 233.54 L607.94 232.77 L608.18 239.80 L608.44 238.56 L608.68 234.31 L608.94 232.83 L609.18 239.12 L609.44 238.08 L609.68 231.88 L609.94 231.37 L610.18 238.17 L610.44 238.81 L610.68 231.06 L610.94 233.14 L611.18 237.24 L611.44 237.97 L611.68 231.09 L611.94 232.74 L612.18 238.55 L612.44 239.31 L612.68 228.45 L612.94 230.87 L613.18 236.85 L613.44 238.20 L613.68 231.41 L613.94 232.40 L614.18 237.69 L614.44 236.52 L614.68 231.03 L614.94 231.36 L615.18 236.93 L615.44 236.53 L615.68 229.49 L615.94 230.27 L616.18 235.34 L616.44 237.33 L616.68 231.05 L616.94 229.44 L617.18 234.88 L617.44 236.63 L617.68 230.79 L617.94 230.73 L618.18 236.46 L618.44 237.48 L618.68 229.38 L618.94 229.41 L619.18 236.45 L619.44 235.65 L619.68 231.27 L619.94 228.60 L620.18 234.12 L620.44 235.95 L620.68 231.46 L620.94 229.05 L621.18 236.50 L621.44 238.53 L621.68 227.37 L621.94 229.58 L622.18 236.73 L622.44 237.94 L622.68 229.78 L622.94 229.20 L623.18 234.71 L623.44 235.17 L623.68 227.11 L623.94 228.47 L624.18 235.07 L624.44 235.35 L624.68 228.24 L624.94 228.73 L625.18 237.03 L625.44 234.74 L625.68 228.79 L625.94 229.41 L626.18 235.64 L626.44 237.31 L626.68 227.96 L626.94 229.18 L627.18 235.54 L627.44 235.03 L627.68 229.53 L627.94 229.61 L628.18 234.80 L628.44 235.23 L628.68 228.71 L628.94 228.88 L629.18 235.21 L629.44 236.69 L629.68 228.32 L629.94 227.17 L630.18 238.13 L630.44 236.42 L630.68 228.06 L630.94 228.74 L631.18 234.79 L631.44 235.85 L631.68 227.60 L631.94 228.84 L632.18 234.86 L632.44 234.00 L632.68 229.52 L632.94 230.43 L633.18 234.91 L633.44 236.79 L633.68 228.64 L633.94 228.23 L634.18 235.62 L634.44 234.94 L634.68 229.89 L634.94 228.64 L635.18 233.73 L635.44 234.77 L635.68 228.99 L635.94 228.73 L636.18 236.63 L636.44 234.73 L636.68 228.21 L636.94 227.38 L637.18 235.99 L637.44 235.65 L637.68 229.81 L637.94 227.56 L638.18 233.62 L638.44 235.76 L638.68 227.51 L638.94 228.35 L639.18 236.51 L639.44 235.26 L639.68 228.44 L639.94 228.17 L640.18 236.76 L640.44 233.87 L640.68 228.56 L640.94 227.72 L641.18 234.85 L641.44 236.46 L641.68 226.83 L641.94 226.55 L642.18 235.14 L642.44 236.19 L642.68 228.18 L642.94 227.69 L643.18 235.71 L643.44 236.54 L643.68 227.55 L643.94 227.03 L644.18 236.19 L644.44 235.74 L644.68 228.59 L644.94 226.84 L645.18 236.00 L645.44 235.83 L645.68 226.50 L645.94 228.49 L646.18 235.43 L646.44 237.30 L646.68 227.03 L646.94 227.73 L647.18 235.53 L647.44 235.10 L647.68 228.11 L647.94 227.87 L648.18 236.22 L648.44 237.58 L648.68 228.18 L648.94 228.26 L649.18 238.04 L649.44 236.22 L649.68 227.30 L649.94 228.44 L650.18 236.67 L650.44 236.38 L650.68 226.69 L650.94 227.07 L651.18 235.55 L651.44 234.89 L651.68 227.18 L651.94 228.70 L652.18 234.40 L652.44 236.00 L652.68 227.78 L652.94 228.23 L653.18 236.83 L653.44 235.98 L653.68 227.93 L653.94 227.36 L654.18 236.65 L654.44 236.93 L654.68 227.61 L654.94 227.82 L655.18 235.60 L655.44 234.98 L655.68 227.80 L655.94 227.80 L656.18 237.68 L656.44 234.59 L656.68 227.36 L656.94 228.21 L657.18 235.50 L657.44 234.44 L657.68 227.64 L657.94 227.69 L658.18 235.04 L658.44 235.29 L658.68 227.47 L658.94 226.80 L659.18 235.15 L659.44 234.07 L659.68 227.45 L659.94 226.58 L660.18 236.50 L660.44 235.86 L660.68 228.76 L660.94 228.07 L661.18 235.77 L661.44 235.76 L661.68 226.64 L661.94 225.87 L662.18 235.15 L662.44 235.17 L662.68 227.97 L662.94 228.20 L663.18 235.30 L663.44 234.38 L663.68 227.66 L663.94 227.87 L664.18 235.83 L664.44 233.94 L664.68 226.86 L664.94 227.72 L665.18 235.99 L665.44 235.60 L665.68 228.00 L665.94 226.78 L666.18 234.69 L666.44 234.34 L666.68 227.19 L666.94 228.11 L667.18 234.91 L667.44 238.22 L667.68 226.20 L667.94 228.51 L668.18 234.88 L668.44 234.53 L668.68 227.17 L668.94 226.75 L669.18 236.02 L669.44 233.96 L669.68 226.54 L669.94 227.98 L670.18 234.74 L670.44 235.44 L670.68 226.91 L670.94 228.07 L671.18 234.52 L671.44 235.66 L671.68 227.43 L671.94 228.00 L672.18 235.36 L672.44 235.59 L672.68 227.88 L672.94 227.53 L673.18 235.16 L673.44 236.06 L673.68 228.25 L673.94 227.79 L674.18 234.91 L674.44 235.14 L674.68 227.29 L674.94 226.47 L675.18 235.26 L675.44 235.03 L675.68 227.06 L675.94 227.09 L676.18 235.23 L676.44 235.23 L676.68 226.57 L676.94 227.08 L677.18 235.02 L677.44 236.62 L677.68 226.24 L677.94 227.50 L678.18 234.97 L678.44 235.33 L678.68 228.76 L678.94 226.97 L679.18 235.97 L679.44 234.03 L679.68 226.17 L679.94 226.82 L680.18 234.46 L680.44 234.49 L680.68 225.87 L680.94 226.74 L681.18 234.63 L681.44 235.90 L681.68 227.44 L681.94 227.55 L682.18 234.32 L682.44 234.98 L682.68 226.85 L682.94 227.98 L683.18 234.89 L683.44 235.06 L683.68 227.04 L683.94 227.44 L684.18 234.01 L684.44 233.78 L684.68 226.89 L684.94 227.73 L685.18 235.37 L685.44 235.02 L685.68 228.01 L685.94 226.50 L686.18 234.30 L686.44 234.10 L686.68 225.77 L686.94 226.79 L687.18 234.92 L687.44 234.00 L687.68 226.65 L687.94 228.13 L688.18 235.67 L688.44 235.67 L688.68 226.86 L688.94 227.10 L689.18 234.22 L689.44 234.30 L689.68 225.93 L689.94 227.85 L690.18 234.43 L690.44 234.65 L690.68 225.67 L690.94 227.04 L691.18 234.58 L691.44 234.53 L691.68 227.22 L691.94 226.07 L692.18 234.74 L692.44 235.16 L692.68 227.82 L692.94 227.77 L693.18 234.93 L693.44 234.64 L693.68 226.62" stroke="#000" stroke-width="1.5"/></g><text x="389.5" y="358.4" text-anchor="end" font-size="11.2">0</text><text x="389.5" y="319.5" text-anchor="end" font-size="11.2">2</text><text x="389.5" y="280.6" text-anchor="end" font-size="11.2">4</text><text x="389.5" y="241.8" text-anchor="end" font-size="11.2">6</text><text x="389.5" y="202.9" text-anchor="end" font-size="11.2">8</text><text x="56.0" y="371.5" text-anchor="middle" font-size="11">10<tspan font-size="8.5" dy="-6" dx="0.3">-1</tspan></text><text x="130.6" y="371.5" text-anchor="middle" font-size="11">10<tspan font-size="8.5" dy="-6" dx="0.3">0</tspan></text><text x="205.2" y="371.5" text-anchor="middle" font-size="11">10<tspan font-size="8.5" dy="-6" dx="0.3">1</tspan></text><text x="279.7" y="371.5" text-anchor="middle" font-size="11">10<tspan font-size="8.5" dy="-6" dx="0.3">2</tspan></text><text x="186.8" y="388.8" font-size="12.8">f</text><text x="201.2" y="388.8" font-size="12.8">[Hz]</text><text x="395.5" y="371.5" text-anchor="middle" font-size="11">10<tspan font-size="8.5" dy="-6" dx="0.3">-1</tspan></text><text x="470.0" y="371.5" text-anchor="middle" font-size="11">10<tspan font-size="8.5" dy="-6" dx="0.3">0</tspan></text><text x="544.5" y="371.5" text-anchor="middle" font-size="11">10<tspan font-size="8.5" dy="-6" dx="0.3">1</tspan></text><text x="619.0" y="371.5" text-anchor="middle" font-size="11">10<tspan font-size="8.5" dy="-6" dx="0.3">2</tspan></text><text x="524.3" y="388.8" font-size="12.8">f</text><text x="540.5" y="388.8" font-size="12.8">[Hz]</text><path d="M56.9 12.2L62.5 17.6M56.9 17.6L62.5 12.2" stroke="#333" stroke-width="0.8" fill="none"/><text x="64.5" y="17.6" font-size="11">10</text><text x="77.5" y="12.4" font-size="8.5">-3</text><path d="M62.3 189.7L67.9 195.1M62.3 195.1L67.9 189.7" stroke="#333" stroke-width="0.8" fill="none"/><text x="69.9" y="195.1" font-size="11">10</text><text x="82.9" y="189.9" font-size="8.5">-3</text><path d="M400.5 12.3L406.1 17.7M400.5 17.7L406.1 12.3" stroke="#333" stroke-width="0.8" fill="none"/><text x="408.1" y="17.7" font-size="11">10</text><text x="421.1" y="12.5" font-size="8.5">-3</text><path d="M400.5 189.6L406.1 195.0M400.5 195.0L406.1 189.6" stroke="#333" stroke-width="0.8" fill="none"/><text x="408.1" y="195.0" font-size="11">10</text><text x="421.1" y="189.8" font-size="8.5">-3</text><text x="122" y="12.9" font-size="17" font-weight="bold" letter-spacing="-0.12">Depressing synapse</text><text x="463.5" y="12.9" font-size="17" font-weight="bold" letter-spacing="-0.12">Facilitating synapse</text><text x="66.4" y="41.2" font-size="18">i</text><text x="64.3" y="216.8" font-size="18">ii</text><text x="404.9" y="40.9" font-size="18">iii</text><text x="404.5" y="216.7" font-size="18">iv</text><text transform="translate(9.5,100.85) rotate(-90)" text-anchor="middle" font-size="13">10 Hz</text><text transform="translate(26.3,101.0) rotate(-90)" text-anchor="middle" font-size="13.3" xml:space="preserve" style="white-space:pre">S<tspan font-size="9.5" dy="5.5">y</tspan><tspan dy="-5.5">(f)   [Hz]</tspan></text><text transform="translate(9.5,276.7) rotate(-90)" text-anchor="middle" font-size="13">100 Hz</text><text transform="translate(26.3,277.6) rotate(-90)" text-anchor="middle" font-size="13.3" xml:space="preserve" style="white-space:pre">S<tspan font-size="9.5" dy="5.5">y</tspan><tspan dy="-5.5">(f)   [Hz]</tspan></text><rect x="196.5" y="106.5" width="149" height="65" fill="#fff" stroke="#262626" stroke-width="1"/><path d="M201.3 118.6H236.4" stroke="#0b0bf0" stroke-width="2.2"/><text x="242" y="123.6" font-size="13.5" letter-spacing="0.12">1st order MF</text><path d="M201.3 139.4H236.4" stroke="#f00a0a" stroke-width="2.2"/><text x="242" y="144.4" font-size="13.5" letter-spacing="0.12">2nd order MF</text><path d="M201.3 158.8H236.4" stroke="#000" stroke-width="1.5"/><text x="242" y="163.8" font-size="13.5" letter-spacing="0.12">microscopic</text></svg>
</body></html>
